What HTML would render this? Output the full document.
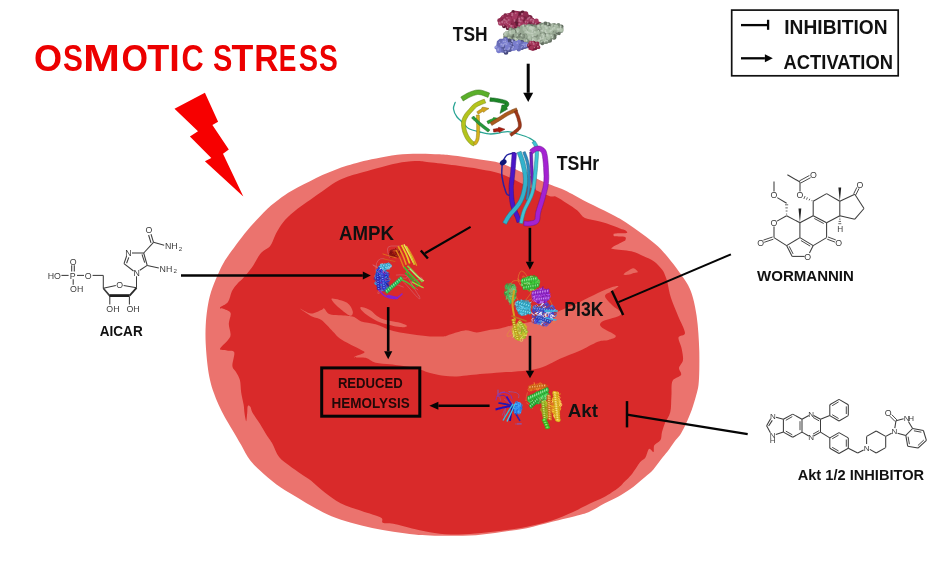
<!DOCTYPE html>
<html><head><meta charset="utf-8"><style>html,body{margin:0;padding:0;background:#fff;width:947px;height:561px;overflow:hidden}svg{display:block}text{font-family:"Liberation Sans",sans-serif}</style></head>
<body><svg width="947" height="561" viewBox="0 0 947 561" font-family="Liberation Sans, sans-serif"><rect width="947" height="561" fill="#fff"/>
<defs><filter id="cb" x="-5%" y="-5%" width="110%" height="110%"><feGaussianBlur stdDeviation="0.6"/></filter></defs><g filter="url(#cb)">
<path d="M418.4,153.7 C425.4,153.6 433.4,154.0 439.5,154.3 C445.6,154.7 448.2,154.9 455.0,155.8 C461.8,156.7 472.4,158.3 480.0,159.6 C487.6,160.8 493.2,161.0 500.7,163.3 C508.2,165.6 517.0,170.1 525.0,173.5 C533.0,176.9 542.5,181.4 548.6,183.9 C554.7,186.4 557.5,187.0 561.4,188.7 C565.3,190.4 568.5,192.2 572.1,194.1 C575.7,196.0 579.2,198.0 582.8,199.9 C586.4,201.8 589.9,203.5 593.5,205.3 C597.1,207.1 600.6,208.8 604.2,210.6 C607.8,212.4 611.3,214.0 614.9,216.0 C618.5,218.0 621.5,219.5 626.0,222.4 C630.5,225.3 636.6,229.7 642.0,233.7 C647.4,237.7 653.3,242.0 658.1,246.5 C662.9,251.0 667.2,256.4 670.9,260.9 C674.6,265.4 677.6,269.7 680.5,273.7 C683.4,277.7 685.9,281.0 688.0,285.0 C690.1,289.0 691.6,292.8 693.0,297.9 C694.4,303.0 695.7,309.8 696.6,315.7 C697.5,321.6 698.0,327.7 698.4,333.6 C698.8,339.6 699.1,345.3 699.3,351.4 C699.4,357.5 699.4,364.4 699.3,370.0 C699.2,375.6 699.0,380.7 698.5,385.0 C698.0,389.3 697.1,391.9 696.0,396.0 C694.9,400.1 693.3,405.4 691.7,409.9 C690.1,414.3 688.2,418.8 686.4,422.7 C684.6,426.6 682.8,430.5 681.0,433.4 C679.2,436.3 677.6,437.4 675.7,440.0 C673.8,442.6 671.6,445.9 669.4,448.9 C667.2,451.9 665.0,454.4 662.3,457.8 C659.6,461.2 656.4,466.1 653.4,469.4 C650.4,472.7 648.4,474.1 644.5,477.4 C640.6,480.7 634.3,486.1 630.0,489.3 C625.7,492.5 622.8,494.0 618.5,496.4 C614.2,498.8 609.0,501.0 604.3,503.5 C599.5,506.0 594.5,509.4 590.0,511.4 C585.5,513.4 583.7,513.8 577.4,515.5 C571.1,517.2 560.5,519.7 552.0,521.8 C543.5,523.9 535.1,526.5 526.7,528.2 C518.3,529.9 509.8,530.8 501.4,532.0 C492.9,533.2 484.4,534.6 476.0,535.2 C467.6,535.8 458.4,535.8 450.7,535.8 C443.0,535.8 436.0,535.6 430.0,535.4 C424.0,535.2 420.6,535.0 414.5,534.4 C408.4,533.8 400.4,532.8 393.4,531.7 C386.3,530.6 379.2,529.5 372.2,528.0 C365.1,526.5 357.9,524.7 351.1,522.7 C344.3,520.8 337.6,518.8 331.5,516.3 C325.4,513.8 320.2,510.9 314.6,507.8 C309.0,504.7 303.3,501.1 297.7,497.7 C292.1,494.3 286.4,491.4 280.8,487.5 C275.2,483.6 268.9,478.5 263.8,474.0 C258.7,469.5 254.1,465.4 250.3,460.5 C246.5,455.6 244.2,450.0 241.2,444.9 C238.2,439.8 235.1,434.5 232.4,429.9 C229.7,425.3 227.3,421.5 225.0,417.4 C222.7,413.2 220.6,409.1 218.7,405.0 C216.8,400.9 215.1,396.7 213.7,392.5 C212.2,388.3 211.0,384.6 210.0,380.0 C209.0,375.4 208.2,371.1 207.5,365.0 C206.8,358.9 206.0,350.0 205.7,343.4 C205.4,336.8 205.4,331.5 205.7,325.6 C206.0,319.7 206.6,313.4 207.5,307.8 C208.4,302.2 209.3,297.5 211.0,292.0 C212.7,286.5 215.5,280.0 217.8,274.8 C220.1,269.6 222.2,265.1 224.9,260.6 C227.6,256.2 230.5,252.6 233.8,248.1 C237.1,243.6 240.6,238.6 244.5,233.8 C248.4,229.1 252.6,224.3 257.0,219.6 C261.4,214.9 266.3,209.6 271.0,205.5 C275.7,201.4 280.6,197.9 285.0,194.9 C289.4,191.9 293.3,189.8 297.5,187.5 C301.7,185.2 305.9,183.3 310.0,181.2 C314.1,179.1 318.2,176.9 322.4,175.0 C326.5,173.1 330.7,171.6 334.9,170.0 C339.1,168.4 343.2,166.9 347.4,165.6 C351.6,164.2 355.2,163.1 360.0,161.9 C364.8,160.7 369.9,159.7 376.1,158.5 C382.3,157.3 390.1,155.6 397.2,154.8 C404.2,154.0 411.3,153.8 418.4,153.7Z" fill="#eb736e"/>
<path d="M415.2,161.1 C420.5,160.9 422.3,161.5 428.9,162.2 C435.5,162.9 446.5,164.1 455.0,165.3 C463.5,166.5 472.4,167.8 480.0,169.2 C487.6,170.6 493.2,171.1 500.7,173.7 C508.2,176.3 517.0,181.3 525.0,185.0 C533.0,188.7 543.4,193.8 548.6,195.7 C553.8,197.6 553.0,195.4 556.0,196.7 C559.0,197.9 563.1,200.9 566.7,203.2 C570.3,205.5 574.4,208.1 577.4,210.6 C580.4,213.1 581.3,216.3 584.9,218.1 C588.5,219.9 594.7,220.2 598.8,221.3 C602.9,222.4 606.0,223.3 609.5,224.5 C613.0,225.7 617.3,227.5 620.0,228.5 C622.7,229.5 624.5,229.8 625.6,230.6 C626.7,231.4 628.2,232.6 626.4,233.1 C624.6,233.6 617.1,233.3 615.0,233.6 C612.9,233.9 613.6,234.6 613.6,235.0 C613.6,235.4 613.1,236.0 615.0,236.3 C616.9,236.6 623.3,236.2 625.0,236.9 C626.7,237.6 625.4,239.7 625.2,240.4 C625.0,241.1 625.8,240.2 623.7,241.3 C621.6,242.4 614.4,245.9 612.6,247.2 C610.8,248.5 609.9,248.2 613.0,248.9 C616.1,249.6 626.1,250.0 631.2,251.2 C636.3,252.4 640.0,254.5 643.7,256.2 C647.5,257.9 650.7,259.0 653.7,261.2 C656.8,263.4 660.0,266.9 662.0,269.5 C664.0,272.1 664.6,274.2 665.5,276.5 C666.4,278.8 666.6,279.4 667.5,283.0 C668.4,286.6 669.2,292.6 671.0,298.0 C672.8,303.4 675.7,309.9 678.0,315.7 C680.3,321.5 684.9,329.4 685.0,333.0 C685.1,336.6 679.1,335.0 678.5,337.5 C677.9,340.0 680.8,344.2 681.5,348.0 C682.2,351.8 683.4,356.7 683.0,360.0 C682.6,363.3 679.3,365.5 679.0,368.0 C678.7,370.5 682.1,372.8 681.0,375.0 C679.9,377.2 674.1,377.5 672.5,381.0 C670.9,384.5 671.8,390.8 671.4,396.0 C671.0,401.2 671.4,407.5 670.3,412.0 C669.2,416.5 666.4,419.7 665.0,423.0 C663.6,426.3 662.8,429.2 662.0,432.0 C661.2,434.8 661.8,437.8 660.5,440.0 C659.2,442.2 655.5,443.3 654.3,445.3 C653.1,447.3 654.4,451.4 653.5,452.0 C652.6,452.6 650.4,448.0 649.0,449.0 C647.6,450.0 646.8,455.6 645.3,457.8 C643.8,460.0 642.2,459.6 640.0,462.3 C637.8,465.0 634.6,470.7 632.0,474.0 C629.4,477.3 626.5,479.8 624.2,482.1 C622.0,484.4 621.8,485.3 618.5,487.8 C615.2,490.3 609.0,494.5 604.3,497.1 C599.5,499.7 595.3,501.0 590.0,503.5 C584.7,506.0 578.8,509.5 572.5,512.3 C566.2,515.1 559.8,518.0 552.0,520.5 C544.2,523.0 534.4,525.3 526.0,527.0 C517.6,528.7 509.9,529.6 501.4,530.7 C492.9,531.8 483.4,532.9 475.0,533.5 C466.6,534.1 458.2,534.7 450.7,534.5 C443.2,534.3 436.0,533.1 430.0,532.2 C424.0,531.3 420.6,530.5 414.5,529.1 C408.4,527.7 398.7,524.9 393.4,523.8 C388.1,522.7 384.9,523.8 382.8,522.7 C380.7,521.7 384.2,519.4 380.7,517.5 C377.2,515.6 368.4,513.5 361.7,511.1 C355.0,508.7 346.8,506.3 340.6,503.2 C334.5,500.1 329.7,496.3 324.8,492.6 C319.9,488.9 315.1,483.9 311.2,480.8 C307.2,477.7 304.8,476.6 301.1,474.0 C297.4,471.4 292.9,468.3 289.2,465.5 C285.5,462.7 281.9,460.8 279.1,457.1 C276.3,453.4 274.2,447.0 272.3,443.5 C270.4,440.0 269.5,439.5 267.4,436.2 C265.3,432.9 262.4,427.7 259.9,423.7 C257.4,419.7 254.0,415.2 252.4,412.4 C250.8,409.6 251.3,408.1 250.5,407.0 C249.7,405.9 248.4,405.0 247.8,406.0 C247.2,407.0 247.5,410.5 247.2,413.0 C246.9,415.5 246.6,421.2 246.2,421.2 C245.8,421.2 244.9,415.7 244.5,413.0 C244.1,410.3 244.2,408.4 243.7,405.0 C243.1,401.6 241.8,396.7 241.2,392.5 C240.6,388.3 240.8,383.4 239.9,380.0 C239.0,376.6 237.2,374.3 236.0,372.0 C234.8,369.7 232.7,369.3 232.4,366.0 C232.1,362.7 235.1,354.9 234.2,352.3 C233.3,349.7 229.4,351.1 227.0,350.5 C224.6,349.9 219.8,350.8 220.0,349.0 C220.2,347.2 226.2,342.4 228.0,340.0 C229.8,337.6 230.5,337.2 230.6,334.5 C230.7,331.8 228.8,327.4 228.8,323.8 C228.8,320.2 231.4,315.6 230.6,313.1 C229.8,310.6 225.8,309.9 224.0,309.0 C222.2,308.1 219.3,308.7 220.0,307.5 C220.7,306.3 226.0,304.8 228.0,302.0 C230.0,299.2 230.3,294.2 232.0,291.0 C233.7,287.8 236.2,285.1 238.0,283.0 C239.8,280.9 240.5,280.9 242.8,278.4 C245.1,275.8 248.7,271.9 251.7,267.7 C254.7,263.5 257.6,257.0 260.6,253.4 C263.7,249.8 267.6,249.2 270.0,246.3 C272.4,243.4 273.6,238.7 274.9,236.0 C276.2,233.3 276.3,232.7 278.0,230.0 C279.7,227.3 281.8,223.6 285.0,220.0 C288.2,216.4 293.3,212.0 297.5,208.7 C301.7,205.3 305.9,202.8 310.0,199.9 C314.1,197.0 318.2,194.1 322.4,191.2 C326.5,188.3 330.7,184.9 334.9,182.5 C339.1,180.1 343.2,178.4 347.4,176.8 C351.6,175.2 355.2,174.5 360.0,173.1 C364.8,171.7 369.9,170.2 376.1,168.5 C382.3,166.8 390.7,164.4 397.2,163.2 C403.7,162.0 409.9,161.3 415.2,161.1Z" fill="#d92a29"/>
<path d="M300.0,308.5 C299.8,308.0 307.4,313.2 311.0,313.5 C314.6,313.8 319.2,310.8 321.4,310.0 C323.6,309.2 322.8,307.8 324.2,308.5 C325.6,309.2 326.2,313.1 330.0,314.3 C333.8,315.5 343.1,315.2 347.1,315.7 C351.1,316.2 351.8,316.2 354.2,317.1 C356.6,318.1 357.7,320.2 361.3,321.4 C364.9,322.6 370.8,322.8 375.6,324.2 C380.4,325.6 385.4,328.5 390.0,330.0 C394.6,331.5 398.9,332.2 403.4,333.0 C407.8,333.8 412.2,334.4 416.7,335.0 C421.1,335.6 425.6,336.2 430.1,336.4 C434.6,336.6 440.2,336.7 443.5,336.4 C446.8,336.1 446.6,335.4 450.1,334.4 C453.7,333.4 460.3,330.7 464.8,330.4 C469.3,330.1 472.7,332.5 476.9,332.4 C481.1,332.3 486.3,330.4 490.2,329.7 C494.1,329.0 496.1,329.2 500.0,328.4 C503.9,327.6 508.3,326.1 513.7,324.9 C519.1,323.7 526.2,322.9 532.4,321.2 C538.6,319.5 545.7,316.7 551.1,314.6 C556.5,312.5 560.3,310.5 565.0,308.5 C569.7,306.5 573.7,305.0 579.2,302.4 C584.7,299.8 592.6,295.6 597.9,293.1 C603.2,290.6 607.6,288.6 611.0,287.5 C614.4,286.4 618.3,285.7 618.5,286.3 C618.7,286.9 614.2,289.4 612.0,291.0 C609.8,292.6 605.0,293.7 605.0,296.0 C605.0,298.3 609.3,302.0 612.0,305.0 C614.7,308.0 622.9,311.5 621.4,314.2 C619.9,316.9 606.1,319.2 602.8,321.3 C599.5,323.4 599.3,324.6 601.4,327.0 C603.5,329.4 614.4,333.5 615.6,335.6 C616.8,337.8 611.5,338.9 608.5,339.9 C605.5,340.9 602.8,339.8 597.9,341.7 C593.0,343.6 585.4,348.3 579.2,351.1 C573.0,353.9 566.1,356.1 560.5,358.6 C554.9,361.1 550.2,364.1 545.5,366.0 C540.8,367.9 537.7,368.9 532.4,369.8 C527.1,370.8 519.1,371.2 513.7,371.7 C508.3,372.1 505.0,372.1 500.0,372.5 C495.0,372.9 488.6,373.4 483.6,373.8 C478.6,374.2 474.7,374.7 470.2,375.1 C465.7,375.6 461.2,376.4 456.8,376.5 C452.4,376.6 447.9,376.4 443.5,375.8 C439.1,375.2 433.9,374.1 430.1,373.1 C426.3,372.1 424.1,370.8 420.7,369.8 C417.3,368.8 413.4,367.7 410.0,367.0 C406.6,366.3 403.4,366.1 400.0,365.6 C396.6,365.1 394.0,364.7 389.9,364.2 C385.8,363.7 379.7,363.9 375.6,362.8 C371.6,361.7 369.2,358.8 365.6,357.8 C362.0,356.9 354.4,357.9 354.2,357.1 C354.0,356.3 363.0,354.0 364.2,352.8 C365.4,351.6 363.7,351.3 361.3,349.9 C358.9,348.5 353.5,346.1 349.9,344.2 C346.3,342.3 342.8,340.6 339.9,338.5 C337.0,336.4 335.9,334.5 332.8,331.4 C329.7,328.3 324.9,322.5 321.4,320.0 C317.9,317.5 315.6,318.4 312.0,316.5 C308.4,314.6 300.2,309.0 300.0,308.5Z" fill="#e7675f"/>
<path d="M332.8,298.6 C335.2,298.8 343.8,300.7 347.1,302.8 C350.4,304.9 352.3,309.2 352.8,311.4 C353.3,313.5 352.0,316.2 349.9,315.7 C347.8,315.2 342.8,310.9 339.9,308.5 C337.0,306.1 334.0,303.0 332.8,301.4 C331.6,299.8 330.4,298.4 332.8,298.6Z" fill="#e7675f"/>
<path d="M361.3,307.1 C362.7,307.1 366.6,308.1 369.9,310.0 C373.2,311.9 376.3,316.4 381.3,318.5 C386.3,320.6 395.7,321.6 400.0,322.8 C404.3,324.1 407.0,325.3 407.0,326.0 C407.0,326.7 404.3,327.6 400.0,327.1 C395.7,326.6 386.3,324.5 381.3,322.8 C376.3,321.1 373.2,319.2 369.9,317.1 C366.6,315.0 362.7,311.7 361.3,310.0 C359.9,308.3 359.9,307.1 361.3,307.1Z" fill="#e7675f"/>
<path d="M623.5,274.2 C623.7,273.4 627.3,271.2 629.0,270.2 C630.7,269.2 632.0,268.0 633.5,268.3 C635.0,268.6 637.9,271.2 637.8,272.0 C637.7,272.8 634.6,272.7 633.0,273.2 C631.4,273.7 629.6,274.6 628.0,274.8 C626.4,275.0 623.3,275.0 623.5,274.2Z" fill="#e7675f"/>
</g>
<path d="M174.5,108.8 L204.9,92.8 L218.1,121.7 L212.4,124.9 L228.8,149.4 L223.0,153.7 L243.3,196.5 L204.9,161.2 L211.3,158.0 L189.9,136.6 L198.0,131.3Z" fill="#f70000"/>
<line x1="528.2" y1="63.7" x2="528.2" y2="92.8" stroke="#050505" stroke-width="3.00" stroke-linecap="butt"/><path d="M523.2,92.8 L533.2,92.8 L528.2,102.0 Z" fill="#050505"/>
<line x1="181.0" y1="275.5" x2="362.8" y2="275.5" stroke="#050505" stroke-width="2.60" stroke-linecap="butt"/><path d="M362.8,271.6 L362.8,279.4 L370.8,275.5 Z" fill="#050505"/>
<line x1="529.9" y1="227.8" x2="529.9" y2="261.7" stroke="#050505" stroke-width="2.60" stroke-linecap="butt"/><path d="M525.8,261.7 L534.0,261.7 L529.9,269.7 Z" fill="#050505"/>
<line x1="388.2" y1="307.1" x2="388.2" y2="351.3" stroke="#050505" stroke-width="2.60" stroke-linecap="butt"/><path d="M384.1,351.3 L392.3,351.3 L388.2,359.2 Z" fill="#050505"/>
<line x1="530.0" y1="335.8" x2="530.0" y2="370.7" stroke="#050505" stroke-width="2.60" stroke-linecap="butt"/><path d="M525.8,370.7 L534.2,370.7 L530.0,378.3 Z" fill="#050505"/>
<line x1="489.6" y1="405.8" x2="438.4" y2="405.8" stroke="#050505" stroke-width="2.60" stroke-linecap="butt"/><path d="M438.4,401.8 L438.4,409.8 L429.4,405.8 Z" fill="#050505"/>
<line x1="470.6" y1="226.9" x2="425.0" y2="253.2" stroke="#050505" stroke-width="2.20" stroke-linecap="butt"/>
<line x1="420.8" y1="250.5" x2="427.9" y2="258.5" stroke="#050505" stroke-width="2.40" stroke-linecap="butt"/>
<line x1="730.9" y1="254.4" x2="618.5" y2="302.1" stroke="#050505" stroke-width="2.10" stroke-linecap="butt"/>
<line x1="611.8" y1="290.7" x2="623.2" y2="314.9" stroke="#050505" stroke-width="2.40" stroke-linecap="butt"/>
<line x1="747.7" y1="434.1" x2="627.0" y2="414.6" stroke="#050505" stroke-width="2.10" stroke-linecap="butt"/>
<line x1="627.0" y1="401.1" x2="627.0" y2="427.4" stroke="#050505" stroke-width="2.50" stroke-linecap="butt"/>
<rect x="321.7" y="367.9" width="98.1" height="48.3" fill="none" stroke="#050505" stroke-width="3"/>
<rect x="731.7" y="10.1" width="166.5" height="65.7" fill="#fff" stroke="#111" stroke-width="1.7"/>
<line x1="741.0" y1="25.1" x2="768.3" y2="25.1" stroke="#050505" stroke-width="2.30" stroke-linecap="butt"/>
<line x1="768.1" y1="19.8" x2="768.1" y2="29.8" stroke="#050505" stroke-width="2.30" stroke-linecap="butt"/>
<line x1="741.0" y1="58.3" x2="764.9" y2="58.3" stroke="#050505" stroke-width="2.30" stroke-linecap="butt"/><path d="M764.9,54.3 L764.9,62.3 L772.8,58.3 Z" fill="#050505"/>
<defs><filter id="pb" x="-20%" y="-20%" width="140%" height="140%"><feGaussianBlur stdDeviation="0.35"/></filter></defs>
<g filter="url(#pb)"><path d="M498.3,19.7 L501.8,15.8 L507.6,14.3 L513.5,10.4 L521.4,11.4 L529.2,14.8 L533.1,19.7 L541.0,22.2 L541.0,24.6 L533.1,25.6 L527.3,25.6 L519.4,28.5 L511.6,29.0 L502.7,26.6 L498.5,23.5 Z" fill="#90294f"/><path d="M502.1,26.2a1.9,1.9 0 1,0 3.9,0a1.9,1.9 0 1,0 -3.9,0M517.6,18.8a1.8,1.8 0 1,0 3.7,0a1.8,1.8 0 1,0 -3.7,0M515.6,23.8a1.7,1.7 0 1,0 3.3,0a1.7,1.7 0 1,0 -3.3,0M505.7,28.0a2.3,2.3 0 1,0 4.7,0a2.3,2.3 0 1,0 -4.7,0M532.0,22.9a1.7,1.7 0 1,0 3.5,0a1.7,1.7 0 1,0 -3.5,0M503.5,20.6a2.1,2.1 0 1,0 4.3,0a2.1,2.1 0 1,0 -4.3,0M512.4,18.6a1.9,1.9 0 1,0 3.7,0a1.9,1.9 0 1,0 -3.7,0M520.4,18.9a2.6,2.6 0 1,0 5.2,0a2.6,2.6 0 1,0 -5.2,0M520.9,14.1a1.8,1.8 0 1,0 3.5,0a1.8,1.8 0 1,0 -3.5,0M518.0,19.4a1.8,1.8 0 1,0 3.7,0a1.8,1.8 0 1,0 -3.7,0M511.4,11.7a1.6,1.6 0 1,0 3.3,0a1.6,1.6 0 1,0 -3.3,0M517.9,14.3a2.2,2.2 0 1,0 4.4,0a2.2,2.2 0 1,0 -4.4,0M503.1,23.5a2.0,2.0 0 1,0 4.1,0a2.0,2.0 0 1,0 -4.1,0M513.0,21.1a2.1,2.1 0 1,0 4.3,0a2.1,2.1 0 1,0 -4.3,0M509.9,22.1a2.1,2.1 0 1,0 4.2,0a2.1,2.1 0 1,0 -4.2,0M509.0,26.4a2.4,2.4 0 1,0 4.8,0a2.4,2.4 0 1,0 -4.8,0M509.7,27.9a1.9,1.9 0 1,0 3.7,0a1.9,1.9 0 1,0 -3.7,0M520.1,13.6a2.6,2.6 0 1,0 5.1,0a2.6,2.6 0 1,0 -5.1,0M508.4,19.7a2.6,2.6 0 1,0 5.1,0a2.6,2.6 0 1,0 -5.1,0M533.6,23.2a2.3,2.3 0 1,0 4.7,0a2.3,2.3 0 1,0 -4.7,0M528.5,21.6a2.2,2.2 0 1,0 4.4,0a2.2,2.2 0 1,0 -4.4,0M512.4,28.4a2.0,2.0 0 1,0 4.0,0a2.0,2.0 0 1,0 -4.0,0M500.8,22.5a1.8,1.8 0 1,0 3.6,0a1.8,1.8 0 1,0 -3.6,0M521.3,18.8a2.5,2.5 0 1,0 5.0,0a2.5,2.5 0 1,0 -5.0,0M505.8,21.9a1.7,1.7 0 1,0 3.4,0a1.7,1.7 0 1,0 -3.4,0" fill="#601b34"/><path d="M514.9,19.6a2.1,2.1 0 1,0 4.2,0a2.1,2.1 0 1,0 -4.2,0M506.0,18.9a1.7,1.7 0 1,0 3.4,0a1.7,1.7 0 1,0 -3.4,0M532.3,20.8a1.8,1.8 0 1,0 3.6,0a1.8,1.8 0 1,0 -3.6,0M527.4,23.6a1.7,1.7 0 1,0 3.5,0a1.7,1.7 0 1,0 -3.5,0M508.9,21.3a2.4,2.4 0 1,0 4.8,0a2.4,2.4 0 1,0 -4.8,0M526.0,22.9a2.3,2.3 0 1,0 4.6,0a2.3,2.3 0 1,0 -4.6,0M534.0,24.2a2.2,2.2 0 1,0 4.4,0a2.2,2.2 0 1,0 -4.4,0M521.9,18.9a2.5,2.5 0 1,0 5.1,0a2.5,2.5 0 1,0 -5.1,0M532.8,25.3a2.3,2.3 0 1,0 4.6,0a2.3,2.3 0 1,0 -4.6,0M500.4,22.0a2.6,2.6 0 1,0 5.1,0a2.6,2.6 0 1,0 -5.1,0M503.7,15.5a1.8,1.8 0 1,0 3.5,0a1.8,1.8 0 1,0 -3.5,0M505.8,22.5a2.0,2.0 0 1,0 4.0,0a2.0,2.0 0 1,0 -4.0,0M527.5,18.1a2.6,2.6 0 1,0 5.1,0a2.6,2.6 0 1,0 -5.1,0M526.3,19.9a2.0,2.0 0 1,0 4.1,0a2.0,2.0 0 1,0 -4.1,0M510.6,15.8a2.2,2.2 0 1,0 4.5,0a2.2,2.2 0 1,0 -4.5,0M532.9,21.6a2.4,2.4 0 1,0 4.9,0a2.4,2.4 0 1,0 -4.9,0M502.3,20.7a1.8,1.8 0 1,0 3.5,0a1.8,1.8 0 1,0 -3.5,0M507.7,25.0a2.4,2.4 0 1,0 4.8,0a2.4,2.4 0 1,0 -4.8,0M525.5,22.7a2.1,2.1 0 1,0 4.3,0a2.1,2.1 0 1,0 -4.3,0" fill="#782242"/><path d="M497.2,20.5a2.2,2.2 0 1,0 4.5,0a2.2,2.2 0 1,0 -4.5,0M505.2,18.3a2.4,2.4 0 1,0 4.7,0a2.4,2.4 0 1,0 -4.7,0M506.6,14.7a1.7,1.7 0 1,0 3.4,0a1.7,1.7 0 1,0 -3.4,0M523.1,13.9a2.6,2.6 0 1,0 5.2,0a2.6,2.6 0 1,0 -5.2,0M501.6,16.6a1.9,1.9 0 1,0 3.8,0a1.9,1.9 0 1,0 -3.8,0M518.1,17.7a2.4,2.4 0 1,0 4.8,0a2.4,2.4 0 1,0 -4.8,0M513.5,13.6a1.6,1.6 0 1,0 3.2,0a1.6,1.6 0 1,0 -3.2,0M508.1,20.6a1.7,1.7 0 1,0 3.3,0a1.7,1.7 0 1,0 -3.3,0M531.1,20.0a1.7,1.7 0 1,0 3.5,0a1.7,1.7 0 1,0 -3.5,0M511.8,16.8a1.8,1.8 0 1,0 3.6,0a1.8,1.8 0 1,0 -3.6,0M530.0,25.6a2.3,2.3 0 1,0 4.6,0a2.3,2.3 0 1,0 -4.6,0M507.0,26.1a2.2,2.2 0 1,0 4.3,0a2.2,2.2 0 1,0 -4.3,0M502.8,20.2a2.4,2.4 0 1,0 4.7,0a2.4,2.4 0 1,0 -4.7,0M526.8,18.9a1.9,1.9 0 1,0 3.8,0a1.9,1.9 0 1,0 -3.8,0M509.6,19.2a2.4,2.4 0 1,0 4.9,0a2.4,2.4 0 1,0 -4.9,0M502.8,23.8a1.8,1.8 0 1,0 3.6,0a1.8,1.8 0 1,0 -3.6,0M530.0,20.0a2.3,2.3 0 1,0 4.6,0a2.3,2.3 0 1,0 -4.6,0M514.8,14.0a2.0,2.0 0 1,0 4.0,0a2.0,2.0 0 1,0 -4.0,0M504.4,16.5a2.5,2.5 0 1,0 5.0,0a2.5,2.5 0 1,0 -5.0,0M510.7,21.8a2.1,2.1 0 1,0 4.3,0a2.1,2.1 0 1,0 -4.3,0M520.8,14.6a1.9,1.9 0 1,0 3.8,0a1.9,1.9 0 1,0 -3.8,0M507.7,20.5a1.7,1.7 0 1,0 3.4,0a1.7,1.7 0 1,0 -3.4,0M509.3,15.0a2.2,2.2 0 1,0 4.3,0a2.2,2.2 0 1,0 -4.3,0M524.1,22.4a2.0,2.0 0 1,0 4.1,0a2.0,2.0 0 1,0 -4.1,0M509.0,16.5a2.4,2.4 0 1,0 4.7,0a2.4,2.4 0 1,0 -4.7,0" fill="#90294f"/><path d="M523.7,25.1a2.4,2.4 0 1,0 4.8,0a2.4,2.4 0 1,0 -4.8,0M518.1,21.4a1.8,1.8 0 1,0 3.6,0a1.8,1.8 0 1,0 -3.6,0M517.7,24.9a2.3,2.3 0 1,0 4.6,0a2.3,2.3 0 1,0 -4.6,0M498.0,23.5a2.1,2.1 0 1,0 4.3,0a2.1,2.1 0 1,0 -4.3,0M529.4,20.4a1.8,1.8 0 1,0 3.5,0a1.8,1.8 0 1,0 -3.5,0M518.6,28.1a1.6,1.6 0 1,0 3.2,0a1.6,1.6 0 1,0 -3.2,0M520.3,18.3a2.0,2.0 0 1,0 4.0,0a2.0,2.0 0 1,0 -4.0,0M519.2,22.0a2.1,2.1 0 1,0 4.2,0a2.1,2.1 0 1,0 -4.2,0M504.0,21.3a1.8,1.8 0 1,0 3.7,0a1.8,1.8 0 1,0 -3.7,0M514.5,13.9a1.8,1.8 0 1,0 3.5,0a1.8,1.8 0 1,0 -3.5,0M521.7,25.6a2.5,2.5 0 1,0 5.0,0a2.5,2.5 0 1,0 -5.0,0M525.2,20.5a2.1,2.1 0 1,0 4.2,0a2.1,2.1 0 1,0 -4.2,0M511.9,16.9a2.6,2.6 0 1,0 5.1,0a2.6,2.6 0 1,0 -5.1,0M504.5,22.9a2.5,2.5 0 1,0 5.1,0a2.5,2.5 0 1,0 -5.1,0M500.7,22.8a2.0,2.0 0 1,0 4.1,0a2.0,2.0 0 1,0 -4.1,0M510.2,26.6a2.0,2.0 0 1,0 4.1,0a2.0,2.0 0 1,0 -4.1,0M510.9,14.4a1.9,1.9 0 1,0 3.8,0a1.9,1.9 0 1,0 -3.8,0M505.8,23.9a2.6,2.6 0 1,0 5.1,0a2.6,2.6 0 1,0 -5.1,0M533.9,20.9a2.4,2.4 0 1,0 4.9,0a2.4,2.4 0 1,0 -4.9,0M506.5,24.2a2.1,2.1 0 1,0 4.3,0a2.1,2.1 0 1,0 -4.3,0M506.8,19.3a2.4,2.4 0 1,0 4.7,0a2.4,2.4 0 1,0 -4.7,0M510.2,26.2a1.6,1.6 0 1,0 3.2,0a1.6,1.6 0 1,0 -3.2,0" fill="#a43860"/><path d="M502.6,25.6a0.9,0.9 0 1,0 1.8,0a0.9,0.9 0 1,0 -1.8,0M524.8,24.5a0.7,0.7 0 1,0 1.5,0a0.7,0.7 0 1,0 -1.5,0M506.7,27.4a0.8,0.8 0 1,0 1.6,0a0.8,0.8 0 1,0 -1.6,0M506.2,17.7a0.7,0.7 0 1,0 1.5,0a0.7,0.7 0 1,0 -1.5,0M506.8,14.1a0.9,0.9 0 1,0 1.8,0a0.9,0.9 0 1,0 -1.8,0M532.6,20.2a0.8,0.8 0 1,0 1.7,0a0.8,0.8 0 1,0 -1.7,0M502.2,16.0a0.6,0.6 0 1,0 1.3,0a0.6,0.6 0 1,0 -1.3,0M532.2,22.3a1.0,1.0 0 1,0 1.9,0a1.0,1.0 0 1,0 -1.9,0M518.5,20.8a0.8,0.8 0 1,0 1.5,0a0.8,0.8 0 1,0 -1.5,0M526.9,22.3a0.8,0.8 0 1,0 1.6,0a0.8,0.8 0 1,0 -1.6,0M518.4,24.3a1.0,1.0 0 1,0 2.0,0a1.0,1.0 0 1,0 -2.0,0M498.7,22.9a0.9,0.9 0 1,0 1.7,0a0.9,0.9 0 1,0 -1.7,0M529.7,19.8a0.9,0.9 0 1,0 1.8,0a0.9,0.9 0 1,0 -1.8,0M521.5,18.3a0.9,0.9 0 1,0 1.8,0a0.9,0.9 0 1,0 -1.8,0M534.6,23.6a0.9,0.9 0 1,0 1.8,0a0.9,0.9 0 1,0 -1.8,0M521.0,17.7a0.7,0.7 0 1,0 1.4,0a0.7,0.7 0 1,0 -1.4,0M518.3,18.8a1.0,1.0 0 1,0 1.9,0a1.0,1.0 0 1,0 -1.9,0M519.9,21.4a0.8,0.8 0 1,0 1.7,0a0.8,0.8 0 1,0 -1.7,0M504.5,20.7a0.8,0.8 0 1,0 1.6,0a0.8,0.8 0 1,0 -1.6,0M530.8,25.0a1.0,1.0 0 1,0 1.9,0a1.0,1.0 0 1,0 -1.9,0M501.5,21.4a0.9,0.9 0 1,0 1.8,0a0.9,0.9 0 1,0 -1.8,0M503.5,19.6a1.0,1.0 0 1,0 2.0,0a1.0,1.0 0 1,0 -2.0,0M527.2,18.3a0.9,0.9 0 1,0 1.8,0a0.9,0.9 0 1,0 -1.8,0M514.9,13.3a0.8,0.8 0 1,0 1.6,0a0.8,0.8 0 1,0 -1.6,0M522.7,25.0a0.9,0.9 0 1,0 1.7,0a0.9,0.9 0 1,0 -1.7,0M503.9,22.9a0.7,0.7 0 1,0 1.4,0a0.7,0.7 0 1,0 -1.4,0M531.0,19.4a0.8,0.8 0 1,0 1.6,0a0.8,0.8 0 1,0 -1.6,0M513.7,20.5a0.9,0.9 0 1,0 1.7,0a0.9,0.9 0 1,0 -1.7,0M510.0,25.8a0.8,0.8 0 1,0 1.7,0a0.8,0.8 0 1,0 -1.7,0M528.5,17.5a1.0,1.0 0 1,0 2.0,0a1.0,1.0 0 1,0 -2.0,0M527.0,19.3a0.7,0.7 0 1,0 1.5,0a0.7,0.7 0 1,0 -1.5,0M505.6,22.3a0.8,0.8 0 1,0 1.7,0a0.8,0.8 0 1,0 -1.7,0M501.2,22.2a1.0,1.0 0 1,0 2.0,0a1.0,1.0 0 1,0 -2.0,0M510.7,26.0a0.9,0.9 0 1,0 1.8,0a0.9,0.9 0 1,0 -1.8,0M511.2,13.8a1.0,1.0 0 1,0 2.0,0a1.0,1.0 0 1,0 -2.0,0M507.1,23.3a0.6,0.6 0 1,0 1.3,0a0.6,0.6 0 1,0 -1.3,0M511.2,15.2a1.0,1.0 0 1,0 2.0,0a1.0,1.0 0 1,0 -2.0,0M502.8,20.1a0.7,0.7 0 1,0 1.4,0a0.7,0.7 0 1,0 -1.4,0M521.1,14.0a1.0,1.0 0 1,0 2.0,0a1.0,1.0 0 1,0 -2.0,0M508.8,24.4a0.7,0.7 0 1,0 1.4,0a0.7,0.7 0 1,0 -1.4,0M513.2,27.8a0.6,0.6 0 1,0 1.2,0a0.6,0.6 0 1,0 -1.2,0M501.1,21.9a0.9,0.9 0 1,0 1.8,0a0.9,0.9 0 1,0 -1.8,0M506.2,21.3a0.7,0.7 0 1,0 1.3,0a0.7,0.7 0 1,0 -1.3,0M507.9,19.9a0.9,0.9 0 1,0 1.8,0a0.9,0.9 0 1,0 -1.8,0M524.8,21.8a0.8,0.8 0 1,0 1.5,0a0.8,0.8 0 1,0 -1.5,0M510.5,25.6a0.7,0.7 0 1,0 1.4,0a0.7,0.7 0 1,0 -1.4,0" fill="#bc6c8a"/><path d="M504.7,33.4 L509.6,29.5 L519.4,27.5 L527.3,24.6 L537.1,25.6 L544.9,24.1 L554.7,23.6 L562.5,26.1 L563.5,29.5 L558.6,34.4 L552.7,38.3 L548.8,42.3 L541.0,43.2 L533.1,42.3 L527.3,41.3 L519.4,41.3 L511.6,40.3 L505.7,37.4 Z" fill="#95a591"/><path d="M524.5,41.1a2.5,2.5 0 1,0 5.1,0a2.5,2.5 0 1,0 -5.1,0M558.9,26.8a2.3,2.3 0 1,0 4.7,0a2.3,2.3 0 1,0 -4.7,0M529.6,34.0a2.2,2.2 0 1,0 4.5,0a2.2,2.2 0 1,0 -4.5,0M555.9,32.6a1.7,1.7 0 1,0 3.5,0a1.7,1.7 0 1,0 -3.5,0M545.4,33.1a1.8,1.8 0 1,0 3.7,0a1.8,1.8 0 1,0 -3.7,0M555.9,28.9a2.1,2.1 0 1,0 4.3,0a2.1,2.1 0 1,0 -4.3,0M520.9,27.7a2.1,2.1 0 1,0 4.2,0a2.1,2.1 0 1,0 -4.2,0M546.4,24.8a2.1,2.1 0 1,0 4.1,0a2.1,2.1 0 1,0 -4.1,0M516.2,40.8a1.8,1.8 0 1,0 3.6,0a1.8,1.8 0 1,0 -3.6,0M509.2,33.8a1.7,1.7 0 1,0 3.5,0a1.7,1.7 0 1,0 -3.5,0M513.1,36.8a1.7,1.7 0 1,0 3.5,0a1.7,1.7 0 1,0 -3.5,0M550.8,26.7a1.7,1.7 0 1,0 3.5,0a1.7,1.7 0 1,0 -3.5,0M513.9,37.2a1.6,1.6 0 1,0 3.3,0a1.6,1.6 0 1,0 -3.3,0M548.1,38.1a1.6,1.6 0 1,0 3.2,0a1.6,1.6 0 1,0 -3.2,0M541.7,29.8a1.8,1.8 0 1,0 3.6,0a1.8,1.8 0 1,0 -3.6,0M517.0,35.2a2.4,2.4 0 1,0 4.8,0a2.4,2.4 0 1,0 -4.8,0M545.0,28.3a2.3,2.3 0 1,0 4.6,0a2.3,2.3 0 1,0 -4.6,0M551.8,36.8a2.4,2.4 0 1,0 4.7,0a2.4,2.4 0 1,0 -4.7,0M525.3,32.7a2.4,2.4 0 1,0 4.9,0a2.4,2.4 0 1,0 -4.9,0M540.1,42.4a2.3,2.3 0 1,0 4.5,0a2.3,2.3 0 1,0 -4.5,0M543.4,24.1a2.1,2.1 0 1,0 4.1,0a2.1,2.1 0 1,0 -4.1,0M544.7,33.4a2.5,2.5 0 1,0 5.1,0a2.5,2.5 0 1,0 -5.1,0M555.6,32.6a1.7,1.7 0 1,0 3.4,0a1.7,1.7 0 1,0 -3.4,0M512.9,33.6a2.4,2.4 0 1,0 4.8,0a2.4,2.4 0 1,0 -4.8,0M531.0,31.5a2.0,2.0 0 1,0 4.0,0a2.0,2.0 0 1,0 -4.0,0M547.0,40.3a2.5,2.5 0 1,0 5.0,0a2.5,2.5 0 1,0 -5.0,0M547.6,27.5a2.2,2.2 0 1,0 4.5,0a2.2,2.2 0 1,0 -4.5,0M510.4,35.6a2.4,2.4 0 1,0 4.8,0a2.4,2.4 0 1,0 -4.8,0M541.6,38.4a1.8,1.8 0 1,0 3.6,0a1.8,1.8 0 1,0 -3.6,0M531.0,36.8a2.2,2.2 0 1,0 4.4,0a2.2,2.2 0 1,0 -4.4,0M512.4,31.1a1.9,1.9 0 1,0 3.8,0a1.9,1.9 0 1,0 -3.8,0M559.6,30.8a1.9,1.9 0 1,0 3.8,0a1.9,1.9 0 1,0 -3.8,0M528.2,40.7a2.5,2.5 0 1,0 5.1,0a2.5,2.5 0 1,0 -5.1,0M520.6,36.3a2.2,2.2 0 1,0 4.5,0a2.2,2.2 0 1,0 -4.5,0M540.8,31.3a2.4,2.4 0 1,0 4.7,0a2.4,2.4 0 1,0 -4.7,0M551.9,25.4a2.2,2.2 0 1,0 4.4,0a2.2,2.2 0 1,0 -4.4,0M509.2,39.6a2.0,2.0 0 1,0 4.1,0a2.0,2.0 0 1,0 -4.1,0M525.0,30.7a1.9,1.9 0 1,0 3.9,0a1.9,1.9 0 1,0 -3.9,0M529.1,26.9a2.5,2.5 0 1,0 4.9,0a2.5,2.5 0 1,0 -4.9,0M513.6,36.9a2.2,2.2 0 1,0 4.4,0a2.2,2.2 0 1,0 -4.4,0M550.6,36.0a1.6,1.6 0 1,0 3.2,0a1.6,1.6 0 1,0 -3.2,0M557.4,33.5a1.7,1.7 0 1,0 3.4,0a1.7,1.7 0 1,0 -3.4,0" fill="#636e61"/><path d="M528.6,28.9a2.2,2.2 0 1,0 4.5,0a2.2,2.2 0 1,0 -4.5,0M530.1,29.8a2.0,2.0 0 1,0 3.9,0a2.0,2.0 0 1,0 -3.9,0M533.0,34.6a2.6,2.6 0 1,0 5.1,0a2.6,2.6 0 1,0 -5.1,0M521.9,26.3a1.9,1.9 0 1,0 3.9,0a1.9,1.9 0 1,0 -3.9,0M546.2,41.4a1.7,1.7 0 1,0 3.4,0a1.7,1.7 0 1,0 -3.4,0M547.7,39.1a1.8,1.8 0 1,0 3.7,0a1.8,1.8 0 1,0 -3.7,0M531.1,41.7a2.5,2.5 0 1,0 4.9,0a2.5,2.5 0 1,0 -4.9,0M538.8,25.1a2.6,2.6 0 1,0 5.2,0a2.6,2.6 0 1,0 -5.2,0M551.2,37.8a1.7,1.7 0 1,0 3.4,0a1.7,1.7 0 1,0 -3.4,0M509.1,30.2a2.3,2.3 0 1,0 4.6,0a2.3,2.3 0 1,0 -4.6,0M536.6,31.3a2.5,2.5 0 1,0 5.0,0a2.5,2.5 0 1,0 -5.0,0M532.9,26.4a2.1,2.1 0 1,0 4.2,0a2.1,2.1 0 1,0 -4.2,0M558.9,28.7a2.2,2.2 0 1,0 4.5,0a2.2,2.2 0 1,0 -4.5,0M538.6,31.8a1.8,1.8 0 1,0 3.5,0a1.8,1.8 0 1,0 -3.5,0M508.6,36.0a1.7,1.7 0 1,0 3.5,0a1.7,1.7 0 1,0 -3.5,0M527.0,33.9a2.6,2.6 0 1,0 5.2,0a2.6,2.6 0 1,0 -5.2,0M526.7,25.8a2.0,2.0 0 1,0 4.0,0a2.0,2.0 0 1,0 -4.0,0M516.7,27.9a1.6,1.6 0 1,0 3.3,0a1.6,1.6 0 1,0 -3.3,0M520.7,36.2a2.2,2.2 0 1,0 4.4,0a2.2,2.2 0 1,0 -4.4,0M549.8,30.8a2.1,2.1 0 1,0 4.3,0a2.1,2.1 0 1,0 -4.3,0M539.0,29.3a1.6,1.6 0 1,0 3.3,0a1.6,1.6 0 1,0 -3.3,0M503.2,37.0a2.6,2.6 0 1,0 5.2,0a2.6,2.6 0 1,0 -5.2,0M508.4,29.6a2.2,2.2 0 1,0 4.5,0a2.2,2.2 0 1,0 -4.5,0M514.7,35.1a2.2,2.2 0 1,0 4.5,0a2.2,2.2 0 1,0 -4.5,0M533.5,33.0a2.2,2.2 0 1,0 4.4,0a2.2,2.2 0 1,0 -4.4,0M520.1,28.1a2.0,2.0 0 1,0 4.1,0a2.0,2.0 0 1,0 -4.1,0M542.2,36.9a1.9,1.9 0 1,0 3.8,0a1.9,1.9 0 1,0 -3.8,0M509.5,34.2a1.8,1.8 0 1,0 3.6,0a1.8,1.8 0 1,0 -3.6,0M544.6,42.0a1.9,1.9 0 1,0 3.8,0a1.9,1.9 0 1,0 -3.8,0M544.4,32.9a1.8,1.8 0 1,0 3.6,0a1.8,1.8 0 1,0 -3.6,0M515.8,35.8a2.1,2.1 0 1,0 4.2,0a2.1,2.1 0 1,0 -4.2,0M544.1,40.9a2.4,2.4 0 1,0 4.9,0a2.4,2.4 0 1,0 -4.9,0M508.5,39.6a2.1,2.1 0 1,0 4.2,0a2.1,2.1 0 1,0 -4.2,0M546.6,35.1a1.9,1.9 0 1,0 3.7,0a1.9,1.9 0 1,0 -3.7,0M531.4,40.0a1.9,1.9 0 1,0 3.8,0a1.9,1.9 0 1,0 -3.8,0M553.2,26.2a2.3,2.3 0 1,0 4.7,0a2.3,2.3 0 1,0 -4.7,0M529.9,29.4a2.1,2.1 0 1,0 4.2,0a2.1,2.1 0 1,0 -4.2,0M503.1,34.5a2.2,2.2 0 1,0 4.5,0a2.2,2.2 0 1,0 -4.5,0M530.9,34.2a2.3,2.3 0 1,0 4.6,0a2.3,2.3 0 1,0 -4.6,0M556.4,25.1a2.0,2.0 0 1,0 4.1,0a2.0,2.0 0 1,0 -4.1,0M520.7,28.2a2.1,2.1 0 1,0 4.2,0a2.1,2.1 0 1,0 -4.2,0M528.7,36.1a2.0,2.0 0 1,0 4.1,0a2.0,2.0 0 1,0 -4.1,0M557.0,30.0a2.4,2.4 0 1,0 4.8,0a2.4,2.4 0 1,0 -4.8,0M525.7,39.7a2.6,2.6 0 1,0 5.1,0a2.6,2.6 0 1,0 -5.1,0M543.4,42.2a1.8,1.8 0 1,0 3.7,0a1.8,1.8 0 1,0 -3.7,0M542.0,30.8a2.2,2.2 0 1,0 4.4,0a2.2,2.2 0 1,0 -4.4,0M559.0,30.5a2.0,2.0 0 1,0 4.1,0a2.0,2.0 0 1,0 -4.1,0M531.0,41.1a1.8,1.8 0 1,0 3.5,0a1.8,1.8 0 1,0 -3.5,0" fill="#7c8a79"/><path d="M538.7,35.5a1.6,1.6 0 1,0 3.2,0a1.6,1.6 0 1,0 -3.2,0M542.3,27.2a2.0,2.0 0 1,0 4.0,0a2.0,2.0 0 1,0 -4.0,0M547.1,37.6a1.9,1.9 0 1,0 3.9,0a1.9,1.9 0 1,0 -3.9,0M523.5,40.9a2.0,2.0 0 1,0 4.1,0a2.0,2.0 0 1,0 -4.1,0M543.7,26.9a2.1,2.1 0 1,0 4.2,0a2.1,2.1 0 1,0 -4.2,0M556.4,27.4a1.7,1.7 0 1,0 3.4,0a1.7,1.7 0 1,0 -3.4,0M541.2,29.0a1.9,1.9 0 1,0 3.7,0a1.9,1.9 0 1,0 -3.7,0M538.5,38.2a2.4,2.4 0 1,0 4.8,0a2.4,2.4 0 1,0 -4.8,0M516.4,32.3a2.0,2.0 0 1,0 4.0,0a2.0,2.0 0 1,0 -4.0,0M539.3,39.3a2.1,2.1 0 1,0 4.1,0a2.1,2.1 0 1,0 -4.1,0M528.0,33.6a2.2,2.2 0 1,0 4.5,0a2.2,2.2 0 1,0 -4.5,0M532.8,41.7a2.4,2.4 0 1,0 4.9,0a2.4,2.4 0 1,0 -4.9,0M507.4,38.4a1.8,1.8 0 1,0 3.5,0a1.8,1.8 0 1,0 -3.5,0M513.7,34.8a2.3,2.3 0 1,0 4.6,0a2.3,2.3 0 1,0 -4.6,0M541.2,38.8a2.2,2.2 0 1,0 4.5,0a2.2,2.2 0 1,0 -4.5,0M523.9,32.6a1.8,1.8 0 1,0 3.6,0a1.8,1.8 0 1,0 -3.6,0M527.4,36.9a2.5,2.5 0 1,0 4.9,0a2.5,2.5 0 1,0 -4.9,0M550.8,25.5a2.0,2.0 0 1,0 4.0,0a2.0,2.0 0 1,0 -4.0,0M519.7,28.1a2.5,2.5 0 1,0 4.9,0a2.5,2.5 0 1,0 -4.9,0M508.1,33.7a2.3,2.3 0 1,0 4.6,0a2.3,2.3 0 1,0 -4.6,0M544.3,28.6a2.5,2.5 0 1,0 4.9,0a2.5,2.5 0 1,0 -4.9,0M544.3,31.5a1.8,1.8 0 1,0 3.6,0a1.8,1.8 0 1,0 -3.6,0M536.8,26.4a1.7,1.7 0 1,0 3.3,0a1.7,1.7 0 1,0 -3.3,0M537.3,40.9a2.4,2.4 0 1,0 4.8,0a2.4,2.4 0 1,0 -4.8,0M526.6,36.7a1.8,1.8 0 1,0 3.5,0a1.8,1.8 0 1,0 -3.5,0M541.1,39.6a1.8,1.8 0 1,0 3.6,0a1.8,1.8 0 1,0 -3.6,0M507.4,38.4a2.0,2.0 0 1,0 4.0,0a2.0,2.0 0 1,0 -4.0,0M513.2,38.3a1.7,1.7 0 1,0 3.4,0a1.7,1.7 0 1,0 -3.4,0M534.1,31.1a2.2,2.2 0 1,0 4.4,0a2.2,2.2 0 1,0 -4.4,0M551.5,29.6a1.6,1.6 0 1,0 3.3,0a1.6,1.6 0 1,0 -3.3,0M540.6,39.2a2.1,2.1 0 1,0 4.1,0a2.1,2.1 0 1,0 -4.1,0M539.7,31.3a2.2,2.2 0 1,0 4.4,0a2.2,2.2 0 1,0 -4.4,0M533.9,40.3a2.0,2.0 0 1,0 3.9,0a2.0,2.0 0 1,0 -3.9,0M549.2,35.9a2.4,2.4 0 1,0 4.8,0a2.4,2.4 0 1,0 -4.8,0M530.0,28.1a1.6,1.6 0 1,0 3.3,0a1.6,1.6 0 1,0 -3.3,0M524.5,30.6a2.2,2.2 0 1,0 4.4,0a2.2,2.2 0 1,0 -4.4,0M549.2,28.2a2.3,2.3 0 1,0 4.5,0a2.3,2.3 0 1,0 -4.5,0M522.8,40.8a2.0,2.0 0 1,0 4.0,0a2.0,2.0 0 1,0 -4.0,0M520.2,35.8a1.7,1.7 0 1,0 3.4,0a1.7,1.7 0 1,0 -3.4,0M523.3,30.6a2.1,2.1 0 1,0 4.1,0a2.1,2.1 0 1,0 -4.1,0" fill="#95a591"/><path d="M541.6,29.6a2.5,2.5 0 1,0 5.0,0a2.5,2.5 0 1,0 -5.0,0M537.0,26.7a1.8,1.8 0 1,0 3.7,0a1.8,1.8 0 1,0 -3.7,0M527.9,31.3a2.1,2.1 0 1,0 4.3,0a2.1,2.1 0 1,0 -4.3,0M531.7,39.9a2.5,2.5 0 1,0 4.9,0a2.5,2.5 0 1,0 -4.9,0M536.1,41.6a1.9,1.9 0 1,0 3.9,0a1.9,1.9 0 1,0 -3.9,0M515.8,30.0a2.0,2.0 0 1,0 4.0,0a2.0,2.0 0 1,0 -4.0,0M556.1,29.7a2.2,2.2 0 1,0 4.4,0a2.2,2.2 0 1,0 -4.4,0M531.8,33.7a2.6,2.6 0 1,0 5.2,0a2.6,2.6 0 1,0 -5.2,0M541.2,35.1a1.8,1.8 0 1,0 3.5,0a1.8,1.8 0 1,0 -3.5,0M532.3,41.9a2.5,2.5 0 1,0 5.0,0a2.5,2.5 0 1,0 -5.0,0M553.0,28.4a1.9,1.9 0 1,0 3.9,0a1.9,1.9 0 1,0 -3.9,0M515.4,40.9a1.6,1.6 0 1,0 3.3,0a1.6,1.6 0 1,0 -3.3,0M527.7,37.7a1.8,1.8 0 1,0 3.7,0a1.8,1.8 0 1,0 -3.7,0M504.8,32.4a1.7,1.7 0 1,0 3.5,0a1.7,1.7 0 1,0 -3.5,0M530.7,28.0a1.8,1.8 0 1,0 3.7,0a1.8,1.8 0 1,0 -3.7,0M508.5,32.4a2.2,2.2 0 1,0 4.4,0a2.2,2.2 0 1,0 -4.4,0M554.2,26.1a1.9,1.9 0 1,0 3.9,0a1.9,1.9 0 1,0 -3.9,0M503.9,34.5a1.9,1.9 0 1,0 3.8,0a1.9,1.9 0 1,0 -3.8,0M544.3,28.6a2.1,2.1 0 1,0 4.3,0a2.1,2.1 0 1,0 -4.3,0M533.5,32.7a1.8,1.8 0 1,0 3.6,0a1.8,1.8 0 1,0 -3.6,0M527.0,33.9a2.3,2.3 0 1,0 4.6,0a2.3,2.3 0 1,0 -4.6,0M526.3,33.1a2.6,2.6 0 1,0 5.2,0a2.6,2.6 0 1,0 -5.2,0M547.0,31.3a2.0,2.0 0 1,0 4.0,0a2.0,2.0 0 1,0 -4.0,0M549.8,28.9a1.9,1.9 0 1,0 3.7,0a1.9,1.9 0 1,0 -3.7,0M531.1,28.7a2.3,2.3 0 1,0 4.6,0a2.3,2.3 0 1,0 -4.6,0M511.1,31.8a2.2,2.2 0 1,0 4.4,0a2.2,2.2 0 1,0 -4.4,0M540.8,26.1a2.0,2.0 0 1,0 4.1,0a2.0,2.0 0 1,0 -4.1,0M528.5,33.9a2.0,2.0 0 1,0 3.9,0a2.0,2.0 0 1,0 -3.9,0M559.1,30.1a2.2,2.2 0 1,0 4.4,0a2.2,2.2 0 1,0 -4.4,0M546.2,36.5a2.3,2.3 0 1,0 4.6,0a2.3,2.3 0 1,0 -4.6,0M545.4,35.5a2.2,2.2 0 1,0 4.4,0a2.2,2.2 0 1,0 -4.4,0M514.2,39.4a1.7,1.7 0 1,0 3.5,0a1.7,1.7 0 1,0 -3.5,0M527.7,28.6a2.6,2.6 0 1,0 5.1,0a2.6,2.6 0 1,0 -5.1,0M536.0,32.8a2.0,2.0 0 1,0 4.0,0a2.0,2.0 0 1,0 -4.0,0M522.7,28.8a1.7,1.7 0 1,0 3.3,0a1.7,1.7 0 1,0 -3.3,0M548.7,31.5a2.1,2.1 0 1,0 4.2,0a2.1,2.1 0 1,0 -4.2,0M542.2,39.0a2.2,2.2 0 1,0 4.4,0a2.2,2.2 0 1,0 -4.4,0M528.4,29.3a2.3,2.3 0 1,0 4.6,0a2.3,2.3 0 1,0 -4.6,0M546.7,38.3a1.7,1.7 0 1,0 3.4,0a1.7,1.7 0 1,0 -3.4,0M526.3,27.0a1.7,1.7 0 1,0 3.3,0a1.7,1.7 0 1,0 -3.3,0" fill="#aabba6"/><path d="M542.9,29.0a0.6,0.6 0 1,0 1.2,0a0.6,0.6 0 1,0 -1.2,0M537.3,26.1a1.0,1.0 0 1,0 2.0,0a1.0,1.0 0 1,0 -2.0,0M529.6,28.3a0.7,0.7 0 1,0 1.3,0a0.7,0.7 0 1,0 -1.3,0M525.5,40.5a0.9,0.9 0 1,0 1.9,0a0.9,0.9 0 1,0 -1.9,0M522.2,25.7a1.0,1.0 0 1,0 2.0,0a1.0,1.0 0 1,0 -2.0,0M546.4,40.8a0.8,0.8 0 1,0 1.7,0a0.8,0.8 0 1,0 -1.7,0M559.7,26.2a0.9,0.9 0 1,0 1.9,0a0.9,0.9 0 1,0 -1.9,0M530.3,33.4a0.9,0.9 0 1,0 1.9,0a0.9,0.9 0 1,0 -1.9,0M532.8,39.3a0.8,0.8 0 1,0 1.6,0a0.8,0.8 0 1,0 -1.6,0M556.2,32.0a0.8,0.8 0 1,0 1.6,0a0.8,0.8 0 1,0 -1.6,0M545.7,32.5a1.0,1.0 0 1,0 2.0,0a1.0,1.0 0 1,0 -2.0,0M544.3,26.3a0.9,0.9 0 1,0 1.9,0a0.9,0.9 0 1,0 -1.9,0M557.0,29.1a0.7,0.7 0 1,0 1.3,0a0.7,0.7 0 1,0 -1.3,0M541.7,34.5a0.7,0.7 0 1,0 1.4,0a0.7,0.7 0 1,0 -1.4,0M533.5,41.3a0.7,0.7 0 1,0 1.3,0a0.7,0.7 0 1,0 -1.3,0M551.7,37.2a0.7,0.7 0 1,0 1.3,0a0.7,0.7 0 1,0 -1.3,0M547.1,24.2a0.8,0.8 0 1,0 1.5,0a0.8,0.8 0 1,0 -1.5,0M516.6,40.2a0.9,0.9 0 1,0 1.7,0a0.9,0.9 0 1,0 -1.7,0M553.3,27.8a1.0,1.0 0 1,0 2.0,0a1.0,1.0 0 1,0 -2.0,0M528.2,37.1a0.8,0.8 0 1,0 1.6,0a0.8,0.8 0 1,0 -1.6,0M551.2,26.1a0.7,0.7 0 1,0 1.4,0a0.7,0.7 0 1,0 -1.4,0M539.5,37.6a0.8,0.8 0 1,0 1.5,0a0.8,0.8 0 1,0 -1.5,0M505.0,31.8a0.9,0.9 0 1,0 1.8,0a0.9,0.9 0 1,0 -1.8,0M531.2,27.4a0.7,0.7 0 1,0 1.5,0a0.7,0.7 0 1,0 -1.5,0M509.2,31.8a0.9,0.9 0 1,0 1.7,0a0.9,0.9 0 1,0 -1.7,0M537.9,30.7a0.6,0.6 0 1,0 1.2,0a0.6,0.6 0 1,0 -1.2,0M559.8,28.1a0.8,0.8 0 1,0 1.5,0a0.8,0.8 0 1,0 -1.5,0M504.2,33.9a0.9,0.9 0 1,0 1.9,0a0.9,0.9 0 1,0 -1.9,0M517.0,31.7a0.8,0.8 0 1,0 1.5,0a0.8,0.8 0 1,0 -1.5,0M539.8,38.7a1.0,1.0 0 1,0 1.9,0a1.0,1.0 0 1,0 -1.9,0M528.4,33.3a0.6,0.6 0 1,0 1.2,0a0.6,0.6 0 1,0 -1.2,0M545.7,27.7a1.0,1.0 0 1,0 1.9,0a1.0,1.0 0 1,0 -1.9,0M533.9,32.1a0.8,0.8 0 1,0 1.6,0a0.8,0.8 0 1,0 -1.6,0M528.9,33.0a0.7,0.7 0 1,0 1.4,0a0.7,0.7 0 1,0 -1.4,0M550.6,30.2a0.7,0.7 0 1,0 1.4,0a0.7,0.7 0 1,0 -1.4,0M539.2,28.7a0.8,0.8 0 1,0 1.6,0a0.8,0.8 0 1,0 -1.6,0M509.3,29.0a0.8,0.8 0 1,0 1.6,0a0.8,0.8 0 1,0 -1.6,0M527.4,32.5a0.8,0.8 0 1,0 1.6,0a0.8,0.8 0 1,0 -1.6,0M507.8,37.8a0.8,0.8 0 1,0 1.7,0a0.8,0.8 0 1,0 -1.7,0M526.2,32.1a1.0,1.0 0 1,0 1.9,0a1.0,1.0 0 1,0 -1.9,0M541.1,41.8a0.7,0.7 0 1,0 1.4,0a0.7,0.7 0 1,0 -1.4,0M541.9,38.2a0.9,0.9 0 1,0 1.9,0a0.9,0.9 0 1,0 -1.9,0M524.5,32.0a0.7,0.7 0 1,0 1.3,0a0.7,0.7 0 1,0 -1.3,0M534.3,32.4a0.7,0.7 0 1,0 1.4,0a0.7,0.7 0 1,0 -1.4,0M531.9,28.1a1.0,1.0 0 1,0 1.9,0a1.0,1.0 0 1,0 -1.9,0M551.4,24.9a0.7,0.7 0 1,0 1.5,0a0.7,0.7 0 1,0 -1.5,0M541.6,25.5a0.6,0.6 0 1,0 1.3,0a0.6,0.6 0 1,0 -1.3,0M542.7,36.3a0.9,0.9 0 1,0 1.7,0a0.9,0.9 0 1,0 -1.7,0M510.0,33.6a0.7,0.7 0 1,0 1.4,0a0.7,0.7 0 1,0 -1.4,0M545.2,28.0a1.0,1.0 0 1,0 2.0,0a1.0,1.0 0 1,0 -2.0,0M544.6,30.9a0.9,0.9 0 1,0 1.7,0a0.9,0.9 0 1,0 -1.7,0M538.3,40.3a0.8,0.8 0 1,0 1.5,0a0.8,0.8 0 1,0 -1.5,0M531.7,30.9a0.8,0.8 0 1,0 1.5,0a0.8,0.8 0 1,0 -1.5,0M544.8,32.3a0.8,0.8 0 1,0 1.6,0a0.8,0.8 0 1,0 -1.6,0M547.1,35.9a0.8,0.8 0 1,0 1.6,0a0.8,0.8 0 1,0 -1.6,0M516.7,35.2a0.6,0.6 0 1,0 1.3,0a0.6,0.6 0 1,0 -1.3,0M545.0,40.3a0.9,0.9 0 1,0 1.8,0a0.9,0.9 0 1,0 -1.8,0M546.1,34.9a0.9,0.9 0 1,0 1.9,0a0.9,0.9 0 1,0 -1.9,0M548.4,26.9a0.8,0.8 0 1,0 1.6,0a0.8,0.8 0 1,0 -1.6,0M514.4,38.8a1.0,1.0 0 1,0 2.0,0a1.0,1.0 0 1,0 -2.0,0M528.8,28.0a0.9,0.9 0 1,0 1.8,0a0.9,0.9 0 1,0 -1.8,0M531.7,39.4a0.9,0.9 0 1,0 1.8,0a0.9,0.9 0 1,0 -1.8,0M531.7,36.2a1.0,1.0 0 1,0 1.9,0a1.0,1.0 0 1,0 -1.9,0M508.0,37.8a0.8,0.8 0 1,0 1.6,0a0.8,0.8 0 1,0 -1.6,0M549.6,30.9a0.7,0.7 0 1,0 1.3,0a0.7,0.7 0 1,0 -1.3,0M554.2,25.6a0.7,0.7 0 1,0 1.4,0a0.7,0.7 0 1,0 -1.4,0M530.5,28.8a1.0,1.0 0 1,0 1.9,0a1.0,1.0 0 1,0 -1.9,0M560.3,30.2a0.7,0.7 0 1,0 1.3,0a0.7,0.7 0 1,0 -1.3,0M529.4,40.1a0.8,0.8 0 1,0 1.6,0a0.8,0.8 0 1,0 -1.6,0M531.7,33.6a0.9,0.9 0 1,0 1.8,0a0.9,0.9 0 1,0 -1.8,0M551.7,29.0a0.9,0.9 0 1,0 1.8,0a0.9,0.9 0 1,0 -1.8,0M541.9,30.7a0.7,0.7 0 1,0 1.3,0a0.7,0.7 0 1,0 -1.3,0M540.6,30.7a0.7,0.7 0 1,0 1.4,0a0.7,0.7 0 1,0 -1.4,0M550.3,35.3a0.7,0.7 0 1,0 1.5,0a0.7,0.7 0 1,0 -1.5,0M530.0,27.5a1.0,1.0 0 1,0 1.9,0a1.0,1.0 0 1,0 -1.9,0M525.7,30.1a0.7,0.7 0 1,0 1.4,0a0.7,0.7 0 1,0 -1.4,0M529.2,28.7a0.9,0.9 0 1,0 1.8,0a0.9,0.9 0 1,0 -1.8,0M557.8,29.4a1.0,1.0 0 1,0 2.0,0a1.0,1.0 0 1,0 -2.0,0M525.4,30.0a0.7,0.7 0 1,0 1.4,0a0.7,0.7 0 1,0 -1.4,0M550.9,35.4a0.7,0.7 0 1,0 1.5,0a0.7,0.7 0 1,0 -1.5,0M523.6,40.2a0.6,0.6 0 1,0 1.2,0a0.6,0.6 0 1,0 -1.2,0M543.8,41.6a0.8,0.8 0 1,0 1.7,0a0.8,0.8 0 1,0 -1.7,0M520.6,35.2a0.7,0.7 0 1,0 1.4,0a0.7,0.7 0 1,0 -1.4,0M526.7,26.4a0.6,0.6 0 1,0 1.3,0a0.6,0.6 0 1,0 -1.3,0M531.5,40.5a0.6,0.6 0 1,0 1.2,0a0.6,0.6 0 1,0 -1.2,0" fill="#c0cdbd"/><path d="M496.9,41.3 L499.8,38.8 L505.7,38.8 L511.6,41.3 L519.4,41.8 L527.3,42.3 L528.2,47.2 L523.3,49.1 L514.5,50.1 L504.7,53.0 L497.8,52.1 L495.9,48.1 Z" fill="#686cb7"/><path d="M514.0,43.1a2.2,2.2 0 1,0 4.4,0a2.2,2.2 0 1,0 -4.4,0M510.2,44.3a2.1,2.1 0 1,0 4.2,0a2.1,2.1 0 1,0 -4.2,0M523.3,46.9a1.8,1.8 0 1,0 3.7,0a1.8,1.8 0 1,0 -3.7,0M521.1,46.9a1.7,1.7 0 1,0 3.3,0a1.7,1.7 0 1,0 -3.3,0M506.7,40.9a2.4,2.4 0 1,0 4.8,0a2.4,2.4 0 1,0 -4.8,0M517.4,43.5a1.7,1.7 0 1,0 3.4,0a1.7,1.7 0 1,0 -3.4,0M503.6,52.4a2.4,2.4 0 1,0 4.8,0a2.4,2.4 0 1,0 -4.8,0M523.9,46.0a2.4,2.4 0 1,0 4.8,0a2.4,2.4 0 1,0 -4.8,0M501.9,43.1a1.6,1.6 0 1,0 3.3,0a1.6,1.6 0 1,0 -3.3,0M525.8,46.2a1.7,1.7 0 1,0 3.3,0a1.7,1.7 0 1,0 -3.3,0M506.9,47.0a2.5,2.5 0 1,0 4.9,0a2.5,2.5 0 1,0 -4.9,0M505.9,43.2a1.7,1.7 0 1,0 3.4,0a1.7,1.7 0 1,0 -3.4,0M519.6,42.2a2.2,2.2 0 1,0 4.5,0a2.2,2.2 0 1,0 -4.5,0M510.7,41.5a2.3,2.3 0 1,0 4.6,0a2.3,2.3 0 1,0 -4.6,0M519.9,47.9a2.0,2.0 0 1,0 4.1,0a2.0,2.0 0 1,0 -4.1,0M519.8,42.7a1.7,1.7 0 1,0 3.4,0a1.7,1.7 0 1,0 -3.4,0" fill="#45487a"/><path d="M501.1,46.5a2.5,2.5 0 1,0 5.0,0a2.5,2.5 0 1,0 -5.0,0M520.8,45.6a2.2,2.2 0 1,0 4.3,0a2.2,2.2 0 1,0 -4.3,0M503.5,39.2a2.1,2.1 0 1,0 4.3,0a2.1,2.1 0 1,0 -4.3,0M506.9,50.2a1.7,1.7 0 1,0 3.4,0a1.7,1.7 0 1,0 -3.4,0M498.6,41.9a1.6,1.6 0 1,0 3.3,0a1.6,1.6 0 1,0 -3.3,0M503.4,49.7a2.0,2.0 0 1,0 3.9,0a2.0,2.0 0 1,0 -3.9,0M499.8,44.6a2.5,2.5 0 1,0 5.0,0a2.5,2.5 0 1,0 -5.0,0M507.4,49.0a2.5,2.5 0 1,0 4.9,0a2.5,2.5 0 1,0 -4.9,0M502.1,45.3a2.0,2.0 0 1,0 3.9,0a2.0,2.0 0 1,0 -3.9,0M503.2,44.2a2.4,2.4 0 1,0 4.8,0a2.4,2.4 0 1,0 -4.8,0M522.4,45.2a2.1,2.1 0 1,0 4.1,0a2.1,2.1 0 1,0 -4.1,0M499.4,42.8a2.4,2.4 0 1,0 4.8,0a2.4,2.4 0 1,0 -4.8,0" fill="#575a99"/><path d="M518.0,47.2a2.4,2.4 0 1,0 4.9,0a2.4,2.4 0 1,0 -4.9,0M521.4,45.5a2.5,2.5 0 1,0 4.9,0a2.5,2.5 0 1,0 -4.9,0M505.5,47.1a1.8,1.8 0 1,0 3.5,0a1.8,1.8 0 1,0 -3.5,0M503.2,39.7a1.9,1.9 0 1,0 3.9,0a1.9,1.9 0 1,0 -3.9,0M504.1,39.9a1.8,1.8 0 1,0 3.5,0a1.8,1.8 0 1,0 -3.5,0M509.1,46.2a1.6,1.6 0 1,0 3.3,0a1.6,1.6 0 1,0 -3.3,0M512.3,47.6a1.7,1.7 0 1,0 3.3,0a1.7,1.7 0 1,0 -3.3,0M514.2,45.4a1.9,1.9 0 1,0 3.8,0a1.9,1.9 0 1,0 -3.8,0M516.5,49.3a2.2,2.2 0 1,0 4.5,0a2.2,2.2 0 1,0 -4.5,0M520.5,45.0a2.4,2.4 0 1,0 4.7,0a2.4,2.4 0 1,0 -4.7,0M501.3,40.5a1.8,1.8 0 1,0 3.6,0a1.8,1.8 0 1,0 -3.6,0M519.4,43.7a2.5,2.5 0 1,0 5.1,0a2.5,2.5 0 1,0 -5.1,0M497.5,42.9a2.6,2.6 0 1,0 5.1,0a2.6,2.6 0 1,0 -5.1,0M507.2,44.6a2.3,2.3 0 1,0 4.5,0a2.3,2.3 0 1,0 -4.5,0" fill="#686cb7"/><path d="M506.0,47.4a1.8,1.8 0 1,0 3.6,0a1.8,1.8 0 1,0 -3.6,0M501.7,42.1a2.5,2.5 0 1,0 5.1,0a2.5,2.5 0 1,0 -5.1,0M511.2,49.3a1.6,1.6 0 1,0 3.3,0a1.6,1.6 0 1,0 -3.3,0M524.6,45.0a2.5,2.5 0 1,0 5.0,0a2.5,2.5 0 1,0 -5.0,0M516.8,41.8a2.1,2.1 0 1,0 4.2,0a2.1,2.1 0 1,0 -4.2,0M496.2,50.2a2.6,2.6 0 1,0 5.1,0a2.6,2.6 0 1,0 -5.1,0M522.8,44.2a2.1,2.1 0 1,0 4.2,0a2.1,2.1 0 1,0 -4.2,0M514.8,47.3a1.8,1.8 0 1,0 3.7,0a1.8,1.8 0 1,0 -3.7,0M494.4,47.5a2.1,2.1 0 1,0 4.2,0a2.1,2.1 0 1,0 -4.2,0M516.2,43.8a1.7,1.7 0 1,0 3.3,0a1.7,1.7 0 1,0 -3.3,0M512.5,43.3a2.6,2.6 0 1,0 5.2,0a2.6,2.6 0 1,0 -5.2,0M505.5,47.3a2.3,2.3 0 1,0 4.6,0a2.3,2.3 0 1,0 -4.6,0M512.6,49.2a1.6,1.6 0 1,0 3.3,0a1.6,1.6 0 1,0 -3.3,0M503.7,42.0a2.2,2.2 0 1,0 4.4,0a2.2,2.2 0 1,0 -4.4,0M499.7,45.0a2.2,2.2 0 1,0 4.4,0a2.2,2.2 0 1,0 -4.4,0M504.6,43.5a1.7,1.7 0 1,0 3.3,0a1.7,1.7 0 1,0 -3.3,0M504.8,48.0a2.0,2.0 0 1,0 4.0,0a2.0,2.0 0 1,0 -4.0,0M504.5,44.7a2.5,2.5 0 1,0 5.1,0a2.5,2.5 0 1,0 -5.1,0" fill="#7a7ece"/><path d="M502.2,45.9a0.8,0.8 0 1,0 1.7,0a0.8,0.8 0 1,0 -1.7,0M503.0,41.5a0.6,0.6 0 1,0 1.3,0a0.6,0.6 0 1,0 -1.3,0M511.4,48.7a0.8,0.8 0 1,0 1.7,0a0.8,0.8 0 1,0 -1.7,0M504.4,38.6a0.6,0.6 0 1,0 1.2,0a0.6,0.6 0 1,0 -1.2,0M507.4,49.6a0.7,0.7 0 1,0 1.3,0a0.7,0.7 0 1,0 -1.3,0M525.6,44.4a0.9,0.9 0 1,0 1.8,0a0.9,0.9 0 1,0 -1.8,0M511.1,43.7a0.6,0.6 0 1,0 1.2,0a0.6,0.6 0 1,0 -1.2,0M523.9,46.3a0.6,0.6 0 1,0 1.3,0a0.6,0.6 0 1,0 -1.3,0M521.5,46.3a0.6,0.6 0 1,0 1.3,0a0.6,0.6 0 1,0 -1.3,0M497.2,49.6a1.0,1.0 0 1,0 1.9,0a1.0,1.0 0 1,0 -1.9,0M504.1,49.1a0.7,0.7 0 1,0 1.3,0a0.7,0.7 0 1,0 -1.3,0M504.7,39.3a0.6,0.6 0 1,0 1.2,0a0.6,0.6 0 1,0 -1.2,0M504.5,51.8a0.9,0.9 0 1,0 1.9,0a0.9,0.9 0 1,0 -1.9,0M509.5,45.6a0.6,0.6 0 1,0 1.3,0a0.6,0.6 0 1,0 -1.3,0M512.4,47.0a0.9,0.9 0 1,0 1.9,0a0.9,0.9 0 1,0 -1.9,0M508.4,48.4a0.9,0.9 0 1,0 1.7,0a0.9,0.9 0 1,0 -1.7,0M525.9,45.6a0.9,0.9 0 1,0 1.9,0a0.9,0.9 0 1,0 -1.9,0M495.0,46.9a1.0,1.0 0 1,0 2.0,0a1.0,1.0 0 1,0 -2.0,0M516.4,43.2a0.8,0.8 0 1,0 1.7,0a0.8,0.8 0 1,0 -1.7,0M502.5,44.7a0.9,0.9 0 1,0 1.8,0a0.9,0.9 0 1,0 -1.8,0M506.4,42.6a0.6,0.6 0 1,0 1.2,0a0.6,0.6 0 1,0 -1.2,0M504.1,43.6a0.9,0.9 0 1,0 1.8,0a0.9,0.9 0 1,0 -1.8,0M504.5,41.4a0.8,0.8 0 1,0 1.6,0a0.8,0.8 0 1,0 -1.6,0M500.5,44.4a0.9,0.9 0 1,0 1.8,0a0.9,0.9 0 1,0 -1.8,0M521.6,44.4a0.6,0.6 0 1,0 1.3,0a0.6,0.6 0 1,0 -1.3,0M523.0,44.6a0.9,0.9 0 1,0 1.8,0a0.9,0.9 0 1,0 -1.8,0M511.4,40.9a1.0,1.0 0 1,0 1.9,0a1.0,1.0 0 1,0 -1.9,0M520.7,47.3a0.6,0.6 0 1,0 1.2,0a0.6,0.6 0 1,0 -1.2,0M498.8,42.3a0.7,0.7 0 1,0 1.5,0a0.7,0.7 0 1,0 -1.5,0M505.7,44.1a0.8,0.8 0 1,0 1.7,0a0.8,0.8 0 1,0 -1.7,0" fill="#9da0db"/><path d="M528.2,43.2 L534.0,42.0 L539.0,44.0 L539.5,48.0 L533.0,51.0 L528.5,49.5 Z" fill="#902548"/><path d="M531.9,44.5a2.4,2.4 0 1,0 4.8,0a2.4,2.4 0 1,0 -4.8,0" fill="#601930"/><path d="M526.9,45.6a2.0,2.0 0 1,0 4.1,0a2.0,2.0 0 1,0 -4.1,0M532.7,48.0a2.3,2.3 0 1,0 4.6,0a2.3,2.3 0 1,0 -4.6,0M531.3,43.6a2.6,2.6 0 1,0 5.2,0a2.6,2.6 0 1,0 -5.2,0M531.9,42.8a1.7,1.7 0 1,0 3.3,0a1.7,1.7 0 1,0 -3.3,0" fill="#781f3c"/><path d="M530.7,43.4a2.0,2.0 0 1,0 4.0,0a2.0,2.0 0 1,0 -4.0,0M535.0,44.0a1.8,1.8 0 1,0 3.7,0a1.8,1.8 0 1,0 -3.7,0M535.0,43.7a2.2,2.2 0 1,0 4.5,0a2.2,2.2 0 1,0 -4.5,0M536.6,47.2a1.9,1.9 0 1,0 3.8,0a1.9,1.9 0 1,0 -3.8,0" fill="#902548"/><path d="M528.8,42.9a2.1,2.1 0 1,0 4.2,0a2.1,2.1 0 1,0 -4.2,0M528.5,43.0a1.7,1.7 0 1,0 3.4,0a1.7,1.7 0 1,0 -3.4,0M529.6,47.6a2.1,2.1 0 1,0 4.2,0a2.1,2.1 0 1,0 -4.2,0M532.2,44.7a2.2,2.2 0 1,0 4.5,0a2.2,2.2 0 1,0 -4.5,0" fill="#a43458"/><path d="M529.5,42.3a0.8,0.8 0 1,0 1.5,0a0.8,0.8 0 1,0 -1.5,0M527.5,45.0a0.8,0.8 0 1,0 1.7,0a0.8,0.8 0 1,0 -1.7,0M532.8,43.9a0.9,0.9 0 1,0 1.7,0a0.9,0.9 0 1,0 -1.7,0M536.0,43.1a0.7,0.7 0 1,0 1.4,0a0.7,0.7 0 1,0 -1.4,0M533.7,47.4a0.7,0.7 0 1,0 1.5,0a0.7,0.7 0 1,0 -1.5,0M532.0,42.2a0.9,0.9 0 1,0 1.9,0a0.9,0.9 0 1,0 -1.9,0M537.0,46.6a0.9,0.9 0 1,0 1.8,0a0.9,0.9 0 1,0 -1.8,0" fill="#bc6984"/><path d="M455.2,102.4 C454.9,103.5 453.2,106.6 453.5,109.0 C453.8,111.4 455.4,114.8 457.0,117.0 C458.6,119.2 460.9,120.6 462.8,122.5 C464.7,124.4 465.7,126.9 468.6,128.5 C471.5,130.1 476.3,131.1 480.0,132.0 C483.7,132.9 487.3,133.9 490.6,134.0 C493.9,134.1 497.1,133.2 500.0,132.8 C502.9,132.4 505.0,131.4 508.0,131.6 C511.0,131.8 514.3,132.9 518.0,134.0 C521.7,135.1 527.2,136.9 530.0,138.3 C532.8,139.7 533.9,140.6 535.0,142.5 C536.1,144.4 536.4,148.4 536.7,149.6" fill="none" stroke="#2aa494" stroke-width="1.30" stroke-linecap="round" stroke-linejoin="round" opacity="1.00"/><path d="M484.2,99.1 L483.3,99.6 L481.8,100.1 L480.1,100.8 L478.2,101.6 L476.4,102.5 L474.8,103.4 L473.5,104.3 L472.4,105.3 L471.5,106.3 L470.6,107.3 L469.8,108.2 L469.0,109.2 L468.2,110.1 L467.3,111.0 L466.5,111.9 L465.7,112.9 L464.9,114.0 L464.3,115.0 L463.7,116.0 L463.1,117.1 L462.6,118.2 L462.2,119.4 L461.8,120.6 L461.6,122.0 L461.5,123.3 L461.5,124.8 L461.6,126.2 L461.8,127.7 L462.1,129.1 L462.4,130.5 L462.7,131.9 L463.2,133.2 L463.7,134.6 L464.3,135.8 L464.9,137.1 L465.5,138.3 L466.2,139.4 L467.0,140.5 L467.8,141.5 L468.6,142.4 L469.4,143.3 L470.2,144.0 L471.1,144.7 L471.9,145.2 L472.6,145.5 L473.1,145.8 L473.5,145.9 L473.8,146.0 L475.4,142.4 L475.1,142.2 L474.5,142.0 L474.1,141.8 L473.6,141.6 L473.2,141.3 L472.8,141.0 L472.2,140.4 L471.6,139.7 L470.8,138.9 L470.1,138.0 L469.5,137.1 L468.9,136.1 L468.4,135.2 L467.8,134.1 L467.4,133.0 L466.9,131.8 L466.5,130.6 L466.2,129.5 L466.0,128.3 L465.8,127.0 L465.6,125.7 L465.5,124.5 L465.5,123.3 L465.6,122.2 L465.8,121.3 L466.0,120.4 L466.3,119.6 L466.7,118.8 L467.2,117.9 L467.7,117.0 L468.3,116.1 L468.9,115.3 L469.6,114.5 L470.4,113.6 L471.1,112.8 L472.0,111.8 L472.8,110.9 L473.7,109.9 L474.5,109.0 L475.3,108.1 L476.2,107.3 L477.2,106.6 L478.4,105.9 L479.9,105.2 L481.6,104.5 L483.3,103.8 L484.7,103.3 L485.8,102.9Z" fill="#b4c41e" stroke="#757f13" stroke-width="0.5" stroke-linejoin="round"/><path d="M475.8,145.0 L476.1,144.6 L476.6,144.0 L477.3,143.1 L477.9,142.0 L478.5,140.7 L479.0,139.3 L479.2,137.7 L479.4,135.9 L479.6,134.0 L479.6,132.1 L479.7,130.0 L479.7,128.0 L479.7,125.8 L479.6,123.3 L479.5,120.7 L479.4,118.4 L479.4,116.4 L479.3,114.9 L476.3,115.1 L476.4,116.5 L476.4,118.5 L476.5,120.9 L476.6,123.4 L476.7,125.8 L476.7,128.0 L476.7,130.0 L476.6,132.0 L476.6,133.9 L476.4,135.7 L476.3,137.4 L476.0,138.7 L475.7,139.8 L475.2,140.7 L474.7,141.5 L474.2,142.2 L473.8,142.8 L473.4,143.4Z" fill="#d6b41c" stroke="#8b7512" stroke-width="0.5" stroke-linejoin="round"/><path d="M478.2,114.2 L478.9,113.8 L479.7,113.3 L480.6,112.7 L481.6,112.1 L482.6,111.5 L483.8,112.3 L484.6,111.6 L485.5,110.8 L486.5,110.1 L487.5,109.4 L488.4,108.9 L489.0,108.5 L489.0,108.5 L488.3,108.3 L487.3,108.1 L486.1,107.8 L484.9,107.5 L483.5,107.3 L482.2,107.3 L481.4,109.0 L480.3,109.6 L479.1,110.3 L478.2,110.9 L477.3,111.5 L476.8,111.8Z" fill="#d2a41e" stroke="#886a13" stroke-width="0.5" stroke-linejoin="round"/><path d="M463.2,101.0 L464.1,100.4 L465.2,99.7 L466.6,98.9 L468.0,98.0 L469.5,97.3 L470.9,96.6 L472.2,96.1 L473.6,95.6 L475.0,95.1 L476.3,94.8 L477.5,94.5 L478.7,94.5 L480.1,94.7 L481.8,95.1 L483.6,95.7 L485.4,96.4 L486.9,97.0 L488.0,97.4 L489.6,93.0 L488.5,92.6 L487.1,92.1 L485.3,91.4 L483.3,90.7 L481.3,90.2 L479.3,89.9 L477.4,90.0 L475.5,90.2 L473.8,90.7 L472.2,91.2 L470.6,91.8 L469.1,92.4 L467.6,93.1 L465.9,94.0 L464.3,94.9 L462.8,95.8 L461.6,96.5 L460.8,97.0Z" fill="#5aaf2a" stroke="#3a711b" stroke-width="0.5" stroke-linejoin="round"/><path d="M471.5,118.0 L472.3,118.8 L473.4,119.8 L474.7,121.1 L476.2,122.4 L477.7,123.8 L479.1,125.1 L480.7,126.3 L482.4,127.7 L484.1,129.1 L485.8,130.3 L487.2,131.4 L488.1,132.1 L489.9,129.9 L488.9,129.1 L487.5,128.1 L485.8,126.8 L484.1,125.5 L482.4,124.1 L480.9,122.9 L479.5,121.7 L478.1,120.4 L476.6,119.0 L475.4,117.8 L474.3,116.8 L473.5,116.0Z" fill="#26983a" stroke="#186225" stroke-width="0.5" stroke-linejoin="round"/><path d="M489.8,101.3 L490.7,101.4 L491.9,101.5 L493.2,101.6 L494.7,101.8 L496.2,102.0 L497.6,102.3 L499.2,102.6 L501.0,103.0 L502.7,103.3 L504.2,103.8 L505.1,104.1 L505.3,103.7 L505.5,103.2 L505.5,103.5 L505.0,104.2 L504.2,105.0 L502.0,105.0 L501.6,106.3 L501.4,107.5 L501.1,108.9 L500.8,110.3 L500.4,111.6 L500.2,112.7 L500.0,113.5 L500.0,113.5 L500.7,113.1 L501.7,112.5 L502.9,111.8 L504.1,111.1 L505.3,110.4 L506.4,109.7 L507.4,109.3 L506.8,107.5 L507.6,106.7 L508.4,105.7 L508.9,104.5 L508.7,102.7 L507.2,101.2 L505.5,100.4 L503.7,99.9 L501.8,99.4 L499.9,99.1 L498.4,98.7 L496.8,98.5 L495.2,98.2 L493.6,98.0 L492.2,97.9 L491.0,97.8 L490.2,97.7Z" fill="#1c8628" stroke="#12571a" stroke-width="0.5" stroke-linejoin="round"/><path d="M488.1,123.9 L488.7,123.6 L489.5,123.3 L490.4,122.8 L491.4,122.4 L492.5,122.0 L493.4,121.6 L494.7,122.2 L495.8,121.3 L496.9,120.5 L498.0,119.7 L498.9,119.0 L499.5,118.5 L499.5,118.5 L498.7,118.4 L497.6,118.2 L496.3,118.0 L494.9,117.7 L493.5,117.5 L492.6,118.8 L491.5,119.2 L490.3,119.6 L489.3,120.1 L488.3,120.5 L487.5,120.9 L486.9,121.1Z" fill="#26a02e" stroke="#18681d" stroke-width="0.5" stroke-linejoin="round"/><path d="M491.9,125.5 L492.9,124.8 L494.3,124.0 L495.9,123.0 L497.6,121.9 L499.3,120.9 L500.9,119.9 L502.3,119.0 L503.6,118.2 L504.9,117.3 L506.2,116.5 L507.4,115.8 L508.8,115.0 L510.3,114.3 L511.9,113.5 L513.7,112.8 L515.3,112.1 L516.7,111.5 L517.7,111.1 L516.3,107.9 L515.3,108.4 L514.0,108.9 L512.3,109.6 L510.6,110.4 L508.8,111.2 L507.2,112.0 L505.8,112.8 L504.4,113.6 L503.1,114.5 L501.8,115.3 L500.4,116.2 L499.1,117.1 L497.6,118.0 L495.9,119.1 L494.1,120.1 L492.5,121.1 L491.1,121.9 L490.1,122.5Z" fill="#ac5a1e" stroke="#6f3a13" stroke-width="0.5" stroke-linejoin="round"/><path d="M514.1,111.6 L514.5,112.4 L514.9,113.4 L515.5,114.6 L516.0,115.8 L516.5,117.1 L517.0,118.4 L517.3,119.8 L517.7,121.2 L518.1,122.6 L518.3,124.0 L518.4,125.1 L518.4,126.0 L518.2,126.7 L517.7,127.5 L517.1,128.2 L516.2,128.9 L515.3,129.7 L514.5,130.3 L513.8,131.0 L512.9,131.7 L511.9,132.3 L511.0,132.9 L510.2,133.4 L509.7,133.7 L511.3,136.3 L511.9,135.9 L512.6,135.4 L513.5,134.8 L514.5,134.1 L515.5,133.4 L516.5,132.7 L517.3,131.9 L518.2,131.2 L519.0,130.4 L519.9,129.5 L520.7,128.4 L521.2,127.0 L521.4,125.4 L521.3,123.8 L521.0,122.1 L520.6,120.5 L520.2,119.0 L519.8,117.6 L519.4,116.2 L518.8,114.8 L518.2,113.4 L517.7,112.1 L517.2,111.1 L516.9,110.4Z" fill="#9e3616" stroke="#66230e" stroke-width="0.5" stroke-linejoin="round"/><path d="M493.7,132.1 L494.3,132.0 L495.1,131.9 L496.1,131.7 L497.1,131.6 L498.2,131.4 L499.3,132.4 L500.3,131.8 L501.3,131.2 L502.5,130.6 L503.5,130.0 L504.4,129.5 L505.0,129.2 L505.0,129.2 L504.3,129.0 L503.4,128.7 L502.2,128.3 L501.0,127.9 L499.8,127.5 L498.7,127.2 L497.8,128.4 L496.7,128.6 L495.7,128.8 L494.7,128.9 L493.9,129.0 L493.3,129.1Z" fill="#aa1e0e" stroke="#6e1309" stroke-width="0.5" stroke-linejoin="round"/><path d="M503.0,161.0 C503.7,160.0 505.1,156.4 507.0,155.0 C508.9,153.6 513.1,153.2 514.3,152.8" fill="none" stroke="#2020a0" stroke-width="1.50" stroke-linecap="round" stroke-linejoin="round" opacity="1.00"/><path d="M502.2,164.0 C502.2,166.2 501.3,172.1 502.0,176.9 C502.7,181.7 505.0,189.9 506.2,193.0 C507.4,196.1 508.9,194.9 509.4,195.3" fill="none" stroke="#2a20a0" stroke-width="1.50" stroke-linecap="round" stroke-linejoin="round" opacity="1.00"/><ellipse cx="503.2" cy="162.4" rx="3.6" ry="2.6" transform="rotate(-30 503.2 162.4)" fill="#101878"/><path d="M512.2,152.6 L512.0,154.8 L511.8,157.8 L511.5,161.3 L511.2,165.0 L510.9,168.7 L510.7,171.9 L510.4,174.7 L510.0,177.4 L509.7,180.0 L509.4,182.7 L509.1,185.4 L509.1,188.1 L509.1,190.9 L509.2,193.7 L509.4,196.6 L509.6,199.4 L510.0,202.1 L510.5,204.8 L511.2,207.3 L512.1,209.8 L513.1,212.2 L514.0,214.3 L514.8,216.2 L515.5,217.7 L515.9,219.0 L516.3,220.1 L516.5,220.9 L516.7,221.6 L516.9,222.2 L517.0,222.6 L521.2,221.4 L521.0,220.9 L520.9,220.4 L520.7,219.7 L520.4,218.8 L520.0,217.7 L519.5,216.3 L518.8,214.5 L517.9,212.6 L517.0,210.4 L516.1,208.2 L515.3,205.9 L514.7,203.6 L514.2,201.3 L513.9,198.8 L513.6,196.1 L513.5,193.4 L513.4,190.7 L513.3,188.1 L513.4,185.5 L513.7,183.1 L514.0,180.6 L514.3,178.0 L514.6,175.2 L514.9,172.3 L515.2,169.0 L515.5,165.4 L515.8,161.6 L516.1,158.1 L516.3,155.1 L516.4,153.0Z" fill="#4a18c8" stroke="#300f82" stroke-width="0.5" stroke-linejoin="round"/><path d="M522.8,152.4 L523.3,153.8 L523.9,155.6 L524.7,157.7 L525.5,160.0 L526.2,162.5 L526.7,165.2 L527.1,168.1 L527.4,171.4 L527.6,174.9 L527.7,178.5 L527.7,181.9 L527.7,184.9 L527.5,187.8 L527.2,190.7 L526.8,193.5 L526.3,196.1 L526.0,198.2 L525.7,199.8 L528.3,200.2 L528.5,198.6 L528.9,196.5 L529.3,194.0 L529.8,191.1 L530.1,188.1 L530.3,185.1 L530.3,181.9 L530.3,178.4 L530.2,174.8 L530.0,171.3 L529.7,167.9 L529.3,164.8 L528.7,162.0 L528.0,159.3 L527.2,156.8 L526.4,154.7 L525.7,152.9 L525.2,151.6Z" fill="#2a8cc0" stroke="#1b5b7c" stroke-width="0.5" stroke-linejoin="round"/><path d="M517.1,152.7 L517.6,154.0 L518.2,155.6 L519.0,157.6 L519.7,159.8 L520.4,162.0 L521.0,164.5 L521.6,167.0 L522.2,169.8 L522.8,172.7 L523.2,175.6 L523.4,178.6 L523.4,181.5 L523.1,184.6 L522.6,187.8 L521.9,191.0 L521.1,194.2 L520.0,197.2 L518.9,200.0 L517.4,202.5 L515.6,205.0 L513.5,207.5 L511.4,209.9 L509.3,212.1 L507.7,214.2 L506.4,216.1 L505.3,217.8 L504.5,219.3 L503.8,220.6 L503.2,221.6 L502.8,222.4 L506.4,224.4 L506.9,223.6 L507.5,222.6 L508.1,221.3 L509.0,219.9 L509.9,218.3 L511.1,216.6 L512.6,214.7 L514.5,212.7 L516.6,210.3 L518.8,207.8 L520.8,205.0 L522.5,202.0 L523.9,198.9 L525.0,195.6 L526.0,192.1 L526.7,188.6 L527.3,185.2 L527.6,181.9 L527.6,178.6 L527.4,175.3 L526.9,172.1 L526.3,169.0 L525.7,166.2 L525.2,163.5 L524.5,161.0 L523.7,158.5 L522.9,156.2 L522.2,154.2 L521.5,152.5 L521.1,151.3Z" fill="#32b2cc" stroke="#207384" stroke-width="0.5" stroke-linejoin="round"/><path d="M529.7,152.0 L529.8,154.3 L529.9,157.3 L530.0,161.0 L530.1,164.9 L530.3,168.7 L530.5,172.2 L530.8,175.6 L531.2,179.1 L531.6,182.5 L532.0,185.6 L532.4,188.3 L532.6,190.2 L535.4,189.8 L535.1,187.9 L534.8,185.3 L534.4,182.1 L534.0,178.7 L533.6,175.3 L533.3,172.0 L533.1,168.6 L532.9,164.8 L532.8,160.9 L532.7,157.3 L532.6,154.2 L532.5,152.0Z" fill="#7020c0" stroke="#48147c" stroke-width="0.5" stroke-linejoin="round"/><path d="M532.0,142.4 L532.5,143.3 L533.1,144.1 L533.7,144.9 L534.2,146.1 L534.7,147.6 L535.0,149.6 L535.1,152.5 L535.0,156.0 L534.8,159.9 L534.4,164.0 L534.1,168.1 L533.7,171.9 L533.3,175.5 L533.0,179.1 L532.5,182.6 L532.0,186.0 L531.4,189.3 L530.6,192.4 L529.5,195.5 L528.2,198.5 L526.7,201.5 L525.2,204.5 L523.8,207.3 L522.6,210.1 L521.7,212.7 L521.0,215.3 L520.4,217.7 L519.9,219.9 L519.5,221.7 L519.2,223.0 L522.6,223.8 L522.9,222.4 L523.2,220.6 L523.7,218.5 L524.3,216.1 L525.0,213.6 L525.8,211.1 L526.9,208.6 L528.2,206.0 L529.7,203.1 L531.2,200.0 L532.6,196.9 L533.8,193.6 L534.7,190.1 L535.4,186.7 L535.9,183.1 L536.3,179.5 L536.7,175.9 L537.1,172.3 L537.5,168.4 L537.8,164.3 L538.1,160.2 L538.4,156.2 L538.5,152.6 L538.4,149.6 L538.1,147.1 L537.5,145.1 L536.7,143.4 L535.9,142.2 L535.3,141.3 L535.0,140.8Z" fill="#40c4d4" stroke="#297f89" stroke-width="0.5" stroke-linejoin="round"/><path d="M532.5,153.9 L533.1,153.5 L533.8,152.9 L534.6,152.3 L535.3,151.8 L536.0,151.4 L536.5,151.1 L537.2,151.0 L537.9,150.9 L538.5,150.9 L539.1,150.9 L539.4,151.0 L540.0,151.3 L540.7,151.8 L541.0,152.0 L541.3,152.3 L541.7,153.0 L542.1,154.3 L542.5,156.3 L542.9,159.3 L543.3,163.2 L543.6,167.6 L543.8,172.1 L544.0,176.3 L543.9,179.9 L543.7,182.9 L543.3,185.6 L542.8,188.1 L542.1,190.5 L541.5,193.0 L540.8,195.6 L540.1,198.3 L539.2,201.1 L538.3,203.9 L537.4,206.7 L536.6,209.3 L535.9,211.7 L535.5,213.9 L535.3,215.7 L535.2,217.2 L535.2,218.3 L535.1,218.9 L535.0,219.3 L534.7,219.7 L534.0,220.1 L533.1,220.5 L532.0,220.7 L530.7,220.9 L529.7,221.1 L528.8,221.2 L527.8,221.3 L526.7,221.2 L525.7,221.1 L524.7,221.0 L524.0,221.0 L523.8,225.8 L524.4,225.8 L525.2,225.9 L526.3,226.0 L527.6,226.1 L528.9,226.0 L530.3,225.9 L531.5,225.7 L532.8,225.5 L534.2,225.1 L535.6,224.7 L537.0,223.9 L538.4,222.7 L539.4,221.1 L539.8,219.3 L540.0,217.7 L540.1,216.1 L540.3,214.4 L540.7,212.7 L541.2,210.6 L542.0,208.1 L542.9,205.4 L543.8,202.5 L544.7,199.6 L545.4,196.8 L546.1,194.2 L546.8,191.8 L547.4,189.2 L548.0,186.6 L548.4,183.6 L548.7,180.3 L548.8,176.4 L548.6,172.0 L548.4,167.3 L548.1,162.9 L547.7,158.9 L547.3,155.7 L546.8,153.4 L546.3,151.6 L545.6,150.1 L544.7,149.0 L543.8,148.1 L543.0,147.5 L542.0,146.9 L540.5,146.3 L539.2,146.1 L537.8,146.1 L536.6,146.2 L535.5,146.5 L534.2,146.9 L532.9,147.6 L531.8,148.4 L530.9,149.1 L530.1,149.7 L529.7,150.1Z" fill="#a422d2" stroke="#6a1688" stroke-width="0.5" stroke-linejoin="round"/><path d="M395.9,275.1 Q407.1,274.0 407.3,276.8 T399.0,277.1" fill="none" stroke="#d08898" stroke-width="0.60" opacity="0.70"/><path d="M403.7,287.2 Q393.0,281.1 382.2,290.8 T387.3,276.5" fill="none" stroke="#d08898" stroke-width="0.60" opacity="0.70"/><path d="M419.2,296.2 Q420.0,298.0 411.0,282.9 T411.7,269.1" fill="none" stroke="#d08898" stroke-width="0.60" opacity="0.70"/><path d="M384.4,258.6 Q376.0,257.5 376.0,268.1 T376.5,272.5" fill="none" stroke="#d08898" stroke-width="0.60" opacity="0.70"/><path d="M398.0,280.4 Q396.9,273.5 410.0,289.0 T419.0,295.5" fill="none" stroke="#d08898" stroke-width="0.60" opacity="0.70"/><path d="M389.9,257.9 Q384.3,246.0 391.3,246.0 T400.5,246.0" fill="none" stroke="#d08898" stroke-width="0.60" opacity="0.70"/><path d="M418.2,290.1 Q405.0,281.0 415.8,280.1 T420.0,276.9" fill="none" stroke="#d08898" stroke-width="0.60" opacity="0.70"/><path d="M379.2,278.7 Q386.6,271.5 376.0,266.3 T388.3,274.4" fill="none" stroke="#d08898" stroke-width="0.60" opacity="0.70"/><path d="M389.2,279.0 C389.4,281.4 389.9,285.0 389.2,287.1 C388.5,289.3 386.5,291.3 385.0,291.8 C383.5,292.3 381.8,290.9 380.4,290.0 C378.9,289.1 377.3,288.2 376.4,286.3 C375.6,284.5 375.2,281.5 375.1,279.0 C375.1,276.5 375.3,273.5 376.2,271.3 C377.0,269.2 378.6,266.5 380.0,266.1 C381.4,265.6 383.2,267.5 384.5,268.6 C385.8,269.7 386.9,271.0 387.7,272.7 C388.5,274.4 388.9,276.6 389.2,279.0Z" fill="#3040c8" opacity="0.50"/><path d="M376.8,271.8a1.3,1.3 0 1,0 2.7,0a1.3,1.3 0 1,0 -2.7,0M379.0,277.4a0.8,0.8 0 1,0 1.5,0a0.8,0.8 0 1,0 -1.5,0M374.9,283.1a1.5,1.5 0 1,0 3.0,0a1.5,1.5 0 1,0 -3.0,0M386.4,276.0a0.7,0.7 0 1,0 1.4,0a0.7,0.7 0 1,0 -1.4,0M381.0,286.7a1.0,1.0 0 1,0 1.9,0a1.0,1.0 0 1,0 -1.9,0M387.3,279.4a1.4,1.4 0 1,0 2.8,0a1.4,1.4 0 1,0 -2.8,0M380.0,274.1a1.0,1.0 0 1,0 1.9,0a1.0,1.0 0 1,0 -1.9,0M378.8,274.0a0.7,0.7 0 1,0 1.4,0a0.7,0.7 0 1,0 -1.4,0M379.4,267.8a0.7,0.7 0 1,0 1.5,0a0.7,0.7 0 1,0 -1.5,0M380.7,273.3a0.9,0.9 0 1,0 1.8,0a0.9,0.9 0 1,0 -1.8,0" fill="none" stroke="#30a0e0" stroke-width="0.7"/><path d="M380.3,267.7a0.8,0.8 0 1,0 1.6,0a0.8,0.8 0 1,0 -1.6,0M376.1,274.1a1.1,1.1 0 1,0 2.3,0a1.1,1.1 0 1,0 -2.3,0M383.9,285.4a1.2,1.2 0 1,0 2.4,0a1.2,1.2 0 1,0 -2.4,0M383.1,269.6a0.8,0.8 0 1,0 1.6,0a0.8,0.8 0 1,0 -1.6,0M376.4,270.9a1.3,1.3 0 1,0 2.7,0a1.3,1.3 0 1,0 -2.7,0M382.8,282.9a0.8,0.8 0 1,0 1.7,0a0.8,0.8 0 1,0 -1.7,0M374.9,276.1a1.4,1.4 0 1,0 2.8,0a1.4,1.4 0 1,0 -2.8,0M381.8,270.8a1.3,1.3 0 1,0 2.6,0a1.3,1.3 0 1,0 -2.6,0" fill="none" stroke="#50c0f0" stroke-width="0.7"/><path d="M384.5,276.9a1.1,1.1 0 1,0 2.3,0a1.1,1.1 0 1,0 -2.3,0M379.9,273.2a1.2,1.2 0 1,0 2.5,0a1.2,1.2 0 1,0 -2.5,0M378.0,270.4a1.1,1.1 0 1,0 2.3,0a1.1,1.1 0 1,0 -2.3,0M377.9,276.3a1.2,1.2 0 1,0 2.5,0a1.2,1.2 0 1,0 -2.5,0M379.4,277.9a1.4,1.4 0 1,0 2.7,0a1.4,1.4 0 1,0 -2.7,0M380.2,289.0a1.4,1.4 0 1,0 2.8,0a1.4,1.4 0 1,0 -2.8,0M383.1,280.2a1.3,1.3 0 1,0 2.7,0a1.3,1.3 0 1,0 -2.7,0M376.7,282.8a0.9,0.9 0 1,0 1.8,0a0.9,0.9 0 1,0 -1.8,0" fill="none" stroke="#8020c0" stroke-width="0.7"/><path d="M379.1,266.6a0.9,0.9 0 1,0 1.8,0a0.9,0.9 0 1,0 -1.8,0M380.3,282.5a1.3,1.3 0 1,0 2.7,0a1.3,1.3 0 1,0 -2.7,0M378.2,283.5a1.4,1.4 0 1,0 2.8,0a1.4,1.4 0 1,0 -2.8,0M383.8,273.0a0.7,0.7 0 1,0 1.5,0a0.7,0.7 0 1,0 -1.5,0M387.3,285.5a0.7,0.7 0 1,0 1.5,0a0.7,0.7 0 1,0 -1.5,0M379.7,270.5a1.3,1.3 0 1,0 2.6,0a1.3,1.3 0 1,0 -2.6,0M382.5,281.9a1.3,1.3 0 1,0 2.7,0a1.3,1.3 0 1,0 -2.7,0M378.6,278.2a0.9,0.9 0 1,0 1.7,0a0.9,0.9 0 1,0 -1.7,0M382.8,285.9a1.1,1.1 0 1,0 2.3,0a1.1,1.1 0 1,0 -2.3,0" fill="none" stroke="#1020b0" stroke-width="0.7"/><path d="M383.6,275.1a1.2,1.2 0 1,0 2.5,0a1.2,1.2 0 1,0 -2.5,0M386.3,274.3a1.5,1.5 0 1,0 3.0,0a1.5,1.5 0 1,0 -3.0,0M382.8,287.7a1.1,1.1 0 1,0 2.1,0a1.1,1.1 0 1,0 -2.1,0M379.5,269.5a1.2,1.2 0 1,0 2.5,0a1.2,1.2 0 1,0 -2.5,0M374.1,278.7a1.3,1.3 0 1,0 2.7,0a1.3,1.3 0 1,0 -2.7,0M384.5,281.6a0.9,0.9 0 1,0 1.7,0a0.9,0.9 0 1,0 -1.7,0" fill="none" stroke="#2030d0" stroke-width="0.7"/><path d="M378.9,273.3a0.9,0.9 0 1,0 1.7,0a0.9,0.9 0 1,0 -1.7,0M377.6,282.0a1.3,1.3 0 1,0 2.7,0a1.3,1.3 0 1,0 -2.7,0M378.4,284.9a1.5,1.5 0 1,0 3.0,0a1.5,1.5 0 1,0 -3.0,0M381.7,278.5a1.5,1.5 0 1,0 3.0,0a1.5,1.5 0 1,0 -3.0,0M385.6,289.7a1.2,1.2 0 1,0 2.5,0a1.2,1.2 0 1,0 -2.5,0M384.7,282.4a1.1,1.1 0 1,0 2.1,0a1.1,1.1 0 1,0 -2.1,0M385.8,275.8a0.9,0.9 0 1,0 1.7,0a0.9,0.9 0 1,0 -1.7,0M385.7,275.5a1.3,1.3 0 1,0 2.5,0a1.3,1.3 0 1,0 -2.5,0" fill="none" stroke="#3050f0" stroke-width="0.7"/><path d="M379.3,282.7a0.9,0.9 0 1,0 1.8,0a0.9,0.9 0 1,0 -1.8,0M377.4,284.5a1.3,1.3 0 1,0 2.6,0a1.3,1.3 0 1,0 -2.6,0M377.0,284.2a1.2,1.2 0 1,0 2.4,0a1.2,1.2 0 1,0 -2.4,0M384.8,279.6a0.8,0.8 0 1,0 1.6,0a0.8,0.8 0 1,0 -1.6,0" fill="none" stroke="#c040c0" stroke-width="0.7"/><path d="M383.2,269.7l0.3,2.8M378.5,282.4l0.8,1.3M386.5,271.6l-1.6,1.7M378.9,280.4l1.0,3.2M375.8,282.2l2.7,2.3M383.5,273.7l-1.9,1.7M379.3,275.8l-1.9,1.6" fill="none" stroke="#c040c0" stroke-width="0.9" stroke-linecap="round"/><path d="M384.8,274.5l2.3,2.1M386.3,289.0l-1.7,0.2M378.8,274.8l2.3,1.7M377.8,272.6l2.9,1.6M381.3,279.1l-0.9,1.6M386.4,281.3l-2.4,1.4M377.9,274.1l-1.3,1.5" fill="none" stroke="#50c0f0" stroke-width="0.9" stroke-linecap="round"/><path d="M385.7,282.5l2.0,2.3M384.0,274.6l2.8,1.6M381.5,281.3l-1.6,1.1M385.5,278.8l2.4,1.0M379.0,269.2l-2.3,1.9M388.0,283.6l-2.5,2.1M388.2,287.3l-1.7,1.6M382.8,279.6l-0.5,2.9M386.5,275.3l1.6,2.6M376.1,275.3l1.0,2.9" fill="none" stroke="#1020b0" stroke-width="0.9" stroke-linecap="round"/><path d="M382.7,287.8l-0.8,1.3M379.3,269.3l-3.0,0.6M381.7,270.0l0.0,2.5M380.9,283.1l-1.4,2.9M381.5,283.4l2.1,1.3M389.4,280.4l-2.9,1.9M375.0,277.4l3.3,0.6" fill="none" stroke="#3050f0" stroke-width="0.9" stroke-linecap="round"/><path d="M387.9,286.4l-0.9,2.6M388.9,281.5l-3.1,0.2M385.8,288.5l-2.1,0.4M376.6,272.3l2.5,1.7M377.9,278.7l0.8,1.9M381.2,266.0l0.2,3.5M382.9,285.6l0.2,3.4M376.9,286.4l1.3,0.8M385.5,288.3l-1.5,2.3M383.7,284.1l1.5,1.1M378.9,266.9l-1.0,2.6M383.5,280.4l-2.9,0.0" fill="none" stroke="#2030d0" stroke-width="0.9" stroke-linecap="round"/><path d="M376.8,274.2l0.5,1.5M380.2,289.9l2.8,0.5M386.6,276.3l-1.9,2.2M376.8,283.0l-1.6,0.9M382.3,283.0l1.4,0.8M374.7,283.1l2.8,0.3M375.6,284.3l1.9,0.2M385.3,271.8l2.8,0.7M379.7,284.3l1.7,0.4M387.5,287.3l-2.6,1.9M375.8,276.7l-0.2,1.7M380.8,281.3l-1.8,0.3" fill="none" stroke="#30a0e0" stroke-width="0.9" stroke-linecap="round"/><path d="M382.0,279.1l-1.1,3.3M378.5,271.9l1.7,0.3M382.6,274.0l1.4,2.2M375.8,276.5l1.7,1.7M385.8,272.4l-1.3,1.8M382.9,281.9l-1.7,1.4" fill="none" stroke="#8020c0" stroke-width="0.9" stroke-linecap="round"/><path d="M375.9,273.7A1.80,1.15 195 1,0 379.3,274.7A1.80,1.15 195 1,0 375.9,273.7M376.1,276.2A1.80,1.15 195 1,0 379.6,277.1A1.80,1.15 195 1,0 376.1,276.2M376.3,278.6A1.80,1.15 195 1,0 379.8,279.5A1.80,1.15 195 1,0 376.3,278.6M376.5,281.0A1.80,1.15 195 1,0 380.0,282.0A1.80,1.15 195 1,0 376.5,281.0M376.7,283.5A1.80,1.15 195 1,0 380.2,284.4A1.80,1.15 195 1,0 376.7,283.5M376.9,285.9A1.80,1.15 195 1,0 380.4,286.8A1.80,1.15 195 1,0 376.9,285.9M377.2,288.3A1.80,1.15 195 1,0 380.6,289.3A1.80,1.15 195 1,0 377.2,288.3" fill="#2434d4" stroke="#192494" stroke-width="0.4"/><path d="M376.5,273.7A0.79,0.43 195 1,0 378.1,274.1A0.79,0.43 195 1,0 376.5,273.7M376.8,276.1A0.79,0.43 195 1,0 378.3,276.5A0.79,0.43 195 1,0 376.8,276.1M377.0,278.6A0.79,0.43 195 1,0 378.5,279.0A0.79,0.43 195 1,0 377.0,278.6M377.2,281.0A0.79,0.43 195 1,0 378.7,281.4A0.79,0.43 195 1,0 377.2,281.0M377.4,283.4A0.79,0.43 195 1,0 378.9,283.8A0.79,0.43 195 1,0 377.4,283.4M377.6,285.9A0.79,0.43 195 1,0 379.1,286.3A0.79,0.43 195 1,0 377.6,285.9M377.8,288.3A0.79,0.43 195 1,0 379.4,288.7A0.79,0.43 195 1,0 377.8,288.3" fill="#868fe7"/><path d="M380.5,273.8A1.70,1.09 191 1,0 383.8,274.5A1.70,1.09 191 1,0 380.5,273.8M380.9,276.1A1.70,1.09 191 1,0 384.2,276.8A1.70,1.09 191 1,0 380.9,276.1M381.2,278.4A1.70,1.09 191 1,0 384.6,279.0A1.70,1.09 191 1,0 381.2,278.4M381.6,280.7A1.70,1.09 191 1,0 384.9,281.3A1.70,1.09 191 1,0 381.6,280.7M381.9,283.0A1.70,1.09 191 1,0 385.3,283.6A1.70,1.09 191 1,0 381.9,283.0M382.3,285.2A1.70,1.09 191 1,0 385.6,285.9A1.70,1.09 191 1,0 382.3,285.2M382.7,287.5A1.70,1.09 191 1,0 386.0,288.2A1.70,1.09 191 1,0 382.7,287.5" fill="#3848e8" stroke="#2732a2" stroke-width="0.4"/><path d="M381.1,273.7A0.75,0.41 191 1,0 382.6,274.0A0.75,0.41 191 1,0 381.1,273.7M381.5,276.0A0.75,0.41 191 1,0 383.0,276.3A0.75,0.41 191 1,0 381.5,276.0M381.9,278.3A0.75,0.41 191 1,0 383.3,278.6A0.75,0.41 191 1,0 381.9,278.3M382.2,280.6A0.75,0.41 191 1,0 383.7,280.8A0.75,0.41 191 1,0 382.2,280.6M382.6,282.8A0.75,0.41 191 1,0 384.0,283.1A0.75,0.41 191 1,0 382.6,282.8M382.9,285.1A0.75,0.41 191 1,0 384.4,285.4A0.75,0.41 191 1,0 382.9,285.1M383.3,287.4A0.75,0.41 191 1,0 384.8,287.7A0.75,0.41 191 1,0 383.3,287.4" fill="#919af2"/><path d="M391.0,266.0 C391.1,266.7 390.4,268.0 389.4,268.6 C388.5,269.2 386.6,269.4 385.3,269.4 C384.0,269.5 382.6,269.3 381.6,268.9 C380.6,268.5 379.3,267.7 379.2,267.0 C379.0,266.3 379.8,265.1 380.7,264.5 C381.7,263.9 383.4,263.3 384.7,263.2 C386.0,263.1 387.5,263.5 388.5,264.0 C389.6,264.5 390.8,265.2 391.0,266.0Z" fill="#40b0e0" opacity="0.70"/><path d="M387.8,265.9a0.7,0.7 0 1,0 1.5,0a0.7,0.7 0 1,0 -1.5,0M389.1,266.0a1.3,1.3 0 1,0 2.6,0a1.3,1.3 0 1,0 -2.6,0M382.5,269.0a1.3,1.3 0 1,0 2.6,0a1.3,1.3 0 1,0 -2.6,0M380.0,266.2a0.9,0.9 0 1,0 1.8,0a0.9,0.9 0 1,0 -1.8,0M380.5,265.0a0.9,0.9 0 1,0 1.7,0a0.9,0.9 0 1,0 -1.7,0M387.2,267.5a1.3,1.3 0 1,0 2.5,0a1.3,1.3 0 1,0 -2.5,0M387.2,266.0a1.1,1.1 0 1,0 2.1,0a1.1,1.1 0 1,0 -2.1,0" fill="none" stroke="#60d0f0" stroke-width="0.7"/><path d="M383.3,266.2a0.8,0.8 0 1,0 1.5,0a0.8,0.8 0 1,0 -1.5,0" fill="none" stroke="#30b0e0" stroke-width="0.7"/><path d="M380.5,266.9a1.1,1.1 0 1,0 2.3,0a1.1,1.1 0 1,0 -2.3,0M383.9,268.9a1.4,1.4 0 1,0 2.8,0a1.4,1.4 0 1,0 -2.8,0M386.3,264.1a0.9,0.9 0 1,0 1.8,0a0.9,0.9 0 1,0 -1.8,0" fill="none" stroke="#2090c0" stroke-width="0.7"/><path d="M381.5,264.9a0.9,0.9 0 1,0 1.8,0a0.9,0.9 0 1,0 -1.8,0M385.0,266.9a0.8,0.8 0 1,0 1.6,0a0.8,0.8 0 1,0 -1.6,0M388.4,265.7a1.0,1.0 0 1,0 1.9,0a1.0,1.0 0 1,0 -1.9,0M383.7,265.4a1.1,1.1 0 1,0 2.2,0a1.1,1.1 0 1,0 -2.2,0" fill="none" stroke="#ffffff" stroke-width="0.7"/><path d="M381.4,266.2l-0.9,1.6M381.4,265.5l-0.2,2.5M387.5,268.8l-2.5,0.2M380.3,264.4l1.8,1.5M387.8,267.6l1.3,1.1M388.2,267.4l-2.8,0.4M390.6,265.2l-1.3,1.6M379.0,266.5l2.5,0.2M387.5,267.0l-0.3,1.6M388.5,262.9l-2.2,1.9" fill="none" stroke="#60d0f0" stroke-width="0.9" stroke-linecap="round"/><path d="M382.8,264.4l-0.4,3.0M383.5,267.0l0.8,1.6" fill="none" stroke="#30b0e0" stroke-width="0.9" stroke-linecap="round"/><path d="M382.8,266.3l0.5,2.2M382.4,267.0l-2.5,2.3M388.2,264.3l-1.7,2.1" fill="none" stroke="#ffffff" stroke-width="0.9" stroke-linecap="round"/><path d="M384.9,266.2l-1.0,2.2M384.0,267.9l1.6,0.9" fill="none" stroke="#2090c0" stroke-width="0.9" stroke-linecap="round"/><path d="M381.1,267.8A1.60,1.02 99 1,0 381.6,264.7A1.60,1.02 99 1,0 381.1,267.8M383.7,267.3A1.60,1.02 99 1,0 384.2,264.2A1.60,1.02 99 1,0 383.7,267.3M386.3,266.8A1.60,1.02 99 1,0 386.8,263.7A1.60,1.02 99 1,0 386.3,266.8M388.9,266.3A1.60,1.02 99 1,0 389.4,263.2A1.60,1.02 99 1,0 388.9,266.3" fill="#40b8e8" stroke="#2c80a2" stroke-width="0.4"/><path d="M380.9,266.6A0.70,0.38 99 1,0 381.1,265.3A0.70,0.38 99 1,0 380.9,266.6M383.5,266.1A0.70,0.38 99 1,0 383.8,264.8A0.70,0.38 99 1,0 383.5,266.1M386.1,265.6A0.70,0.38 99 1,0 386.4,264.3A0.70,0.38 99 1,0 386.1,265.6M388.8,265.1A0.70,0.38 99 1,0 389.0,263.8A0.70,0.38 99 1,0 388.8,265.1" fill="#95d7f2"/><path d="M379.0,290.0 C380.0,291.0 382.3,294.6 385.0,296.0 C387.7,297.4 392.2,298.8 395.0,298.5 C397.8,298.2 400.8,294.8 402.0,294.0" fill="none" stroke="#9020c0" stroke-width="1.60" stroke-linecap="round" stroke-linejoin="round" opacity="1.00"/><path d="M388.0,296.0 C389.5,296.3 395.5,297.7 397.0,298.0" fill="none" stroke="#8020d0" stroke-width="2.60" stroke-linecap="round" stroke-linejoin="round" opacity="1.00"/><path d="M387.7,293.3A2.20,1.41 69 1,0 386.1,289.2A2.20,1.41 69 1,0 387.7,293.3M389.5,291.7A2.20,1.41 69 1,0 387.9,287.6A2.20,1.41 69 1,0 389.5,291.7M391.2,290.2A2.20,1.41 69 1,0 389.6,286.1A2.20,1.41 69 1,0 391.2,290.2M393.0,288.6A2.20,1.41 69 1,0 391.4,284.5A2.20,1.41 69 1,0 393.0,288.6M394.8,287.1A2.20,1.41 69 1,0 393.2,282.9A2.20,1.41 69 1,0 394.8,287.1M396.6,285.5A2.20,1.41 69 1,0 395.0,281.4A2.20,1.41 69 1,0 396.6,285.5M398.4,283.9A2.20,1.41 69 1,0 396.8,279.8A2.20,1.41 69 1,0 398.4,283.9M400.1,282.4A2.20,1.41 69 1,0 398.5,278.3A2.20,1.41 69 1,0 400.1,282.4M401.9,280.8A2.20,1.41 69 1,0 400.3,276.7A2.20,1.41 69 1,0 401.9,280.8" fill="#30d060" stroke="#219143" stroke-width="0.4"/><path d="M386.9,291.8A0.97,0.53 69 1,0 386.2,290.0A0.97,0.53 69 1,0 386.9,291.8M388.7,290.3A0.97,0.53 69 1,0 388.0,288.5A0.97,0.53 69 1,0 388.7,290.3M390.5,288.7A0.97,0.53 69 1,0 389.8,286.9A0.97,0.53 69 1,0 390.5,288.7M392.3,287.2A0.97,0.53 69 1,0 391.6,285.4A0.97,0.53 69 1,0 392.3,287.2M394.0,285.6A0.97,0.53 69 1,0 393.4,283.8A0.97,0.53 69 1,0 394.0,285.6M395.8,284.0A0.97,0.53 69 1,0 395.1,282.2A0.97,0.53 69 1,0 395.8,284.0M397.6,282.5A0.97,0.53 69 1,0 396.9,280.7A0.97,0.53 69 1,0 397.6,282.5M399.4,280.9A0.97,0.53 69 1,0 398.7,279.1A0.97,0.53 69 1,0 399.4,280.9M401.2,279.4A0.97,0.53 69 1,0 400.5,277.6A0.97,0.53 69 1,0 401.2,279.4" fill="#8de5a7"/><path d="M400.1,253.0 C400.0,254.0 399.8,255.3 398.9,256.0 C398.1,256.7 396.3,257.0 395.0,257.0 C393.7,257.0 391.9,256.7 391.0,256.1 C390.0,255.4 389.2,253.9 389.3,253.0 C389.4,252.1 390.7,251.0 391.6,250.4 C392.6,249.8 393.7,249.5 395.0,249.4 C396.3,249.3 398.4,249.1 399.3,249.7 C400.1,250.3 400.1,252.0 400.1,253.0Z" fill="#8a1010" opacity="0.80"/><path d="M390.2,255.7a1.5,1.5 0 1,0 2.9,0a1.5,1.5 0 1,0 -2.9,0M396.4,254.1a1.2,1.2 0 1,0 2.3,0a1.2,1.2 0 1,0 -2.3,0M391.8,255.8a1.2,1.2 0 1,0 2.5,0a1.2,1.2 0 1,0 -2.5,0M392.6,251.4a1.2,1.2 0 1,0 2.4,0a1.2,1.2 0 1,0 -2.4,0M394.0,254.4a1.4,1.4 0 1,0 2.9,0a1.4,1.4 0 1,0 -2.9,0M391.9,250.9a1.5,1.5 0 1,0 3.0,0a1.5,1.5 0 1,0 -3.0,0" fill="none" stroke="#901010" stroke-width="0.7"/><path d="M395.7,254.0a1.0,1.0 0 1,0 2.1,0a1.0,1.0 0 1,0 -2.1,0M394.8,254.7a1.1,1.1 0 1,0 2.2,0a1.1,1.1 0 1,0 -2.2,0M392.8,254.8a0.8,0.8 0 1,0 1.6,0a0.8,0.8 0 1,0 -1.6,0M396.1,255.7a1.4,1.4 0 1,0 2.8,0a1.4,1.4 0 1,0 -2.8,0M397.8,254.9a1.0,1.0 0 1,0 2.0,0a1.0,1.0 0 1,0 -2.0,0M389.2,254.5a1.3,1.3 0 1,0 2.6,0a1.3,1.3 0 1,0 -2.6,0M398.1,252.7a1.3,1.3 0 1,0 2.6,0a1.3,1.3 0 1,0 -2.6,0M390.0,251.6a1.4,1.4 0 1,0 2.8,0a1.4,1.4 0 1,0 -2.8,0M396.3,255.7a0.8,0.8 0 1,0 1.6,0a0.8,0.8 0 1,0 -1.6,0" fill="none" stroke="#701010" stroke-width="0.7"/><path d="M396.0,254.9a1.2,1.2 0 1,0 2.5,0a1.2,1.2 0 1,0 -2.5,0M396.4,250.1a1.1,1.1 0 1,0 2.3,0a1.1,1.1 0 1,0 -2.3,0M394.3,252.4a1.4,1.4 0 1,0 2.8,0a1.4,1.4 0 1,0 -2.8,0M395.4,249.6a1.1,1.1 0 1,0 2.3,0a1.1,1.1 0 1,0 -2.3,0M395.2,254.5a1.0,1.0 0 1,0 1.9,0a1.0,1.0 0 1,0 -1.9,0M391.8,255.5a1.1,1.1 0 1,0 2.1,0a1.1,1.1 0 1,0 -2.1,0M390.9,256.0a0.8,0.8 0 1,0 1.5,0a0.8,0.8 0 1,0 -1.5,0" fill="none" stroke="#c04020" stroke-width="0.7"/><path d="M393.3,252.5a0.9,0.9 0 1,0 1.9,0a0.9,0.9 0 1,0 -1.9,0" fill="none" stroke="#b02010" stroke-width="0.7"/><path d="M401.3,252.5l-2.9,0.8M394.6,253.8l1.5,0.8M397.6,251.8l-2.1,0.1" fill="none" stroke="#b02010" stroke-width="0.9" stroke-linecap="round"/><path d="M395.6,252.6l1.6,0.6M392.4,254.8l-2.4,1.0M399.6,249.4l-0.9,2.8M395.0,255.4l-2.5,0.7M393.7,254.0l-1.6,2.2M398.7,251.8l-2.5,1.6M390.9,251.2l0.5,3.0" fill="none" stroke="#701010" stroke-width="0.9" stroke-linecap="round"/><path d="M400.5,252.8l-2.0,2.6M398.1,252.6l-1.3,1.7M395.7,250.2l-2.4,0.6M397.9,249.8l0.7,1.6M396.1,250.8l-3.4,0.2" fill="none" stroke="#c04020" stroke-width="0.9" stroke-linecap="round"/><path d="M395.6,248.5l1.1,2.8M395.8,254.0l1.6,0.7M393.9,254.9l-1.6,1.2M392.9,251.8l-1.9,1.8M390.6,254.4l1.2,1.9M398.3,252.8l-3.1,1.7" fill="none" stroke="#901010" stroke-width="0.9" stroke-linecap="round"/><path d="M383.0,254.0 C385.2,254.7 393.8,257.3 396.0,258.0" fill="none" stroke="#e07020" stroke-width="1.00" stroke-linecap="round" stroke-linejoin="round" opacity="1.00"/><path d="M384.0,259.0 C385.8,259.4 393.2,261.1 395.0,261.5" fill="none" stroke="#d06020" stroke-width="1.00" stroke-linecap="round" stroke-linejoin="round" opacity="1.00"/><path d="M395.4,250.3 L395.8,251.2 L396.4,252.3 L397.1,253.7 L397.9,255.2 L398.7,256.8 L399.4,258.3 L400.1,259.9 L400.8,261.8 L401.6,263.8 L402.3,265.6 L402.9,267.1 L403.3,268.3 L404.7,267.7 L404.2,266.6 L403.6,265.1 L402.9,263.2 L402.1,261.3 L401.4,259.4 L400.6,257.7 L399.9,256.2 L399.1,254.6 L398.4,253.1 L397.7,251.7 L397.1,250.5 L396.6,249.7Z" fill="#e08020" stroke-linejoin="round"/><path d="M397.4,246.5 L397.9,247.5 L398.7,248.9 L399.5,250.5 L400.4,252.3 L401.3,254.1 L402.1,255.7 L402.7,257.3 L403.4,259.1 L404.0,260.9 L404.6,262.5 L405.1,264.0 L405.4,265.0 L407.0,264.4 L406.6,263.4 L406.1,262.0 L405.5,260.4 L404.9,258.6 L404.2,256.8 L403.5,255.1 L402.8,253.4 L401.9,251.6 L400.9,249.8 L400.1,248.1 L399.3,246.7 L398.8,245.7Z" fill="#e89a22" stroke-linejoin="round"/><path d="M400.8,245.4 L401.4,246.4 L402.1,247.8 L402.9,249.4 L403.8,251.2 L404.7,252.9 L405.4,254.5 L406.1,256.2 L406.8,257.9 L407.4,259.7 L408.0,261.4 L408.5,262.8 L408.9,263.8 L410.5,263.2 L410.1,262.2 L409.6,260.8 L409.0,259.1 L408.4,257.3 L407.7,255.5 L407.0,253.9 L406.2,252.2 L405.3,250.4 L404.4,248.6 L403.6,247.0 L402.9,245.6 L402.4,244.6Z" fill="#e8cc24" stroke-linejoin="round"/><path d="M403.2,244.8 L403.7,245.7 L404.4,247.0 L405.3,248.6 L406.2,250.2 L407.1,251.9 L407.9,253.5 L408.7,255.1 L409.6,256.8 L410.5,258.6 L411.3,260.3 L412.0,261.6 L412.5,262.7 L413.9,261.9 L413.4,260.9 L412.7,259.5 L411.9,257.9 L411.0,256.1 L410.1,254.4 L409.3,252.7 L408.5,251.1 L407.6,249.5 L406.7,247.8 L405.8,246.3 L405.1,245.0 L404.6,244.0Z" fill="#f0e060" stroke-linejoin="round"/><path d="M405.5,246.5 L406.0,247.5 L406.8,248.9 L407.6,250.5 L408.5,252.3 L409.4,254.1 L410.2,255.7 L410.8,257.3 L411.5,259.1 L412.2,260.9 L412.8,262.6 L413.3,264.0 L413.6,265.0 L415.2,264.4 L414.8,263.4 L414.3,262.0 L413.7,260.4 L413.0,258.6 L412.3,256.8 L411.6,255.1 L410.9,253.4 L410.0,251.6 L409.0,249.8 L408.2,248.1 L407.4,246.7 L406.9,245.7Z" fill="#d4d030" stroke-linejoin="round"/><path d="M408.0,250.0 L408.5,250.8 L409.2,252.1 L410.1,253.5 L411.0,255.0 L411.8,256.6 L412.6,258.0 L413.2,259.4 L413.9,261.0 L414.6,262.5 L415.2,264.0 L415.7,265.2 L416.1,266.1 L417.3,265.5 L417.0,264.6 L416.5,263.4 L415.9,262.0 L415.2,260.4 L414.5,258.9 L413.8,257.4 L413.1,255.9 L412.2,254.4 L411.3,252.8 L410.4,251.3 L409.7,250.1 L409.2,249.2Z" fill="#e09020" stroke-linejoin="round"/><path d="M403.2,267.6 L404.1,268.6 L405.3,270.0 L406.8,271.7 L408.3,273.5 L409.9,275.2 L411.4,276.8 L412.8,278.4 L414.4,280.0 L416.0,281.5 L417.4,283.0 L418.7,284.2 L419.6,285.0 L420.8,283.8 L419.9,282.9 L418.7,281.7 L417.2,280.2 L415.7,278.7 L414.1,277.1 L412.6,275.6 L411.2,274.0 L409.7,272.3 L408.1,270.5 L406.7,268.8 L405.5,267.4 L404.6,266.4Z" fill="#40c030" stroke-linejoin="round"/><path d="M406.8,266.4 L407.7,267.3 L408.9,268.5 L410.4,269.9 L412.0,271.5 L413.5,273.0 L414.9,274.5 L416.2,275.9 L417.5,277.5 L418.9,279.0 L420.1,280.4 L421.1,281.7 L421.9,282.6 L423.1,281.4 L422.4,280.6 L421.4,279.4 L420.2,277.9 L418.8,276.3 L417.5,274.8 L416.1,273.3 L414.7,271.9 L413.2,270.3 L411.6,268.7 L410.1,267.3 L408.9,266.1 L408.0,265.2Z" fill="#80d040" stroke-linejoin="round"/><path d="M404.6,273.3 L405.3,274.1 L406.4,275.1 L407.7,276.3 L409.0,277.7 L410.3,279.0 L411.4,280.2 L412.5,281.4 L413.6,282.8 L414.7,284.1 L415.8,285.4 L416.6,286.4 L417.2,287.2 L418.4,286.2 L417.8,285.5 L416.9,284.4 L415.9,283.2 L414.8,281.8 L413.7,280.5 L412.6,279.2 L411.4,277.9 L410.1,276.6 L408.7,275.3 L407.5,274.0 L406.4,273.0 L405.6,272.3Z" fill="#30b030" stroke-linejoin="round"/><path d="M411.7,282.6 L412.3,283.0 L413.3,283.4 L414.3,284.0 L415.5,284.5 L416.6,285.1 L417.7,285.6 L418.7,286.1 L419.8,286.7 L420.9,287.2 L421.8,287.7 L422.7,288.1 L423.3,288.4 L423.9,287.2 L423.3,286.9 L422.5,286.5 L421.5,286.0 L420.4,285.4 L419.3,284.9 L418.3,284.4 L417.3,283.9 L416.1,283.3 L415.0,282.7 L413.9,282.2 L413.0,281.7 L412.3,281.4Z" fill="#a0d040" stroke-linejoin="round"/><path d="M399.7,279.6 L400.6,280.1 L401.8,280.6 L403.3,281.3 L404.8,282.0 L406.3,282.8 L407.6,283.6 L408.9,284.5 L410.2,285.6 L411.5,286.8 L412.7,287.9 L413.8,288.8 L414.5,289.5 L415.5,288.5 L414.7,287.8 L413.7,286.9 L412.5,285.7 L411.1,284.5 L409.8,283.4 L408.4,282.4 L407.0,281.6 L405.4,280.8 L403.9,280.0 L402.4,279.3 L401.2,278.8 L400.3,278.4Z" fill="#48c838" stroke-linejoin="round"/><path d="M409.6,269.4 L410.3,270.2 L411.4,271.3 L412.6,272.6 L414.0,274.0 L415.3,275.3 L416.6,276.5 L417.9,277.5 L419.2,278.5 L420.6,279.4 L421.9,280.3 L422.9,281.0 L423.7,281.5 L424.3,280.5 L423.6,280.0 L422.5,279.3 L421.3,278.4 L419.9,277.5 L418.6,276.5 L417.4,275.5 L416.2,274.4 L414.8,273.1 L413.5,271.8 L412.2,270.5 L411.2,269.4 L410.4,268.6Z" fill="#c0e080" stroke-linejoin="round"/><path d="M513.9,320.1 Q517.8,319.3 509.6,330.6 T518.5,331.1" fill="none" stroke="#e0a030" stroke-width="0.70" opacity="0.70"/><path d="M530.2,291.1 Q515.9,286.2 518.4,276.0 T526.9,276.0" fill="none" stroke="#e0a030" stroke-width="0.70" opacity="0.70"/><path d="M517.2,278.7 Q531.5,287.9 542.3,292.3 T528.9,285.8" fill="none" stroke="#e0a030" stroke-width="0.70" opacity="0.70"/><path d="M529.9,283.4 Q542.9,278.4 533.0,290.6 T522.2,307.0" fill="none" stroke="#e0a030" stroke-width="0.70" opacity="0.70"/><path d="M527.8,311.3 Q523.2,310.7 514.2,293.0 T524.7,282.8" fill="none" stroke="#e0a030" stroke-width="0.70" opacity="0.70"/><path d="M543.5,289.3 Q554.0,304.5 554.0,314.6 T554.0,323.4" fill="none" stroke="#e0a030" stroke-width="0.70" opacity="0.70"/><path d="M511.9,306.5 Q521.3,295.0 533.5,309.9 T530.9,304.7" fill="none" stroke="#e0a030" stroke-width="0.70" opacity="0.70"/><path d="M527.7,300.7 Q541.9,296.3 528.3,280.7 T534.6,299.6" fill="none" stroke="#e0a030" stroke-width="0.70" opacity="0.70"/><path d="M516.4,292.0 C516.4,294.4 515.8,297.3 514.8,299.2 C513.8,301.1 511.9,303.3 510.5,303.3 C509.1,303.2 507.3,300.9 506.3,299.0 C505.3,297.1 504.5,294.4 504.5,292.0 C504.5,289.6 505.1,286.3 506.1,284.7 C507.1,283.2 509.1,282.9 510.5,282.9 C511.9,283.0 513.8,283.4 514.8,284.9 C515.7,286.4 516.4,289.6 516.4,292.0Z" fill="#40b050" opacity="0.45"/><path d="M513.3,287.3a1.0,1.0 0 1,0 2.0,0a1.0,1.0 0 1,0 -2.0,0M508.7,299.6a1.3,1.3 0 1,0 2.7,0a1.3,1.3 0 1,0 -2.7,0M509.7,288.9a0.9,0.9 0 1,0 1.7,0a0.9,0.9 0 1,0 -1.7,0M512.5,285.9a1.1,1.1 0 1,0 2.1,0a1.1,1.1 0 1,0 -2.1,0M508.4,296.0a0.8,0.8 0 1,0 1.6,0a0.8,0.8 0 1,0 -1.6,0M512.0,286.8a1.4,1.4 0 1,0 2.8,0a1.4,1.4 0 1,0 -2.8,0M509.1,301.7a1.2,1.2 0 1,0 2.4,0a1.2,1.2 0 1,0 -2.4,0M509.3,301.0a1.0,1.0 0 1,0 1.9,0a1.0,1.0 0 1,0 -1.9,0M512.0,289.2a0.9,0.9 0 1,0 1.8,0a0.9,0.9 0 1,0 -1.8,0M506.7,296.9a1.4,1.4 0 1,0 2.8,0a1.4,1.4 0 1,0 -2.8,0M510.4,286.9a1.0,1.0 0 1,0 1.9,0a1.0,1.0 0 1,0 -1.9,0M508.7,295.7a0.8,0.8 0 1,0 1.6,0a0.8,0.8 0 1,0 -1.6,0M510.6,297.4a1.3,1.3 0 1,0 2.5,0a1.3,1.3 0 1,0 -2.5,0M512.8,296.9a1.3,1.3 0 1,0 2.5,0a1.3,1.3 0 1,0 -2.5,0M510.5,292.2a1.4,1.4 0 1,0 2.8,0a1.4,1.4 0 1,0 -2.8,0M505.5,285.7a0.7,0.7 0 1,0 1.5,0a0.7,0.7 0 1,0 -1.5,0" fill="none" stroke="#80d080" stroke-width="0.7"/><path d="M506.3,294.5a1.0,1.0 0 1,0 2.1,0a1.0,1.0 0 1,0 -2.1,0M506.0,286.9a1.1,1.1 0 1,0 2.2,0a1.1,1.1 0 1,0 -2.2,0M513.8,298.6a0.7,0.7 0 1,0 1.4,0a0.7,0.7 0 1,0 -1.4,0M513.7,291.2a1.4,1.4 0 1,0 2.7,0a1.4,1.4 0 1,0 -2.7,0M511.9,293.0a1.3,1.3 0 1,0 2.6,0a1.3,1.3 0 1,0 -2.6,0M509.6,295.2a1.1,1.1 0 1,0 2.2,0a1.1,1.1 0 1,0 -2.2,0M512.2,287.7a0.7,0.7 0 1,0 1.5,0a0.7,0.7 0 1,0 -1.5,0" fill="none" stroke="#60d070" stroke-width="0.7"/><path d="M511.4,300.8a0.9,0.9 0 1,0 1.7,0a0.9,0.9 0 1,0 -1.7,0M513.9,287.6a1.1,1.1 0 1,0 2.3,0a1.1,1.1 0 1,0 -2.3,0M505.2,293.1a0.9,0.9 0 1,0 1.7,0a0.9,0.9 0 1,0 -1.7,0M507.3,295.3a0.9,0.9 0 1,0 1.8,0a0.9,0.9 0 1,0 -1.8,0M512.0,301.1a0.7,0.7 0 1,0 1.5,0a0.7,0.7 0 1,0 -1.5,0M505.1,287.0a1.4,1.4 0 1,0 2.7,0a1.4,1.4 0 1,0 -2.7,0M506.6,287.6a1.3,1.3 0 1,0 2.6,0a1.3,1.3 0 1,0 -2.6,0M506.8,292.2a1.2,1.2 0 1,0 2.4,0a1.2,1.2 0 1,0 -2.4,0M513.5,292.8a1.0,1.0 0 1,0 2.0,0a1.0,1.0 0 1,0 -2.0,0M512.6,285.6a1.1,1.1 0 1,0 2.3,0a1.1,1.1 0 1,0 -2.3,0" fill="none" stroke="#40c060" stroke-width="0.7"/><path d="M513.1,295.2a1.5,1.5 0 1,0 2.9,0a1.5,1.5 0 1,0 -2.9,0M512.8,288.4a0.9,0.9 0 1,0 1.8,0a0.9,0.9 0 1,0 -1.8,0M510.1,302.9a0.7,0.7 0 1,0 1.4,0a0.7,0.7 0 1,0 -1.4,0M505.5,286.0a1.2,1.2 0 1,0 2.4,0a1.2,1.2 0 1,0 -2.4,0M506.2,284.4a0.8,0.8 0 1,0 1.6,0a0.8,0.8 0 1,0 -1.6,0M515.3,291.2a0.8,0.8 0 1,0 1.6,0a0.8,0.8 0 1,0 -1.6,0M508.5,287.1a0.9,0.9 0 1,0 1.9,0a0.9,0.9 0 1,0 -1.9,0" fill="none" stroke="#30a040" stroke-width="0.7"/><path d="M512.0,285.5l-0.3,1.8M511.6,298.5l2.5,0.1M507.4,296.7l-0.8,1.5M505.9,293.8l2.7,0.5M505.0,291.6l-0.6,2.5M512.7,294.5l2.9,1.1M507.0,293.7l-2.2,2.0M513.3,285.3l-2.1,0.6M505.0,293.6l1.6,1.2M513.2,294.6l2.3,1.3" fill="none" stroke="#30a040" stroke-width="0.9" stroke-linecap="round"/><path d="M512.3,297.4l1.7,2.5M514.0,297.7l-2.5,0.5M506.5,297.7l-0.3,1.5M512.9,286.7l-0.2,3.0M514.3,291.2l-1.0,1.6M512.8,294.9l-0.4,1.8M509.1,289.6l0.5,2.2M512.7,299.3l2.0,0.7M509.0,288.7l-0.5,2.7M515.7,289.3l-0.6,2.0" fill="none" stroke="#60d070" stroke-width="0.9" stroke-linecap="round"/><path d="M513.8,297.8l2.2,0.9M510.4,283.2l-1.1,2.2M513.4,296.8l-0.3,1.9M510.7,301.7l-0.8,2.6" fill="none" stroke="#40c060" stroke-width="0.9" stroke-linecap="round"/><path d="M510.8,289.7l0.5,2.2M515.3,288.2l-1.9,1.9M509.7,296.6l2.8,0.1M514.1,287.6l-0.9,2.3M514.9,289.3l-2.0,0.5M514.3,292.7l-0.8,3.1M507.3,291.5l-1.6,0.9" fill="none" stroke="#80d080" stroke-width="0.9" stroke-linecap="round"/><path d="M509.0,286.0 C508.8,287.5 507.7,292.3 508.0,295.0 C508.3,297.7 510.5,300.8 511.0,302.0" fill="none" stroke="#40c060" stroke-width="1.40" stroke-linecap="round" stroke-linejoin="round" opacity="1.00"/><path d="M514.0,291.0 C513.8,293.3 512.3,300.2 512.5,305.0 C512.7,309.8 514.6,317.5 515.0,320.0" fill="none" stroke="#d8a020" stroke-width="2.00" stroke-linecap="round" stroke-linejoin="round" opacity="1.00"/><path d="M539.3,281.9 C539.6,283.3 539.5,285.0 538.7,286.3 C537.8,287.7 536.0,289.3 534.2,289.8 C532.5,290.4 530.1,290.1 528.5,289.8 C526.8,289.5 525.4,288.9 524.2,288.1 C522.9,287.3 521.3,286.3 521.0,285.1 C520.7,283.9 521.5,282.3 522.3,281.0 C523.0,279.6 524.0,277.7 525.6,276.9 C527.2,276.1 529.9,275.9 531.8,276.0 C533.7,276.2 535.8,277.0 537.1,277.9 C538.3,278.9 539.0,280.5 539.3,281.9Z" fill="#40c840" opacity="0.60"/><path d="M522.8,279.1a1.2,1.2 0 1,0 2.4,0a1.2,1.2 0 1,0 -2.4,0M529.5,277.5a1.5,1.5 0 1,0 2.9,0a1.5,1.5 0 1,0 -2.9,0M536.8,281.2a1.4,1.4 0 1,0 2.7,0a1.4,1.4 0 1,0 -2.7,0M530.1,288.0a1.0,1.0 0 1,0 2.0,0a1.0,1.0 0 1,0 -2.0,0M521.8,282.1a0.7,0.7 0 1,0 1.5,0a0.7,0.7 0 1,0 -1.5,0M535.0,283.6a1.2,1.2 0 1,0 2.4,0a1.2,1.2 0 1,0 -2.4,0M527.5,288.9a0.7,0.7 0 1,0 1.5,0a0.7,0.7 0 1,0 -1.5,0M527.1,286.9a0.7,0.7 0 1,0 1.4,0a0.7,0.7 0 1,0 -1.4,0M521.3,285.1a1.5,1.5 0 1,0 3.0,0a1.5,1.5 0 1,0 -3.0,0M532.6,276.8a1.4,1.4 0 1,0 2.8,0a1.4,1.4 0 1,0 -2.8,0M533.2,283.0a1.5,1.5 0 1,0 3.0,0a1.5,1.5 0 1,0 -3.0,0M532.5,288.1a1.2,1.2 0 1,0 2.5,0a1.2,1.2 0 1,0 -2.5,0M532.4,285.7a1.0,1.0 0 1,0 2.1,0a1.0,1.0 0 1,0 -2.1,0" fill="none" stroke="#20b020" stroke-width="0.7"/><path d="M524.4,282.3a0.9,0.9 0 1,0 1.8,0a0.9,0.9 0 1,0 -1.8,0M526.1,282.1a1.4,1.4 0 1,0 2.7,0a1.4,1.4 0 1,0 -2.7,0M530.2,278.1a1.4,1.4 0 1,0 2.7,0a1.4,1.4 0 1,0 -2.7,0M522.4,283.0a1.0,1.0 0 1,0 1.9,0a1.0,1.0 0 1,0 -1.9,0M525.5,280.0a1.1,1.1 0 1,0 2.2,0a1.1,1.1 0 1,0 -2.2,0M528.7,282.7a0.8,0.8 0 1,0 1.5,0a0.8,0.8 0 1,0 -1.5,0M534.5,285.2a1.3,1.3 0 1,0 2.6,0a1.3,1.3 0 1,0 -2.6,0M533.6,283.6a0.8,0.8 0 1,0 1.7,0a0.8,0.8 0 1,0 -1.7,0M529.8,278.9a0.9,0.9 0 1,0 1.7,0a0.9,0.9 0 1,0 -1.7,0M521.2,284.6a0.9,0.9 0 1,0 1.8,0a0.9,0.9 0 1,0 -1.8,0M531.2,284.2a0.7,0.7 0 1,0 1.4,0a0.7,0.7 0 1,0 -1.4,0" fill="none" stroke="#a0f0a0" stroke-width="0.7"/><path d="M525.4,282.1a0.9,0.9 0 1,0 1.8,0a0.9,0.9 0 1,0 -1.8,0M523.6,280.3a1.2,1.2 0 1,0 2.3,0a1.2,1.2 0 1,0 -2.3,0M524.1,280.6a0.9,0.9 0 1,0 1.7,0a0.9,0.9 0 1,0 -1.7,0M527.4,278.2a1.1,1.1 0 1,0 2.3,0a1.1,1.1 0 1,0 -2.3,0M525.9,288.0a1.4,1.4 0 1,0 2.8,0a1.4,1.4 0 1,0 -2.8,0M532.6,282.2a0.7,0.7 0 1,0 1.4,0a0.7,0.7 0 1,0 -1.4,0M524.6,280.0a1.0,1.0 0 1,0 2.0,0a1.0,1.0 0 1,0 -2.0,0M528.5,282.9a1.0,1.0 0 1,0 1.9,0a1.0,1.0 0 1,0 -1.9,0M527.9,281.7a1.5,1.5 0 1,0 2.9,0a1.5,1.5 0 1,0 -2.9,0" fill="none" stroke="#30d030" stroke-width="0.7"/><path d="M530.6,288.1a0.9,0.9 0 1,0 1.8,0a0.9,0.9 0 1,0 -1.8,0M533.8,282.1a0.9,0.9 0 1,0 1.8,0a0.9,0.9 0 1,0 -1.8,0M525.3,279.4a1.0,1.0 0 1,0 1.9,0a1.0,1.0 0 1,0 -1.9,0M536.8,281.9a1.5,1.5 0 1,0 3.0,0a1.5,1.5 0 1,0 -3.0,0M526.0,285.2a0.8,0.8 0 1,0 1.7,0a0.8,0.8 0 1,0 -1.7,0M532.3,282.9a0.8,0.8 0 1,0 1.5,0a0.8,0.8 0 1,0 -1.5,0M536.2,280.3a1.2,1.2 0 1,0 2.5,0a1.2,1.2 0 1,0 -2.5,0M533.2,280.8a1.0,1.0 0 1,0 2.0,0a1.0,1.0 0 1,0 -2.0,0M536.3,283.8a1.3,1.3 0 1,0 2.5,0a1.3,1.3 0 1,0 -2.5,0" fill="none" stroke="#60e060" stroke-width="0.7"/><path d="M531.2,284.8l-2.9,0.9M534.3,285.1l-1.0,2.5M529.1,287.7l1.7,2.7M532.8,287.6l0.5,2.7M530.7,277.0l-0.6,2.4M534.3,279.9l1.8,1.2M526.3,281.4l-0.0,2.1M530.1,285.9l-1.0,1.1M527.2,282.2l2.8,2.1" fill="none" stroke="#a0f0a0" stroke-width="0.9" stroke-linecap="round"/><path d="M532.1,287.6l-0.1,2.3M526.6,285.7l-2.3,2.4M531.5,288.8l-0.3,1.7M528.2,280.1l-1.0,1.2M529.1,284.7l-1.3,1.5M529.5,288.1l-2.4,0.6M527.4,277.1l0.0,3.1M529.3,281.2l-3.3,0.2M532.0,285.7l2.0,1.0" fill="none" stroke="#60e060" stroke-width="0.9" stroke-linecap="round"/><path d="M529.8,286.4l-3.0,0.8M532.0,281.5l2.1,2.2M531.1,278.5l-1.6,2.3M525.7,279.0l1.7,0.3M528.3,278.3l-0.8,1.7M529.0,288.4l-2.1,0.8M522.7,284.0l1.8,1.5M528.3,288.3l-1.9,0.1M531.3,283.4l-0.2,1.6M534.3,281.8l2.7,0.2M536.9,280.3l-1.4,1.6M530.8,283.7l-0.3,2.3" fill="none" stroke="#30d030" stroke-width="0.9" stroke-linecap="round"/><path d="M534.0,285.9l2.1,1.0M533.7,280.2l0.8,3.0M529.6,288.3l-0.5,2.9M532.6,288.2l3.2,0.1M522.7,283.4l1.6,1.9M529.9,281.9l2.5,1.3M528.5,277.0l0.9,2.8M526.9,283.6l-1.6,2.1" fill="none" stroke="#20b020" stroke-width="0.9" stroke-linecap="round"/><path d="M522.2,283.1A2.30,1.47 101 1,0 523.0,278.6A2.30,1.47 101 1,0 522.2,283.1M524.4,282.7A2.30,1.47 101 1,0 525.3,278.2A2.30,1.47 101 1,0 524.4,282.7M526.6,282.4A2.30,1.47 101 1,0 527.5,277.8A2.30,1.47 101 1,0 526.6,282.4M528.8,282.0A2.30,1.47 101 1,0 529.7,277.5A2.30,1.47 101 1,0 528.8,282.0M531.0,281.7A2.30,1.47 101 1,0 531.9,277.1A2.30,1.47 101 1,0 531.0,281.7M533.2,281.3A2.30,1.47 101 1,0 534.1,276.8A2.30,1.47 101 1,0 533.2,281.3M535.5,280.9A2.30,1.47 101 1,0 536.3,276.4A2.30,1.47 101 1,0 535.5,280.9" fill="#44d444" stroke="#2f942f" stroke-width="0.4"/><path d="M522.1,281.5A1.01,0.55 101 1,0 522.5,279.5A1.01,0.55 101 1,0 522.1,281.5M524.3,281.2A1.01,0.55 101 1,0 524.7,279.2A1.01,0.55 101 1,0 524.3,281.2M526.5,280.8A1.01,0.55 101 1,0 526.9,278.8A1.01,0.55 101 1,0 526.5,280.8M528.8,280.4A1.01,0.55 101 1,0 529.1,278.5A1.01,0.55 101 1,0 528.8,280.4M531.0,280.1A1.01,0.55 101 1,0 531.4,278.1A1.01,0.55 101 1,0 531.0,280.1M533.2,279.7A1.01,0.55 101 1,0 533.6,277.7A1.01,0.55 101 1,0 533.2,279.7M535.4,279.4A1.01,0.55 101 1,0 535.8,277.4A1.01,0.55 101 1,0 535.4,279.4" fill="#98e798"/><path d="M523.8,289.9A2.10,1.34 99 1,0 524.5,285.7A2.10,1.34 99 1,0 523.8,289.9M526.1,289.4A2.10,1.34 99 1,0 526.8,285.3A2.10,1.34 99 1,0 526.1,289.4M528.4,289.0A2.10,1.34 99 1,0 529.1,284.9A2.10,1.34 99 1,0 528.4,289.0M530.7,288.6A2.10,1.34 99 1,0 531.3,284.4A2.10,1.34 99 1,0 530.7,288.6M532.9,288.1A2.10,1.34 99 1,0 533.6,284.0A2.10,1.34 99 1,0 532.9,288.1M535.2,287.7A2.10,1.34 99 1,0 535.9,283.6A2.10,1.34 99 1,0 535.2,287.7M537.5,287.3A2.10,1.34 99 1,0 538.2,283.1A2.10,1.34 99 1,0 537.5,287.3" fill="#3cc83c" stroke="#2a8c2a" stroke-width="0.4"/><path d="M523.7,288.4A0.92,0.50 99 1,0 524.0,286.6A0.92,0.50 99 1,0 523.7,288.4M526.0,288.0A0.92,0.50 99 1,0 526.3,286.1A0.92,0.50 99 1,0 526.0,288.0M528.3,287.5A0.92,0.50 99 1,0 528.6,285.7A0.92,0.50 99 1,0 528.3,287.5M530.5,287.1A0.92,0.50 99 1,0 530.9,285.3A0.92,0.50 99 1,0 530.5,287.1M532.8,286.7A0.92,0.50 99 1,0 533.1,284.9A0.92,0.50 99 1,0 532.8,286.7M535.1,286.3A0.92,0.50 99 1,0 535.4,284.4A0.92,0.50 99 1,0 535.1,286.3M537.4,285.8A0.92,0.50 99 1,0 537.7,284.0A0.92,0.50 99 1,0 537.4,285.8" fill="#93e093"/><path d="M549.6,293.9 C550.1,295.3 550.5,297.2 549.7,298.6 C548.9,300.0 546.9,301.5 545.0,302.3 C543.1,303.2 540.3,304.1 538.5,303.9 C536.7,303.6 535.2,301.8 534.0,300.7 C532.8,299.6 531.7,298.4 531.4,297.1 C531.2,295.8 531.8,294.1 532.7,292.9 C533.5,291.6 534.9,290.5 536.6,289.5 C538.2,288.6 540.7,287.3 542.4,287.4 C544.2,287.5 545.7,289.3 546.9,290.4 C548.1,291.5 549.2,292.5 549.6,293.9Z" fill="#9a30d8" opacity="0.70"/><path d="M539.6,292.0a0.9,0.9 0 1,0 1.7,0a0.9,0.9 0 1,0 -1.7,0M543.4,295.7a0.8,0.8 0 1,0 1.7,0a0.8,0.8 0 1,0 -1.7,0M538.1,299.3a0.7,0.7 0 1,0 1.4,0a0.7,0.7 0 1,0 -1.4,0M533.2,296.3a1.5,1.5 0 1,0 3.0,0a1.5,1.5 0 1,0 -3.0,0M539.1,293.2a1.4,1.4 0 1,0 2.8,0a1.4,1.4 0 1,0 -2.8,0M534.6,300.2a1.5,1.5 0 1,0 3.0,0a1.5,1.5 0 1,0 -3.0,0M539.9,303.1a1.3,1.3 0 1,0 2.5,0a1.3,1.3 0 1,0 -2.5,0" fill="none" stroke="#c080ff" stroke-width="0.7"/><path d="M535.7,290.6a0.8,0.8 0 1,0 1.7,0a0.8,0.8 0 1,0 -1.7,0M547.4,293.7a1.4,1.4 0 1,0 2.8,0a1.4,1.4 0 1,0 -2.8,0M535.1,293.9a1.1,1.1 0 1,0 2.1,0a1.1,1.1 0 1,0 -2.1,0M538.5,297.6a1.1,1.1 0 1,0 2.2,0a1.1,1.1 0 1,0 -2.2,0M543.5,301.9a1.3,1.3 0 1,0 2.6,0a1.3,1.3 0 1,0 -2.6,0M542.0,296.4a1.1,1.1 0 1,0 2.2,0a1.1,1.1 0 1,0 -2.2,0M537.9,296.9a1.1,1.1 0 1,0 2.2,0a1.1,1.1 0 1,0 -2.2,0M537.2,294.7a1.1,1.1 0 1,0 2.2,0a1.1,1.1 0 1,0 -2.2,0M545.4,293.8a0.8,0.8 0 1,0 1.7,0a0.8,0.8 0 1,0 -1.7,0M541.3,294.4a1.1,1.1 0 1,0 2.3,0a1.1,1.1 0 1,0 -2.3,0" fill="none" stroke="#9020d0" stroke-width="0.7"/><path d="M534.1,296.3a1.3,1.3 0 1,0 2.5,0a1.3,1.3 0 1,0 -2.5,0M538.4,296.8a0.7,0.7 0 1,0 1.5,0a0.7,0.7 0 1,0 -1.5,0M536.4,301.1a1.5,1.5 0 1,0 3.0,0a1.5,1.5 0 1,0 -3.0,0M535.3,297.9a0.7,0.7 0 1,0 1.4,0a0.7,0.7 0 1,0 -1.4,0M533.3,294.3a0.7,0.7 0 1,0 1.4,0a0.7,0.7 0 1,0 -1.4,0M542.1,295.7a1.1,1.1 0 1,0 2.2,0a1.1,1.1 0 1,0 -2.2,0M535.6,294.1a1.4,1.4 0 1,0 2.8,0a1.4,1.4 0 1,0 -2.8,0M542.4,298.3a1.1,1.1 0 1,0 2.2,0a1.1,1.1 0 1,0 -2.2,0M536.3,296.1a1.2,1.2 0 1,0 2.4,0a1.2,1.2 0 1,0 -2.4,0M539.2,294.1a1.0,1.0 0 1,0 2.0,0a1.0,1.0 0 1,0 -2.0,0M545.7,295.1a0.9,0.9 0 1,0 1.9,0a0.9,0.9 0 1,0 -1.9,0M537.0,301.8a1.1,1.1 0 1,0 2.3,0a1.1,1.1 0 1,0 -2.3,0" fill="none" stroke="#7010b0" stroke-width="0.7"/><path d="M542.8,298.3a0.8,0.8 0 1,0 1.6,0a0.8,0.8 0 1,0 -1.6,0M541.7,294.5a0.8,0.8 0 1,0 1.7,0a0.8,0.8 0 1,0 -1.7,0M539.1,295.7a1.1,1.1 0 1,0 2.3,0a1.1,1.1 0 1,0 -2.3,0M532.6,300.1a1.2,1.2 0 1,0 2.4,0a1.2,1.2 0 1,0 -2.4,0M536.4,296.5a1.1,1.1 0 1,0 2.2,0a1.1,1.1 0 1,0 -2.2,0M539.0,291.5a1.2,1.2 0 1,0 2.5,0a1.2,1.2 0 1,0 -2.5,0M537.2,297.6a0.8,0.8 0 1,0 1.6,0a0.8,0.8 0 1,0 -1.6,0M548.1,296.4a1.2,1.2 0 1,0 2.4,0a1.2,1.2 0 1,0 -2.4,0M540.6,291.9a1.4,1.4 0 1,0 2.8,0a1.4,1.4 0 1,0 -2.8,0" fill="none" stroke="#b050f0" stroke-width="0.7"/><path d="M540.7,290.2l1.6,2.2M537.3,291.8l2.3,1.4M545.8,299.0l-1.0,2.9M542.9,293.2l2.0,0.6M536.5,297.2l-1.9,2.3M549.1,298.8l-2.2,1.9M536.3,295.5l-0.7,2.8M545.4,298.4l0.9,3.2M546.7,298.6l-2.1,1.4M546.8,297.9l1.6,1.9" fill="none" stroke="#9020d0" stroke-width="0.9" stroke-linecap="round"/><path d="M534.5,291.2l2.0,1.1M540.9,291.2l-0.9,1.9M543.7,301.8l-3.3,0.5M541.9,288.5l-2.0,2.5M536.7,294.9l-3.1,1.6M547.9,292.0l-2.9,0.1M534.3,295.9l-0.0,2.4M540.0,289.1l1.2,1.0M549.5,297.6l-2.3,1.5M537.5,294.0l2.3,1.2M536.9,292.5l1.6,2.0M539.1,301.7l1.0,1.2" fill="none" stroke="#c080ff" stroke-width="0.9" stroke-linecap="round"/><path d="M544.7,301.3l-0.6,1.6M546.9,293.9l0.4,2.0M538.6,300.7l0.8,1.6M543.9,299.9l3.4,0.2M540.9,290.8l-0.7,3.2M547.6,293.4l2.1,2.7M533.4,297.9l-1.2,1.0M545.6,299.0l0.2,1.7M539.6,292.0l1.3,1.1M546.1,294.3l-0.8,2.6M543.0,286.7l-0.5,2.2" fill="none" stroke="#7010b0" stroke-width="0.9" stroke-linecap="round"/><path d="M546.6,298.7l-0.7,2.1M545.8,296.5l0.1,2.8M534.2,292.0l1.9,0.2M538.8,299.1l2.3,2.2M539.9,294.4l-3.2,1.3M542.7,293.0l2.1,2.4M536.2,300.3l0.2,1.6M546.1,294.4l2.7,0.3M533.9,293.5l0.7,1.9M549.8,294.3l-2.3,0.7" fill="none" stroke="#b050f0" stroke-width="0.9" stroke-linecap="round"/><path d="M532.7,295.8A2.50,1.60 102 1,0 533.7,290.9A2.50,1.60 102 1,0 532.7,295.8M535.1,295.4A2.50,1.60 102 1,0 536.1,290.5A2.50,1.60 102 1,0 535.1,295.4M537.6,295.1A2.50,1.60 102 1,0 538.6,290.2A2.50,1.60 102 1,0 537.6,295.1M540.0,294.7A2.50,1.60 102 1,0 541.0,289.8A2.50,1.60 102 1,0 540.0,294.7M542.4,294.3A2.50,1.60 102 1,0 543.4,289.4A2.50,1.60 102 1,0 542.4,294.3M544.9,294.0A2.50,1.60 102 1,0 545.9,289.1A2.50,1.60 102 1,0 544.9,294.0M547.3,293.6A2.50,1.60 102 1,0 548.3,288.7A2.50,1.60 102 1,0 547.3,293.6" fill="#9a2ad8" stroke="#6b1d97" stroke-width="0.4"/><path d="M532.7,294.1A1.10,0.60 102 1,0 533.1,291.9A1.10,0.60 102 1,0 532.7,294.1M535.1,293.7A1.10,0.60 102 1,0 535.6,291.6A1.10,0.60 102 1,0 535.1,293.7M537.5,293.4A1.10,0.60 102 1,0 538.0,291.2A1.10,0.60 102 1,0 537.5,293.4M540.0,293.0A1.10,0.60 102 1,0 540.4,290.9A1.10,0.60 102 1,0 540.0,293.0M542.4,292.7A1.10,0.60 102 1,0 542.9,290.5A1.10,0.60 102 1,0 542.4,292.7M544.8,292.3A1.10,0.60 102 1,0 545.3,290.2A1.10,0.60 102 1,0 544.8,292.3M547.3,292.0A1.10,0.60 102 1,0 547.7,289.8A1.10,0.60 102 1,0 547.3,292.0" fill="#c789e9"/><path d="M536.7,301.3A2.00,1.28 104 1,0 537.6,297.4A2.00,1.28 104 1,0 536.7,301.3M538.9,301.1A2.00,1.28 104 1,0 539.8,297.2A2.00,1.28 104 1,0 538.9,301.1M541.2,300.8A2.00,1.28 104 1,0 542.1,296.9A2.00,1.28 104 1,0 541.2,300.8M543.4,300.6A2.00,1.28 104 1,0 544.3,296.7A2.00,1.28 104 1,0 543.4,300.6M545.7,300.3A2.00,1.28 104 1,0 546.6,296.4A2.00,1.28 104 1,0 545.7,300.3M547.9,300.1A2.00,1.28 104 1,0 548.8,296.2A2.00,1.28 104 1,0 547.9,300.1" fill="#a83ae4" stroke="#75289f" stroke-width="0.4"/><path d="M536.6,299.9A0.88,0.48 104 1,0 537.0,298.2A0.88,0.48 104 1,0 536.6,299.9M538.9,299.7A0.88,0.48 104 1,0 539.3,298.0A0.88,0.48 104 1,0 538.9,299.7M541.1,299.4A0.88,0.48 104 1,0 541.5,297.7A0.88,0.48 104 1,0 541.1,299.4M543.4,299.2A0.88,0.48 104 1,0 543.8,297.5A0.88,0.48 104 1,0 543.4,299.2M545.6,298.9A0.88,0.48 104 1,0 546.0,297.2A0.88,0.48 104 1,0 545.6,298.9M547.9,298.7A0.88,0.48 104 1,0 548.3,297.0A0.88,0.48 104 1,0 547.9,298.7" fill="#cf92f0"/><path d="M530.6,307.5 C530.6,309.1 531.1,310.9 530.4,312.2 C529.6,313.4 527.7,314.4 526.1,315.0 C524.5,315.5 522.1,316.1 520.7,315.6 C519.3,315.0 518.2,313.0 517.5,311.6 C516.7,310.3 516.2,309.0 516.1,307.5 C515.9,306.0 515.8,304.0 516.6,302.8 C517.4,301.5 519.4,300.4 520.9,300.0 C522.5,299.7 524.3,300.3 525.8,300.8 C527.4,301.3 529.5,301.7 530.3,302.8 C531.1,304.0 530.6,305.9 530.6,307.5Z" fill="#38b4d4" opacity="0.70"/><path d="M527.3,309.0a1.3,1.3 0 1,0 2.6,0a1.3,1.3 0 1,0 -2.6,0M526.7,303.0a0.8,0.8 0 1,0 1.6,0a0.8,0.8 0 1,0 -1.6,0M515.0,305.9a1.4,1.4 0 1,0 2.8,0a1.4,1.4 0 1,0 -2.8,0M526.2,307.8a1.1,1.1 0 1,0 2.1,0a1.1,1.1 0 1,0 -2.1,0M521.2,306.1a1.0,1.0 0 1,0 2.0,0a1.0,1.0 0 1,0 -2.0,0M527.9,312.0a1.2,1.2 0 1,0 2.5,0a1.2,1.2 0 1,0 -2.5,0M518.4,313.0a1.4,1.4 0 1,0 2.8,0a1.4,1.4 0 1,0 -2.8,0M524.7,308.0a1.3,1.3 0 1,0 2.6,0a1.3,1.3 0 1,0 -2.6,0" fill="none" stroke="#2090b0" stroke-width="0.7"/><path d="M519.5,305.2a0.9,0.9 0 1,0 1.8,0a0.9,0.9 0 1,0 -1.8,0M525.6,308.0a1.3,1.3 0 1,0 2.6,0a1.3,1.3 0 1,0 -2.6,0M527.5,306.8a1.5,1.5 0 1,0 3.0,0a1.5,1.5 0 1,0 -3.0,0M517.6,310.1a0.8,0.8 0 1,0 1.5,0a0.8,0.8 0 1,0 -1.5,0M524.1,309.3a0.9,0.9 0 1,0 1.9,0a0.9,0.9 0 1,0 -1.9,0M516.4,308.6a1.1,1.1 0 1,0 2.2,0a1.1,1.1 0 1,0 -2.2,0M521.1,312.8a1.2,1.2 0 1,0 2.5,0a1.2,1.2 0 1,0 -2.5,0M520.2,312.9a1.1,1.1 0 1,0 2.3,0a1.1,1.1 0 1,0 -2.3,0" fill="none" stroke="#50d0f0" stroke-width="0.7"/><path d="M516.2,303.7a1.2,1.2 0 1,0 2.3,0a1.2,1.2 0 1,0 -2.3,0M522.4,308.4a1.0,1.0 0 1,0 1.9,0a1.0,1.0 0 1,0 -1.9,0M525.8,306.7a1.3,1.3 0 1,0 2.7,0a1.3,1.3 0 1,0 -2.7,0M521.6,307.4a0.9,0.9 0 1,0 1.7,0a0.9,0.9 0 1,0 -1.7,0M523.9,303.9a1.1,1.1 0 1,0 2.3,0a1.1,1.1 0 1,0 -2.3,0M521.8,302.8a0.8,0.8 0 1,0 1.5,0a0.8,0.8 0 1,0 -1.5,0M520.6,313.2a1.2,1.2 0 1,0 2.5,0a1.2,1.2 0 1,0 -2.5,0M515.2,303.5a1.3,1.3 0 1,0 2.5,0a1.3,1.3 0 1,0 -2.5,0" fill="none" stroke="#80e0ff" stroke-width="0.7"/><path d="M525.9,305.5a1.2,1.2 0 1,0 2.3,0a1.2,1.2 0 1,0 -2.3,0M519.1,311.0a0.9,0.9 0 1,0 1.8,0a0.9,0.9 0 1,0 -1.8,0M519.2,306.4a1.2,1.2 0 1,0 2.4,0a1.2,1.2 0 1,0 -2.4,0M518.9,308.4a1.4,1.4 0 1,0 2.7,0a1.4,1.4 0 1,0 -2.7,0M518.4,309.5a1.2,1.2 0 1,0 2.3,0a1.2,1.2 0 1,0 -2.3,0M520.3,301.8a1.4,1.4 0 1,0 2.8,0a1.4,1.4 0 1,0 -2.8,0M524.0,305.1a1.1,1.1 0 1,0 2.3,0a1.1,1.1 0 1,0 -2.3,0M523.1,311.4a1.2,1.2 0 1,0 2.3,0a1.2,1.2 0 1,0 -2.3,0M528.0,308.7a1.0,1.0 0 1,0 1.9,0a1.0,1.0 0 1,0 -1.9,0M518.7,303.7a1.1,1.1 0 1,0 2.3,0a1.1,1.1 0 1,0 -2.3,0M524.4,310.8a0.7,0.7 0 1,0 1.4,0a0.7,0.7 0 1,0 -1.4,0M525.8,301.9a1.5,1.5 0 1,0 3.0,0a1.5,1.5 0 1,0 -3.0,0" fill="none" stroke="#30b0d0" stroke-width="0.7"/><path d="M518.3,301.4l2.5,0.4M529.7,308.9l-0.0,2.7M527.1,305.3l0.9,1.4M523.5,303.6l-1.9,1.7M521.6,306.6l3.2,1.2M521.8,311.1l-1.5,2.3M521.2,299.6l0.9,1.9M520.5,302.9l-1.2,1.7" fill="none" stroke="#50d0f0" stroke-width="0.9" stroke-linecap="round"/><path d="M524.6,307.4l-1.8,1.4M526.2,312.1l0.2,1.7M518.9,303.1l-1.1,2.3M521.7,310.1l0.5,2.7M528.7,304.0l-1.7,0.0M524.9,314.7l-3.3,0.7M526.3,307.0l-1.8,0.5M526.2,302.5l0.3,3.1M528.9,311.3l-2.3,0.7M528.0,311.9l-0.2,1.6" fill="none" stroke="#30b0d0" stroke-width="0.9" stroke-linecap="round"/><path d="M519.2,304.6l2.5,2.3M519.5,307.7l0.8,1.5M524.3,310.2l1.1,1.9M525.4,312.9l0.3,2.0M531.2,302.2l-1.9,1.2M521.4,308.8l-0.2,2.2" fill="none" stroke="#80e0ff" stroke-width="0.9" stroke-linecap="round"/><path d="M529.2,313.2l-2.8,0.6M523.3,300.3l-1.3,2.0M518.9,301.6l-0.4,3.2M523.1,309.7l2.5,0.8M525.2,299.8l-1.3,2.1" fill="none" stroke="#2090b0" stroke-width="0.9" stroke-linecap="round"/><path d="M516.4,303.9A2.00,1.28 127 1,0 518.8,300.7A2.00,1.28 127 1,0 516.4,303.9M518.7,304.6A2.00,1.28 127 1,0 521.1,301.4A2.00,1.28 127 1,0 518.7,304.6M520.9,305.3A2.00,1.28 127 1,0 523.3,302.1A2.00,1.28 127 1,0 520.9,305.3M523.2,305.9A2.00,1.28 127 1,0 525.6,302.7A2.00,1.28 127 1,0 523.2,305.9M525.4,306.6A2.00,1.28 127 1,0 527.8,303.4A2.00,1.28 127 1,0 525.4,306.6M527.7,307.3A2.00,1.28 127 1,0 530.1,304.1A2.00,1.28 127 1,0 527.7,307.3" fill="#34b8d8" stroke="#248097" stroke-width="0.4"/><path d="M516.8,302.7A0.88,0.48 127 1,0 517.8,301.3A0.88,0.48 127 1,0 516.8,302.7M519.1,303.4A0.88,0.48 127 1,0 520.1,302.0A0.88,0.48 127 1,0 519.1,303.4M521.3,304.1A0.88,0.48 127 1,0 522.3,302.7A0.88,0.48 127 1,0 521.3,304.1M523.6,304.7A0.88,0.48 127 1,0 524.6,303.3A0.88,0.48 127 1,0 523.6,304.7M525.8,305.4A0.88,0.48 127 1,0 526.8,304.0A0.88,0.48 127 1,0 525.8,305.4M528.1,306.1A0.88,0.48 127 1,0 529.1,304.7A0.88,0.48 127 1,0 528.1,306.1" fill="#8fd7e9"/><path d="M518.1,311.8A1.80,1.15 123 1,0 520.1,308.7A1.80,1.15 123 1,0 518.1,311.8M520.3,312.3A1.80,1.15 123 1,0 522.2,309.2A1.80,1.15 123 1,0 520.3,312.3M522.4,312.8A1.80,1.15 123 1,0 524.4,309.7A1.80,1.15 123 1,0 522.4,312.8M524.6,313.3A1.80,1.15 123 1,0 526.6,310.2A1.80,1.15 123 1,0 524.6,313.3M526.8,313.8A1.80,1.15 123 1,0 528.7,310.7A1.80,1.15 123 1,0 526.8,313.8M528.9,314.3A1.80,1.15 123 1,0 530.9,311.2A1.80,1.15 123 1,0 528.9,314.3" fill="#40c0e0" stroke="#2c869c" stroke-width="0.4"/><path d="M518.4,310.6A0.79,0.43 123 1,0 519.2,309.3A0.79,0.43 123 1,0 518.4,310.6M520.5,311.1A0.79,0.43 123 1,0 521.4,309.8A0.79,0.43 123 1,0 520.5,311.1M522.7,311.6A0.79,0.43 123 1,0 523.5,310.3A0.79,0.43 123 1,0 522.7,311.6M524.9,312.1A0.79,0.43 123 1,0 525.7,310.8A0.79,0.43 123 1,0 524.9,312.1M527.0,312.6A0.79,0.43 123 1,0 527.9,311.3A0.79,0.43 123 1,0 527.0,312.6M529.2,313.1A0.79,0.43 123 1,0 530.0,311.8A0.79,0.43 123 1,0 529.2,313.1" fill="#95dced"/><path d="M556.7,315.0 C556.2,317.2 552.9,318.7 551.3,320.5 C549.7,322.4 548.9,325.6 547.0,326.2 C545.0,326.8 542.2,325.0 539.7,324.4 C537.2,323.8 533.0,324.0 531.9,322.4 C530.7,320.8 532.7,317.4 532.7,315.0 C532.8,312.6 531.1,309.6 532.2,307.8 C533.2,306.0 536.6,304.7 539.1,304.0 C541.6,303.2 544.6,302.8 547.1,303.4 C549.6,304.0 552.6,305.6 554.2,307.6 C555.8,309.5 557.2,312.8 556.7,315.0Z" fill="#3a48d8" opacity="0.50"/><path d="M544.5,310.1a1.0,1.0 0 1,0 1.9,0a1.0,1.0 0 1,0 -1.9,0M543.3,312.9a1.3,1.3 0 1,0 2.7,0a1.3,1.3 0 1,0 -2.7,0M538.7,306.1a0.7,0.7 0 1,0 1.4,0a0.7,0.7 0 1,0 -1.4,0M554.1,310.6a1.1,1.1 0 1,0 2.3,0a1.1,1.1 0 1,0 -2.3,0M537.2,317.0a1.0,1.0 0 1,0 2.1,0a1.0,1.0 0 1,0 -2.1,0M537.4,323.4a0.8,0.8 0 1,0 1.5,0a0.8,0.8 0 1,0 -1.5,0M550.1,314.9a1.2,1.2 0 1,0 2.4,0a1.2,1.2 0 1,0 -2.4,0M540.7,313.0a1.1,1.1 0 1,0 2.2,0a1.1,1.1 0 1,0 -2.2,0M542.1,317.7a1.0,1.0 0 1,0 1.9,0a1.0,1.0 0 1,0 -1.9,0M538.4,322.3a1.1,1.1 0 1,0 2.2,0a1.1,1.1 0 1,0 -2.2,0M551.6,309.0a1.4,1.4 0 1,0 2.8,0a1.4,1.4 0 1,0 -2.8,0" fill="none" stroke="#40a0e0" stroke-width="0.7"/><path d="M532.0,316.0a1.4,1.4 0 1,0 2.8,0a1.4,1.4 0 1,0 -2.8,0M549.4,316.8a0.8,0.8 0 1,0 1.6,0a0.8,0.8 0 1,0 -1.6,0M548.1,317.1a1.5,1.5 0 1,0 3.0,0a1.5,1.5 0 1,0 -3.0,0M551.9,316.0a1.3,1.3 0 1,0 2.5,0a1.3,1.3 0 1,0 -2.5,0M539.7,305.3a0.8,0.8 0 1,0 1.6,0a0.8,0.8 0 1,0 -1.6,0M551.1,312.7a1.2,1.2 0 1,0 2.4,0a1.2,1.2 0 1,0 -2.4,0M541.9,307.1a0.9,0.9 0 1,0 1.8,0a0.9,0.9 0 1,0 -1.8,0M543.2,316.4a1.1,1.1 0 1,0 2.2,0a1.1,1.1 0 1,0 -2.2,0M551.1,307.4a1.5,1.5 0 1,0 2.9,0a1.5,1.5 0 1,0 -2.9,0M549.0,309.8a1.1,1.1 0 1,0 2.2,0a1.1,1.1 0 1,0 -2.2,0M533.3,306.8a1.4,1.4 0 1,0 2.8,0a1.4,1.4 0 1,0 -2.8,0M547.8,311.3a1.2,1.2 0 1,0 2.5,0a1.2,1.2 0 1,0 -2.5,0M544.5,312.5a1.0,1.0 0 1,0 2.0,0a1.0,1.0 0 1,0 -2.0,0M541.8,310.2a1.3,1.3 0 1,0 2.6,0a1.3,1.3 0 1,0 -2.6,0M539.5,319.4a0.9,0.9 0 1,0 1.7,0a0.9,0.9 0 1,0 -1.7,0M544.9,324.9a1.2,1.2 0 1,0 2.5,0a1.2,1.2 0 1,0 -2.5,0M540.1,323.0a1.4,1.4 0 1,0 2.7,0a1.4,1.4 0 1,0 -2.7,0M550.8,306.6a1.1,1.1 0 1,0 2.2,0a1.1,1.1 0 1,0 -2.2,0M548.4,314.9a1.1,1.1 0 1,0 2.3,0a1.1,1.1 0 1,0 -2.3,0" fill="none" stroke="#5060f0" stroke-width="0.7"/><path d="M535.2,320.6a1.3,1.3 0 1,0 2.6,0a1.3,1.3 0 1,0 -2.6,0M534.1,317.4a1.1,1.1 0 1,0 2.3,0a1.1,1.1 0 1,0 -2.3,0M544.5,311.2a1.0,1.0 0 1,0 2.1,0a1.0,1.0 0 1,0 -2.1,0M545.0,320.7a1.1,1.1 0 1,0 2.2,0a1.1,1.1 0 1,0 -2.2,0M535.7,310.2a0.9,0.9 0 1,0 1.8,0a0.9,0.9 0 1,0 -1.8,0M549.7,314.7a1.4,1.4 0 1,0 2.8,0a1.4,1.4 0 1,0 -2.8,0M542.9,320.2a0.8,0.8 0 1,0 1.6,0a0.8,0.8 0 1,0 -1.6,0M546.3,318.1a0.7,0.7 0 1,0 1.4,0a0.7,0.7 0 1,0 -1.4,0M537.7,321.2a1.3,1.3 0 1,0 2.7,0a1.3,1.3 0 1,0 -2.7,0M543.2,317.4a1.3,1.3 0 1,0 2.5,0a1.3,1.3 0 1,0 -2.5,0M537.2,313.9a1.3,1.3 0 1,0 2.6,0a1.3,1.3 0 1,0 -2.6,0M540.6,314.3a1.1,1.1 0 1,0 2.2,0a1.1,1.1 0 1,0 -2.2,0" fill="none" stroke="#2030c0" stroke-width="0.7"/><path d="M547.6,320.5a1.1,1.1 0 1,0 2.2,0a1.1,1.1 0 1,0 -2.2,0M549.4,318.8a0.8,0.8 0 1,0 1.5,0a0.8,0.8 0 1,0 -1.5,0M552.4,316.5a1.0,1.0 0 1,0 1.9,0a1.0,1.0 0 1,0 -1.9,0M553.7,313.4a1.2,1.2 0 1,0 2.5,0a1.2,1.2 0 1,0 -2.5,0M549.7,308.9a1.3,1.3 0 1,0 2.7,0a1.3,1.3 0 1,0 -2.7,0M533.8,313.8a1.0,1.0 0 1,0 1.9,0a1.0,1.0 0 1,0 -1.9,0M543.3,308.3a0.9,0.9 0 1,0 1.8,0a0.9,0.9 0 1,0 -1.8,0M545.1,323.6a1.1,1.1 0 1,0 2.2,0a1.1,1.1 0 1,0 -2.2,0M535.0,310.4a1.2,1.2 0 1,0 2.4,0a1.2,1.2 0 1,0 -2.4,0M542.9,314.9a1.5,1.5 0 1,0 3.0,0a1.5,1.5 0 1,0 -3.0,0M550.4,308.6a1.0,1.0 0 1,0 2.0,0a1.0,1.0 0 1,0 -2.0,0" fill="none" stroke="#c03020" stroke-width="0.7"/><path d="M545.7,304.7a0.9,0.9 0 1,0 1.8,0a0.9,0.9 0 1,0 -1.8,0M535.3,317.2a1.4,1.4 0 1,0 2.8,0a1.4,1.4 0 1,0 -2.8,0M552.1,313.6a0.8,0.8 0 1,0 1.5,0a0.8,0.8 0 1,0 -1.5,0M534.1,322.2a1.3,1.3 0 1,0 2.6,0a1.3,1.3 0 1,0 -2.6,0M542.3,324.9a1.1,1.1 0 1,0 2.2,0a1.1,1.1 0 1,0 -2.2,0M534.8,310.1a1.1,1.1 0 1,0 2.3,0a1.1,1.1 0 1,0 -2.3,0M545.7,304.0a1.3,1.3 0 1,0 2.6,0a1.3,1.3 0 1,0 -2.6,0M536.4,321.3a1.0,1.0 0 1,0 1.9,0a1.0,1.0 0 1,0 -1.9,0M550.0,317.8a1.1,1.1 0 1,0 2.1,0a1.1,1.1 0 1,0 -2.1,0M535.7,318.9a0.8,0.8 0 1,0 1.7,0a0.8,0.8 0 1,0 -1.7,0M548.3,308.3a0.9,0.9 0 1,0 1.9,0a0.9,0.9 0 1,0 -1.9,0M548.9,318.5a0.9,0.9 0 1,0 1.8,0a0.9,0.9 0 1,0 -1.8,0M533.0,310.8a0.8,0.8 0 1,0 1.6,0a0.8,0.8 0 1,0 -1.6,0" fill="none" stroke="#3040e0" stroke-width="0.7"/><path d="M536.0,310.5a1.0,1.0 0 1,0 2.0,0a1.0,1.0 0 1,0 -2.0,0M538.0,316.9a1.4,1.4 0 1,0 2.8,0a1.4,1.4 0 1,0 -2.8,0M548.7,311.7a1.4,1.4 0 1,0 2.9,0a1.4,1.4 0 1,0 -2.9,0M531.9,319.8a1.4,1.4 0 1,0 2.8,0a1.4,1.4 0 1,0 -2.8,0M535.8,306.2a1.2,1.2 0 1,0 2.4,0a1.2,1.2 0 1,0 -2.4,0M537.4,308.4a1.2,1.2 0 1,0 2.4,0a1.2,1.2 0 1,0 -2.4,0M538.8,312.6a1.3,1.3 0 1,0 2.6,0a1.3,1.3 0 1,0 -2.6,0M543.4,316.3a1.2,1.2 0 1,0 2.5,0a1.2,1.2 0 1,0 -2.5,0M546.2,314.4a1.3,1.3 0 1,0 2.5,0a1.3,1.3 0 1,0 -2.5,0M546.4,311.6a1.3,1.3 0 1,0 2.6,0a1.3,1.3 0 1,0 -2.6,0M536.8,314.1a1.1,1.1 0 1,0 2.1,0a1.1,1.1 0 1,0 -2.1,0M541.7,320.6a1.3,1.3 0 1,0 2.7,0a1.3,1.3 0 1,0 -2.7,0M546.2,311.4a0.9,0.9 0 1,0 1.8,0a0.9,0.9 0 1,0 -1.8,0M550.4,315.8a1.3,1.3 0 1,0 2.6,0a1.3,1.3 0 1,0 -2.6,0M550.0,318.2a0.8,0.8 0 1,0 1.6,0a0.8,0.8 0 1,0 -1.6,0" fill="none" stroke="#ffffff" stroke-width="0.7"/><path d="M553.3,306.5l1.6,2.8M552.6,317.9l-0.2,2.7M546.2,323.0l-2.0,1.5M540.1,319.7l-3.2,0.1M537.2,310.9l0.9,2.9M541.2,322.0l-0.9,1.8M535.2,318.4l-1.2,1.7M537.8,313.2l1.5,1.3M532.5,315.8l3.2,0.4M533.0,310.6l1.4,3.0M542.1,321.3l-1.8,0.9" fill="none" stroke="#3040e0" stroke-width="0.9" stroke-linecap="round"/><path d="M556.6,315.1l-1.7,1.3M538.5,307.3l2.1,0.2M540.2,320.2l1.4,2.3M534.0,306.2l-0.7,2.2M537.9,316.1l-1.3,1.1M542.1,320.6l-3.3,1.0M544.6,309.8l3.0,1.0M552.1,310.1l1.5,0.6M542.5,323.8l-0.7,1.5M552.1,305.0l-1.4,2.1M548.7,311.5l-1.2,2.5M547.1,309.3l-2.4,2.1M541.0,321.8l-0.5,2.2" fill="none" stroke="#40a0e0" stroke-width="0.9" stroke-linecap="round"/><path d="M552.8,310.4l2.5,1.2M545.0,319.9l2.6,1.8M537.3,317.7l-1.3,1.5M539.2,314.4l1.8,0.2M547.9,321.9l-2.1,1.7M536.2,305.1l1.8,2.2M534.6,315.9l3.2,0.7M544.0,309.5l-0.7,3.0M538.5,313.6l-0.8,2.7M535.3,310.2l1.4,1.5M540.7,309.8l-0.4,1.8M547.5,321.7l1.1,1.6" fill="none" stroke="#2030c0" stroke-width="0.9" stroke-linecap="round"/><path d="M540.7,304.8l1.6,1.5M539.0,308.9l2.6,0.7M538.6,317.5l-0.2,2.6M546.9,322.3l-2.6,2.3M538.1,315.4l3.1,1.1M550.3,318.8l-1.2,1.9M543.6,314.1l-1.3,1.7M539.6,323.2l1.1,1.1M540.3,310.3l-2.0,2.7M549.3,315.1l-1.0,2.7M540.3,312.2l-1.7,0.6M535.3,319.4l-1.4,1.0M540.8,313.8l-0.3,2.9M540.4,311.8l-1.1,1.1M535.8,317.2l2.0,1.7M536.4,320.3l-1.2,1.8M543.5,310.1l2.3,2.4M546.9,302.8l-2.0,1.4" fill="none" stroke="#5060f0" stroke-width="0.9" stroke-linecap="round"/><path d="M541.6,306.8l-0.7,2.0M545.7,315.8l2.0,0.1M536.4,306.7l0.5,1.4M542.0,323.0l1.2,2.6M540.4,305.0l-1.7,0.7M553.2,308.3l-2.4,1.1M533.1,320.1l0.3,2.4M533.4,315.8l3.3,0.0M539.0,307.2l1.6,0.4M538.2,313.7l-1.3,1.0M538.5,305.2l-1.2,1.9M537.7,304.4l3.4,0.2M535.4,317.6l-1.9,1.3M544.8,319.6l1.5,3.0" fill="none" stroke="#c03020" stroke-width="0.9" stroke-linecap="round"/><path d="M531.4,313.0l2.7,2.3M549.1,309.5l-0.1,3.0M540.6,312.5l1.4,2.9M539.7,319.9l2.0,0.8M545.2,313.7l0.9,3.1M551.6,315.2l2.8,1.1M542.5,304.6l-1.9,1.2M541.0,312.8l-1.7,0.9M545.5,306.7l-2.5,1.3M540.5,314.8l-3.2,0.2M555.0,310.0l-2.4,1.4M537.8,312.3l-2.8,1.6M543.4,303.6l-1.6,0.5M542.3,323.6l-1.4,0.8M547.6,309.8l2.3,1.4M552.0,317.6l1.7,2.4" fill="none" stroke="#ffffff" stroke-width="0.9" stroke-linecap="round"/><path d="M534.4,310.2A1.80,1.15 116 1,0 536.0,307.0A1.80,1.15 116 1,0 534.4,310.2M536.8,310.5A1.80,1.15 116 1,0 538.4,307.3A1.80,1.15 116 1,0 536.8,310.5M539.1,310.7A1.80,1.15 116 1,0 540.7,307.5A1.80,1.15 116 1,0 539.1,310.7M541.5,311.0A1.80,1.15 116 1,0 543.1,307.8A1.80,1.15 116 1,0 541.5,311.0M543.9,311.2A1.80,1.15 116 1,0 545.5,308.0A1.80,1.15 116 1,0 543.9,311.2M546.3,311.5A1.80,1.15 116 1,0 547.9,308.3A1.80,1.15 116 1,0 546.3,311.5M548.6,311.7A1.80,1.15 116 1,0 550.2,308.5A1.80,1.15 116 1,0 548.6,311.7M551.0,312.0A1.80,1.15 116 1,0 552.6,308.8A1.80,1.15 116 1,0 551.0,312.0" fill="#4060e0" stroke="#2c439c" stroke-width="0.4"/><path d="M534.5,309.0A0.79,0.43 116 1,0 535.2,307.6A0.79,0.43 116 1,0 534.5,309.0M536.9,309.3A0.79,0.43 116 1,0 537.6,307.9A0.79,0.43 116 1,0 536.9,309.3M539.3,309.5A0.79,0.43 116 1,0 540.0,308.1A0.79,0.43 116 1,0 539.3,309.5M541.7,309.8A0.79,0.43 116 1,0 542.4,308.4A0.79,0.43 116 1,0 541.7,309.8M544.0,310.0A0.79,0.43 116 1,0 544.7,308.6A0.79,0.43 116 1,0 544.0,310.0M546.4,310.3A0.79,0.43 116 1,0 547.1,308.9A0.79,0.43 116 1,0 546.4,310.3M548.8,310.5A0.79,0.43 116 1,0 549.5,309.1A0.79,0.43 116 1,0 548.8,310.5M551.2,310.8A0.79,0.43 116 1,0 551.9,309.4A0.79,0.43 116 1,0 551.2,310.8" fill="#95a7ed"/><path d="M536.0,318.8A1.80,1.15 128 1,0 538.2,315.9A1.80,1.15 128 1,0 536.0,318.8M538.1,319.5A1.80,1.15 128 1,0 540.3,316.7A1.80,1.15 128 1,0 538.1,319.5M540.2,320.2A1.80,1.15 128 1,0 542.5,317.4A1.80,1.15 128 1,0 540.2,320.2M542.4,320.9A1.80,1.15 128 1,0 544.6,318.1A1.80,1.15 128 1,0 542.4,320.9M544.5,321.6A1.80,1.15 128 1,0 546.8,318.8A1.80,1.15 128 1,0 544.5,321.6M546.7,322.3A1.80,1.15 128 1,0 548.9,319.5A1.80,1.15 128 1,0 546.7,322.3M548.8,323.1A1.80,1.15 128 1,0 551.0,320.2A1.80,1.15 128 1,0 548.8,323.1" fill="#3050d0" stroke="#213891" stroke-width="0.4"/><path d="M536.3,317.7A0.79,0.43 128 1,0 537.3,316.4A0.79,0.43 128 1,0 536.3,317.7M538.4,318.4A0.79,0.43 128 1,0 539.4,317.2A0.79,0.43 128 1,0 538.4,318.4M540.6,319.1A0.79,0.43 128 1,0 541.5,317.9A0.79,0.43 128 1,0 540.6,319.1M542.7,319.8A0.79,0.43 128 1,0 543.7,318.6A0.79,0.43 128 1,0 542.7,319.8M544.9,320.5A0.79,0.43 128 1,0 545.8,319.3A0.79,0.43 128 1,0 544.9,320.5M547.0,321.2A0.79,0.43 128 1,0 548.0,320.0A0.79,0.43 128 1,0 547.0,321.2M549.1,322.0A0.79,0.43 128 1,0 550.1,320.7A0.79,0.43 128 1,0 549.1,322.0" fill="#8d9ee5"/><path d="M545.0,311.0 C547.0,311.0 555.2,311.0 557.3,311.0" fill="none" stroke="#40c0e0" stroke-width="1.60" stroke-linecap="round" stroke-linejoin="round" opacity="1.00"/><path d="M546.0,318.0 C547.7,318.3 554.3,319.7 556.0,320.0" fill="none" stroke="#40b0e0" stroke-width="1.40" stroke-linecap="round" stroke-linejoin="round" opacity="1.00"/><path d="M527.1,332.2 C526.8,334.1 526.0,336.4 524.9,337.8 C523.8,339.2 522.1,340.2 520.6,340.5 C519.1,340.9 517.4,340.6 516.1,339.8 C514.9,339.0 513.8,337.3 513.2,335.6 C512.5,333.9 511.9,331.5 512.3,329.6 C512.6,327.8 514.2,326.1 515.4,324.7 C516.6,323.2 518.0,321.1 519.3,320.8 C520.7,320.6 522.1,322.4 523.4,323.4 C524.6,324.3 526.0,325.1 526.6,326.5 C527.2,328.0 527.4,330.4 527.1,332.2Z" fill="#b8c028" opacity="0.45"/><path d="M523.2,332.6a1.2,1.2 0 1,0 2.4,0a1.2,1.2 0 1,0 -2.4,0M517.1,324.2a1.1,1.1 0 1,0 2.3,0a1.1,1.1 0 1,0 -2.3,0M517.5,326.5a0.8,0.8 0 1,0 1.7,0a0.8,0.8 0 1,0 -1.7,0M524.1,334.0a1.2,1.2 0 1,0 2.4,0a1.2,1.2 0 1,0 -2.4,0M520.0,339.6a1.4,1.4 0 1,0 2.7,0a1.4,1.4 0 1,0 -2.7,0M513.5,335.7a0.9,0.9 0 1,0 1.7,0a0.9,0.9 0 1,0 -1.7,0M518.5,321.9a1.2,1.2 0 1,0 2.5,0a1.2,1.2 0 1,0 -2.5,0M519.7,326.0a1.1,1.1 0 1,0 2.2,0a1.1,1.1 0 1,0 -2.2,0M520.9,323.6a0.7,0.7 0 1,0 1.4,0a0.7,0.7 0 1,0 -1.4,0M517.6,327.9a1.5,1.5 0 1,0 3.0,0a1.5,1.5 0 1,0 -3.0,0M515.3,338.3a1.0,1.0 0 1,0 2.0,0a1.0,1.0 0 1,0 -2.0,0M519.3,333.3a1.1,1.1 0 1,0 2.2,0a1.1,1.1 0 1,0 -2.2,0M517.4,330.2a1.0,1.0 0 1,0 1.9,0a1.0,1.0 0 1,0 -1.9,0M512.9,328.3a0.8,0.8 0 1,0 1.6,0a0.8,0.8 0 1,0 -1.6,0M522.5,337.6a0.8,0.8 0 1,0 1.6,0a0.8,0.8 0 1,0 -1.6,0M512.7,333.5a0.9,0.9 0 1,0 1.8,0a0.9,0.9 0 1,0 -1.8,0" fill="none" stroke="#e0e060" stroke-width="0.7"/><path d="M517.6,339.2a1.0,1.0 0 1,0 1.9,0a1.0,1.0 0 1,0 -1.9,0M516.2,337.7a0.7,0.7 0 1,0 1.5,0a0.7,0.7 0 1,0 -1.5,0M520.9,332.6a1.4,1.4 0 1,0 2.8,0a1.4,1.4 0 1,0 -2.8,0M516.0,333.3a0.7,0.7 0 1,0 1.4,0a0.7,0.7 0 1,0 -1.4,0M521.0,333.3a0.9,0.9 0 1,0 1.7,0a0.9,0.9 0 1,0 -1.7,0M514.3,334.7a1.4,1.4 0 1,0 2.7,0a1.4,1.4 0 1,0 -2.7,0M520.5,329.1a1.4,1.4 0 1,0 2.9,0a1.4,1.4 0 1,0 -2.9,0M518.7,334.4a1.0,1.0 0 1,0 2.1,0a1.0,1.0 0 1,0 -2.1,0M513.0,328.5a0.8,0.8 0 1,0 1.6,0a0.8,0.8 0 1,0 -1.6,0M517.8,327.1a0.8,0.8 0 1,0 1.6,0a0.8,0.8 0 1,0 -1.6,0M520.7,333.4a1.5,1.5 0 1,0 3.0,0a1.5,1.5 0 1,0 -3.0,0" fill="none" stroke="#b0c030" stroke-width="0.7"/><path d="M521.2,334.3a1.2,1.2 0 1,0 2.3,0a1.2,1.2 0 1,0 -2.3,0M523.0,326.4a1.3,1.3 0 1,0 2.6,0a1.3,1.3 0 1,0 -2.6,0M519.4,337.8a0.8,0.8 0 1,0 1.5,0a0.8,0.8 0 1,0 -1.5,0M512.1,330.4a1.4,1.4 0 1,0 2.7,0a1.4,1.4 0 1,0 -2.7,0M516.4,326.2a1.1,1.1 0 1,0 2.2,0a1.1,1.1 0 1,0 -2.2,0M524.2,333.9a1.4,1.4 0 1,0 2.8,0a1.4,1.4 0 1,0 -2.8,0M524.2,326.9a1.3,1.3 0 1,0 2.6,0a1.3,1.3 0 1,0 -2.6,0M524.5,329.6a0.9,0.9 0 1,0 1.9,0a0.9,0.9 0 1,0 -1.9,0" fill="none" stroke="#d0c020" stroke-width="0.7"/><path d="M514.5,337.6a1.1,1.1 0 1,0 2.3,0a1.1,1.1 0 1,0 -2.3,0M516.9,328.0a0.9,0.9 0 1,0 1.9,0a0.9,0.9 0 1,0 -1.9,0M517.0,333.1a0.7,0.7 0 1,0 1.4,0a0.7,0.7 0 1,0 -1.4,0M515.1,330.2a1.1,1.1 0 1,0 2.1,0a1.1,1.1 0 1,0 -2.1,0M522.1,336.2a0.7,0.7 0 1,0 1.4,0a0.7,0.7 0 1,0 -1.4,0M514.3,328.9a1.4,1.4 0 1,0 2.9,0a1.4,1.4 0 1,0 -2.9,0" fill="none" stroke="#90b020" stroke-width="0.7"/><path d="M522.1,329.1l2.1,2.5M521.4,333.1l-3.1,0.0M522.4,336.8l2.9,1.1M524.9,335.0l-1.1,2.6M519.3,328.8l-0.3,2.7M525.5,336.5l-0.8,1.8M521.1,328.8l0.9,2.9M520.2,337.7l-2.9,1.6M521.5,331.6l-1.0,2.7M523.6,324.0l-1.1,1.6M521.4,331.6l-0.3,1.6" fill="none" stroke="#90b020" stroke-width="0.9" stroke-linecap="round"/><path d="M524.2,326.7l-1.4,1.0M523.7,336.1l0.6,1.6M526.0,330.6l-1.8,0.3M519.5,326.0l-1.3,1.0M521.1,326.0l1.4,0.8M522.3,336.8l1.4,1.7M514.8,327.7l2.8,0.8M518.2,337.2l0.6,1.8M518.5,321.5l1.1,1.5M526.0,331.9l-0.8,3.0M521.9,325.2l-0.7,3.1" fill="none" stroke="#b0c030" stroke-width="0.9" stroke-linecap="round"/><path d="M523.1,334.3l1.0,2.0M524.9,324.0l-1.6,2.1M520.3,321.6l-2.0,0.6M514.9,331.2l-2.2,0.7M525.0,324.8l-1.9,0.4M518.1,337.7l1.0,1.8" fill="none" stroke="#d0c020" stroke-width="0.9" stroke-linecap="round"/><path d="M518.1,328.9l-1.4,1.2M518.8,332.4l2.0,2.2M518.8,324.0l2.1,2.7M518.4,324.1l2.0,0.4M526.1,330.0l1.0,1.3M522.6,336.0l-2.0,2.8M521.7,325.1l2.1,1.9M520.4,332.6l-1.6,0.4M515.8,329.8l1.8,0.1M524.0,335.3l2.7,0.2M513.4,330.8l0.2,2.5M514.4,334.8l-1.4,2.4" fill="none" stroke="#e0e060" stroke-width="0.9" stroke-linecap="round"/><path d="M511.5,320.0A1.80,1.15 187 1,0 515.1,320.4A1.80,1.15 187 1,0 511.5,320.0M512.0,322.3A1.80,1.15 187 1,0 515.6,322.7A1.80,1.15 187 1,0 512.0,322.3M512.6,324.6A1.80,1.15 187 1,0 516.2,325.0A1.80,1.15 187 1,0 512.6,324.6M513.2,327.0A1.80,1.15 187 1,0 516.7,327.4A1.80,1.15 187 1,0 513.2,327.0M513.7,329.3A1.80,1.15 187 1,0 517.3,329.7A1.80,1.15 187 1,0 513.7,329.3M514.3,331.6A1.80,1.15 187 1,0 517.8,332.0A1.80,1.15 187 1,0 514.3,331.6M514.8,334.0A1.80,1.15 187 1,0 518.4,334.4A1.80,1.15 187 1,0 514.8,334.0M515.4,336.3A1.80,1.15 187 1,0 519.0,336.7A1.80,1.15 187 1,0 515.4,336.3M515.9,338.6A1.80,1.15 187 1,0 519.5,339.0A1.80,1.15 187 1,0 515.9,338.6" fill="#d8c020" stroke="#978616" stroke-width="0.4"/><path d="M512.2,319.8A0.79,0.43 187 1,0 513.8,320.0A0.79,0.43 187 1,0 512.2,319.8M512.7,322.1A0.79,0.43 187 1,0 514.3,322.3A0.79,0.43 187 1,0 512.7,322.1M513.3,324.4A0.79,0.43 187 1,0 514.9,324.6A0.79,0.43 187 1,0 513.3,324.4M513.9,326.8A0.79,0.43 187 1,0 515.4,327.0A0.79,0.43 187 1,0 513.9,326.8M514.4,329.1A0.79,0.43 187 1,0 516.0,329.3A0.79,0.43 187 1,0 514.4,329.1M515.0,331.4A0.79,0.43 187 1,0 516.5,331.6A0.79,0.43 187 1,0 515.0,331.4M515.5,333.8A0.79,0.43 187 1,0 517.1,334.0A0.79,0.43 187 1,0 515.5,333.8M516.1,336.1A0.79,0.43 187 1,0 517.7,336.3A0.79,0.43 187 1,0 516.1,336.1M516.6,338.4A0.79,0.43 187 1,0 518.2,338.6A0.79,0.43 187 1,0 516.6,338.4" fill="#e9dc84"/><path d="M518.4,323.4A1.80,1.15 166 1,0 521.9,322.5A1.80,1.15 166 1,0 518.4,323.4M519.6,325.2A1.80,1.15 166 1,0 523.1,324.3A1.80,1.15 166 1,0 519.6,325.2M520.9,327.0A1.80,1.15 166 1,0 524.4,326.1A1.80,1.15 166 1,0 520.9,327.0M522.1,328.9A1.80,1.15 166 1,0 525.6,328.0A1.80,1.15 166 1,0 522.1,328.9M523.4,330.7A1.80,1.15 166 1,0 526.9,329.8A1.80,1.15 166 1,0 523.4,330.7M524.6,332.5A1.80,1.15 166 1,0 528.1,331.6A1.80,1.15 166 1,0 524.6,332.5" fill="#b8d030" stroke="#809121" stroke-width="0.4"/><path d="M519.1,322.8A0.79,0.43 166 1,0 520.6,322.4A0.79,0.43 166 1,0 519.1,322.8M520.3,324.6A0.79,0.43 166 1,0 521.8,324.3A0.79,0.43 166 1,0 520.3,324.6M521.6,326.5A0.79,0.43 166 1,0 523.1,326.1A0.79,0.43 166 1,0 521.6,326.5M522.8,328.3A0.79,0.43 166 1,0 524.3,327.9A0.79,0.43 166 1,0 522.8,328.3M524.1,330.1A0.79,0.43 166 1,0 525.6,329.8A0.79,0.43 166 1,0 524.1,330.1M525.3,332.0A0.79,0.43 166 1,0 526.8,331.6A0.79,0.43 166 1,0 525.3,332.0" fill="#d7e58d"/><path d="M512.0,316.0 C514.3,316.8 523.7,320.2 526.0,321.0" fill="none" stroke="#c07020" stroke-width="1.60" stroke-linecap="round" stroke-linejoin="round" opacity="1.00"/><path d="M498.3,395.6 Q498.0,399.1 498.0,392.0 T498.0,396.9" fill="none" stroke="#8060c0" stroke-width="0.70" opacity="0.80"/><path d="M502.1,415.7 Q504.9,408.7 505.5,407.7 T504.0,417.2" fill="none" stroke="#8060c0" stroke-width="0.70" opacity="0.80"/><path d="M500.6,392.7 Q508.0,392.0 502.9,392.0 T500.7,400.7" fill="none" stroke="#8060c0" stroke-width="0.70" opacity="0.80"/><path d="M503.9,398.9 Q505.3,399.9 512.9,406.4 T510.5,400.7" fill="none" stroke="#8060c0" stroke-width="0.70" opacity="0.80"/><path d="M521.4,423.6 Q513.5,424.0 519.7,424.0 T515.0,424.0" fill="none" stroke="#8060c0" stroke-width="0.70" opacity="0.80"/><path d="M518.4,398.2 Q520.8,392.8 513.1,392.0 T510.3,392.0" fill="none" stroke="#8060c0" stroke-width="0.70" opacity="0.80"/><path d="M496.0,400.0 C496.3,399.1 496.7,395.8 498.0,394.5 C499.3,393.2 502.0,392.5 504.0,392.5 C506.0,392.5 508.7,393.4 510.0,394.5 C511.3,395.6 511.7,398.2 512.0,399.0" fill="none" stroke="#8030c0" stroke-width="1.00" stroke-linecap="round" stroke-linejoin="round" opacity="1.00"/><path d="M499.0,396.0 C499.8,395.9 502.5,395.0 504.0,395.5 C505.5,396.0 507.3,398.4 508.0,399.0" fill="none" stroke="#6020b0" stroke-width="0.90" stroke-linecap="round" stroke-linejoin="round" opacity="1.00"/><path d="M495.8,410.5 L496.6,410.2 L497.7,409.9 L499.0,409.6 L500.4,409.2 L501.9,408.8 L503.2,408.5 L504.6,408.2 L506.1,407.9 L507.6,407.6 L509.1,407.4 L510.3,407.1 L511.2,407.0 L510.8,405.0 L509.9,405.2 L508.7,405.4 L507.3,405.6 L505.7,405.9 L504.2,406.2 L502.8,406.5 L501.4,406.9 L499.9,407.2 L498.5,407.6 L497.2,408.0 L496.0,408.3 L495.2,408.5Z" fill="#2010c0" stroke-linejoin="round"/><path d="M498.4,403.9 L499.1,404.0 L500.1,404.1 L501.2,404.3 L502.5,404.5 L503.7,404.7 L504.8,404.9 L505.9,405.1 L507.0,405.4 L508.2,405.7 L509.2,406.0 L510.1,406.2 L510.8,406.4 L511.2,404.6 L510.6,404.5 L509.7,404.2 L508.6,403.9 L507.5,403.6 L506.3,403.4 L505.2,403.1 L504.0,402.9 L502.8,402.7 L501.5,402.5 L500.3,402.3 L499.3,402.2 L498.6,402.1Z" fill="#2818b0" stroke-linejoin="round"/><path d="M505.7,397.0 L506.1,397.5 L506.5,398.3 L507.1,399.2 L507.7,400.2 L508.2,401.1 L508.7,402.0 L509.2,402.7 L509.7,403.5 L510.2,404.3 L510.6,405.0 L511.0,405.6 L511.2,406.0 L512.8,405.0 L512.5,404.6 L512.1,404.0 L511.7,403.3 L511.2,402.6 L510.7,401.8 L510.3,401.0 L509.8,400.2 L509.2,399.3 L508.6,398.3 L508.1,397.4 L507.6,396.6 L507.3,396.0Z" fill="#3010c8" stroke-linejoin="round"/><path d="M511.1,405.9 L511.0,406.8 L510.8,408.0 L510.7,409.5 L510.5,411.0 L510.3,412.5 L510.1,413.9 L509.9,415.2 L509.7,416.5 L509.5,417.9 L509.4,419.1 L509.2,420.1 L509.1,420.9 L510.9,421.1 L511.0,420.4 L511.1,419.4 L511.3,418.1 L511.5,416.8 L511.7,415.4 L511.9,414.1 L512.1,412.7 L512.3,411.2 L512.5,409.7 L512.6,408.2 L512.8,407.0 L512.9,406.1Z" fill="#2010a0" stroke-linejoin="round"/><path d="M511.3,406.3 L511.8,407.2 L512.4,408.4 L513.1,409.9 L513.8,411.4 L514.6,413.0 L515.3,414.4 L516.1,415.7 L516.8,417.0 L517.6,418.4 L518.3,419.6 L518.9,420.6 L519.4,421.4 L520.6,420.6 L520.2,419.9 L519.6,418.8 L518.9,417.6 L518.1,416.3 L517.4,414.9 L516.7,413.6 L516.0,412.3 L515.2,410.8 L514.4,409.2 L513.7,407.8 L513.1,406.6 L512.7,405.7Z" fill="#3020b0" stroke-linejoin="round"/><path d="M521.8,408.0 C521.8,409.3 521.8,411.0 521.1,411.9 C520.5,412.8 519.0,413.4 518.0,413.4 C517.0,413.4 515.7,412.6 515.0,411.7 C514.4,410.8 514.2,409.3 514.2,408.0 C514.1,406.7 514.1,404.9 514.8,404.0 C515.4,403.1 517.0,402.3 518.0,402.3 C519.0,402.4 520.4,403.4 521.0,404.3 C521.6,405.3 521.8,406.7 521.8,408.0Z" fill="#3090f0" opacity="0.90"/><path d="M517.3,411.3a1.5,1.5 0 1,0 3.0,0a1.5,1.5 0 1,0 -3.0,0M517.9,403.7a0.9,0.9 0 1,0 1.7,0a0.9,0.9 0 1,0 -1.7,0M515.4,403.3a1.4,1.4 0 1,0 2.7,0a1.4,1.4 0 1,0 -2.7,0M517.9,412.5a1.3,1.3 0 1,0 2.5,0a1.3,1.3 0 1,0 -2.5,0M518.0,411.9a1.4,1.4 0 1,0 2.9,0a1.4,1.4 0 1,0 -2.9,0M515.8,412.4a0.7,0.7 0 1,0 1.5,0a0.7,0.7 0 1,0 -1.5,0M519.3,405.3a1.5,1.5 0 1,0 3.0,0a1.5,1.5 0 1,0 -3.0,0" fill="none" stroke="#3090f0" stroke-width="0.7"/><path d="M519.9,406.1a1.0,1.0 0 1,0 2.0,0a1.0,1.0 0 1,0 -2.0,0M517.4,409.1a1.4,1.4 0 1,0 2.8,0a1.4,1.4 0 1,0 -2.8,0M514.4,412.1a1.5,1.5 0 1,0 2.9,0a1.5,1.5 0 1,0 -2.9,0M515.2,410.8a1.0,1.0 0 1,0 1.9,0a1.0,1.0 0 1,0 -1.9,0M516.5,410.1a1.0,1.0 0 1,0 2.0,0a1.0,1.0 0 1,0 -2.0,0M517.2,410.6a1.4,1.4 0 1,0 2.7,0a1.4,1.4 0 1,0 -2.7,0M515.0,407.2a1.4,1.4 0 1,0 2.9,0a1.4,1.4 0 1,0 -2.9,0M515.8,411.5a1.4,1.4 0 1,0 2.8,0a1.4,1.4 0 1,0 -2.8,0M514.0,411.2a1.4,1.4 0 1,0 2.9,0a1.4,1.4 0 1,0 -2.9,0M515.9,407.6a1.2,1.2 0 1,0 2.4,0a1.2,1.2 0 1,0 -2.4,0M515.5,403.1a1.2,1.2 0 1,0 2.4,0a1.2,1.2 0 1,0 -2.4,0" fill="none" stroke="#2070e0" stroke-width="0.7"/><path d="M514.7,404.3a1.0,1.0 0 1,0 2.0,0a1.0,1.0 0 1,0 -2.0,0M517.2,411.2a0.9,0.9 0 1,0 1.9,0a0.9,0.9 0 1,0 -1.9,0M514.3,405.4a1.2,1.2 0 1,0 2.5,0a1.2,1.2 0 1,0 -2.5,0M517.7,411.4a0.9,0.9 0 1,0 1.7,0a0.9,0.9 0 1,0 -1.7,0M518.0,404.0a1.3,1.3 0 1,0 2.5,0a1.3,1.3 0 1,0 -2.5,0M515.0,411.4a0.8,0.8 0 1,0 1.6,0a0.8,0.8 0 1,0 -1.6,0M515.3,408.0a0.9,0.9 0 1,0 1.8,0a0.9,0.9 0 1,0 -1.8,0" fill="none" stroke="#50b0ff" stroke-width="0.7"/><path d="M513.5,408.0l2.6,1.6M518.2,403.9l1.1,2.9M516.4,407.4l1.3,1.6M515.2,404.1l1.6,0.4M520.3,406.0l-1.9,0.4M517.4,405.7l1.1,2.2M518.0,411.2l2.4,1.3M517.0,411.5l-2.3,1.1" fill="none" stroke="#50b0ff" stroke-width="0.9" stroke-linecap="round"/><path d="M515.2,404.6l0.7,2.8M517.5,402.7l-0.2,1.9M516.5,405.8l0.3,2.2M519.2,407.7l-1.5,1.1M517.9,410.5l-1.6,0.5M518.9,406.2l1.5,0.2M516.7,408.8l-1.3,3.0M520.1,407.1l-0.6,2.2M518.3,403.4l-0.6,1.8M519.6,409.0l-0.3,3.3M515.3,408.3l-0.7,2.3" fill="none" stroke="#3090f0" stroke-width="0.9" stroke-linecap="round"/><path d="M515.7,405.5l-1.7,1.3M517.5,409.7l-1.1,1.4M514.6,405.5l2.8,0.1M513.9,406.0l1.1,1.3M520.7,407.8l1.6,0.5M517.5,410.8l-1.1,1.4M520.5,407.8l1.6,1.1M516.8,410.7l-0.5,3.2" fill="none" stroke="#2070e0" stroke-width="0.9" stroke-linecap="round"/><path d="M503.6,420.8 L504.1,419.9 L504.9,418.6 L505.7,417.1 L506.7,415.4 L507.7,413.8 L508.6,412.3 L509.4,410.9 L510.4,409.3 L511.4,407.8 L512.3,406.4 L513.0,405.2 L513.6,404.3 L512.4,403.7 L511.9,404.5 L511.2,405.7 L510.3,407.1 L509.3,408.7 L508.3,410.2 L507.4,411.7 L506.6,413.2 L505.6,414.8 L504.6,416.4 L503.7,418.0 L503.0,419.2 L502.4,420.2Z" fill="#30c0e0" stroke-linejoin="round"/><path d="M507.6,421.8 L508.0,420.9 L508.6,419.6 L509.3,418.1 L510.1,416.5 L510.9,414.8 L511.6,413.3 L512.3,411.7 L513.1,410.0 L513.8,408.2 L514.6,406.6 L515.2,405.2 L515.6,404.3 L514.4,403.7 L514.0,404.7 L513.4,406.1 L512.7,407.7 L511.9,409.4 L511.1,411.2 L510.4,412.7 L509.7,414.3 L508.9,415.9 L508.2,417.5 L507.4,419.0 L506.8,420.3 L506.4,421.2Z" fill="#40c8e8" stroke-linejoin="round"/><path d="M527.5,392.3 Q526.0,397.1 526.0,399.7 T526.0,399.8" fill="none" stroke="#e08040" stroke-width="0.70" opacity="0.80"/><path d="M542.9,398.5 Q546.0,403.0 544.5,397.0 T546.0,392.6" fill="none" stroke="#e08040" stroke-width="0.70" opacity="0.80"/><path d="M526.2,402.6 Q530.3,406.7 535.7,403.1 T530.7,398.5" fill="none" stroke="#e08040" stroke-width="0.70" opacity="0.80"/><path d="M545.6,390.2 Q541.5,388.0 536.1,388.0 T534.3,388.0" fill="none" stroke="#e08040" stroke-width="0.70" opacity="0.80"/><path d="M532.2,406.6 Q528.2,408.0 531.1,408.0 T532.0,408.0" fill="none" stroke="#e08040" stroke-width="0.70" opacity="0.80"/><path d="M547.2,386.1 C547.2,386.9 544.5,388.1 542.8,388.7 C541.2,389.4 539.4,389.7 537.3,390.0 C535.1,390.3 531.4,390.9 530.0,390.5 C528.6,390.1 528.7,388.6 528.9,387.7 C529.1,386.8 529.9,386.0 531.2,385.3 C532.5,384.6 534.7,383.6 536.7,383.4 C538.6,383.2 541.1,383.7 542.8,384.1 C544.6,384.6 547.2,385.3 547.2,386.1Z" fill="#e07020" opacity="0.50"/><path d="M539.0,384.4a1.3,1.3 0 1,0 2.7,0a1.3,1.3 0 1,0 -2.7,0M538.4,386.9a1.4,1.4 0 1,0 2.9,0a1.4,1.4 0 1,0 -2.9,0M528.1,389.5a1.5,1.5 0 1,0 3.0,0a1.5,1.5 0 1,0 -3.0,0M540.0,386.1a1.5,1.5 0 1,0 3.0,0a1.5,1.5 0 1,0 -3.0,0M536.7,389.0a0.9,0.9 0 1,0 1.7,0a0.9,0.9 0 1,0 -1.7,0M539.7,387.8a1.4,1.4 0 1,0 2.8,0a1.4,1.4 0 1,0 -2.8,0M531.4,386.1a0.8,0.8 0 1,0 1.7,0a0.8,0.8 0 1,0 -1.7,0M537.6,386.6a1.2,1.2 0 1,0 2.3,0a1.2,1.2 0 1,0 -2.3,0M530.3,389.8a0.9,0.9 0 1,0 1.9,0a0.9,0.9 0 1,0 -1.9,0M536.7,388.2a1.2,1.2 0 1,0 2.4,0a1.2,1.2 0 1,0 -2.4,0M533.1,385.2a0.9,0.9 0 1,0 1.8,0a0.9,0.9 0 1,0 -1.8,0" fill="none" stroke="#f09030" stroke-width="0.7"/><path d="M538.7,384.1a1.2,1.2 0 1,0 2.4,0a1.2,1.2 0 1,0 -2.4,0M537.3,385.9a0.9,0.9 0 1,0 1.9,0a0.9,0.9 0 1,0 -1.9,0M530.2,390.0a0.9,0.9 0 1,0 1.8,0a0.9,0.9 0 1,0 -1.8,0M540.6,384.9a1.2,1.2 0 1,0 2.4,0a1.2,1.2 0 1,0 -2.4,0M536.0,385.1a1.0,1.0 0 1,0 2.0,0a1.0,1.0 0 1,0 -2.0,0M528.4,387.6a1.5,1.5 0 1,0 2.9,0a1.5,1.5 0 1,0 -2.9,0M530.0,389.1a1.2,1.2 0 1,0 2.4,0a1.2,1.2 0 1,0 -2.4,0M539.1,386.5a1.3,1.3 0 1,0 2.6,0a1.3,1.3 0 1,0 -2.6,0" fill="none" stroke="#e07020" stroke-width="0.7"/><path d="M542.7,386.3a0.7,0.7 0 1,0 1.5,0a0.7,0.7 0 1,0 -1.5,0M545.6,386.3a1.2,1.2 0 1,0 2.4,0a1.2,1.2 0 1,0 -2.4,0M533.0,385.4a1.2,1.2 0 1,0 2.4,0a1.2,1.2 0 1,0 -2.4,0M532.7,389.3a0.8,0.8 0 1,0 1.5,0a0.8,0.8 0 1,0 -1.5,0" fill="none" stroke="#d06010" stroke-width="0.7"/><path d="M537.1,387.4l2.2,0.5M541.6,385.2l2.5,0.9M542.4,386.0l2.5,0.6M534.0,387.6l2.2,1.7M541.1,388.2l2.3,0.1M535.7,387.9l2.4,0.5M534.2,382.7l0.7,3.3" fill="none" stroke="#f09030" stroke-width="0.9" stroke-linecap="round"/><path d="M532.0,384.4l-0.4,2.2M543.9,384.6l-3.0,1.2M543.8,385.6l1.3,1.3M538.8,386.1l-0.7,1.4M542.4,386.7l-1.2,2.6M544.3,386.9l0.2,1.7M534.0,386.2l-2.5,2.1" fill="none" stroke="#d06010" stroke-width="0.9" stroke-linecap="round"/><path d="M530.1,388.3l0.3,1.6M535.7,388.4l-1.6,1.5M531.3,386.3l1.6,1.3M533.0,388.5l-1.7,0.8" fill="none" stroke="#e07020" stroke-width="0.9" stroke-linecap="round"/><path d="M529.8,389.1A1.80,1.15 103 1,0 530.6,385.6A1.80,1.15 103 1,0 529.8,389.1M532.2,388.8A1.80,1.15 103 1,0 533.1,385.3A1.80,1.15 103 1,0 532.2,388.8M534.7,388.5A1.80,1.15 103 1,0 535.5,385.0A1.80,1.15 103 1,0 534.7,388.5M537.1,388.3A1.80,1.15 103 1,0 537.9,384.7A1.80,1.15 103 1,0 537.1,388.3M539.5,388.0A1.80,1.15 103 1,0 540.3,384.5A1.80,1.15 103 1,0 539.5,388.0M541.9,387.7A1.80,1.15 103 1,0 542.8,384.2A1.80,1.15 103 1,0 541.9,387.7M544.4,387.4A1.80,1.15 103 1,0 545.2,383.9A1.80,1.15 103 1,0 544.4,387.4" fill="#e87a22" stroke="#a25517" stroke-width="0.4"/><path d="M529.7,387.8A0.79,0.43 103 1,0 530.1,386.3A0.79,0.43 103 1,0 529.7,387.8M532.2,387.5A0.79,0.43 103 1,0 532.5,386.0A0.79,0.43 103 1,0 532.2,387.5M534.6,387.3A0.79,0.43 103 1,0 535.0,385.7A0.79,0.43 103 1,0 534.6,387.3M537.0,387.0A0.79,0.43 103 1,0 537.4,385.4A0.79,0.43 103 1,0 537.0,387.0M539.4,386.7A0.79,0.43 103 1,0 539.8,385.1A0.79,0.43 103 1,0 539.4,386.7M541.9,386.4A0.79,0.43 103 1,0 542.2,384.9A0.79,0.43 103 1,0 541.9,386.4M544.3,386.1A0.79,0.43 103 1,0 544.7,384.6A0.79,0.43 103 1,0 544.3,386.1" fill="#f2b585"/><path d="M548.2,393.2 C548.9,394.3 548.7,396.2 548.0,397.7 C547.3,399.3 545.6,401.3 543.8,402.3 C542.1,403.3 539.6,403.3 537.7,403.7 C535.7,404.1 533.4,405.1 532.0,404.8 C530.6,404.5 529.6,403.2 529.1,402.1 C528.7,401.0 528.4,399.5 529.1,398.2 C529.8,397.0 531.8,395.6 533.4,394.6 C534.9,393.5 536.6,392.6 538.4,392.1 C540.1,391.6 542.1,391.3 543.7,391.5 C545.4,391.7 547.5,392.2 548.2,393.2Z" fill="#30c040" opacity="0.50"/><path d="M535.7,392.9a1.1,1.1 0 1,0 2.3,0a1.1,1.1 0 1,0 -2.3,0M542.3,392.9a0.8,0.8 0 1,0 1.6,0a0.8,0.8 0 1,0 -1.6,0M535.5,397.6a0.9,0.9 0 1,0 1.7,0a0.9,0.9 0 1,0 -1.7,0M539.5,398.3a1.4,1.4 0 1,0 2.8,0a1.4,1.4 0 1,0 -2.8,0M527.9,400.2a1.5,1.5 0 1,0 2.9,0a1.5,1.5 0 1,0 -2.9,0M536.9,403.0a1.0,1.0 0 1,0 2.0,0a1.0,1.0 0 1,0 -2.0,0M534.7,396.7a1.4,1.4 0 1,0 2.7,0a1.4,1.4 0 1,0 -2.7,0M540.7,392.7a1.2,1.2 0 1,0 2.5,0a1.2,1.2 0 1,0 -2.5,0M535.0,394.5a0.8,0.8 0 1,0 1.5,0a0.8,0.8 0 1,0 -1.5,0M542.8,400.1a0.8,0.8 0 1,0 1.7,0a0.8,0.8 0 1,0 -1.7,0M547.2,393.7a0.7,0.7 0 1,0 1.4,0a0.7,0.7 0 1,0 -1.4,0M536.2,402.2a0.9,0.9 0 1,0 1.8,0a0.9,0.9 0 1,0 -1.8,0" fill="none" stroke="#30c840" stroke-width="0.7"/><path d="M530.3,399.0a1.4,1.4 0 1,0 2.8,0a1.4,1.4 0 1,0 -2.8,0M536.2,401.0a0.9,0.9 0 1,0 1.8,0a0.9,0.9 0 1,0 -1.8,0M528.9,398.4a0.8,0.8 0 1,0 1.6,0a0.8,0.8 0 1,0 -1.6,0M545.2,394.1a1.0,1.0 0 1,0 1.9,0a1.0,1.0 0 1,0 -1.9,0M528.2,400.5a1.1,1.1 0 1,0 2.2,0a1.1,1.1 0 1,0 -2.2,0M546.2,394.7a1.4,1.4 0 1,0 2.9,0a1.4,1.4 0 1,0 -2.9,0M536.5,395.4a0.9,0.9 0 1,0 1.9,0a0.9,0.9 0 1,0 -1.9,0M540.5,392.3a1.3,1.3 0 1,0 2.5,0a1.3,1.3 0 1,0 -2.5,0M534.1,402.9a1.2,1.2 0 1,0 2.5,0a1.2,1.2 0 1,0 -2.5,0M541.0,402.4a1.0,1.0 0 1,0 2.1,0a1.0,1.0 0 1,0 -2.1,0" fill="none" stroke="#50e060" stroke-width="0.7"/><path d="M542.6,396.1a1.2,1.2 0 1,0 2.4,0a1.2,1.2 0 1,0 -2.4,0M543.4,396.5a1.0,1.0 0 1,0 1.9,0a1.0,1.0 0 1,0 -1.9,0M537.7,399.9a1.3,1.3 0 1,0 2.6,0a1.3,1.3 0 1,0 -2.6,0M536.4,401.3a1.3,1.3 0 1,0 2.7,0a1.3,1.3 0 1,0 -2.7,0M542.5,394.9a1.4,1.4 0 1,0 2.9,0a1.4,1.4 0 1,0 -2.9,0M543.1,399.5a1.2,1.2 0 1,0 2.3,0a1.2,1.2 0 1,0 -2.3,0M541.1,396.3a1.2,1.2 0 1,0 2.5,0a1.2,1.2 0 1,0 -2.5,0M535.8,396.3a1.3,1.3 0 1,0 2.6,0a1.3,1.3 0 1,0 -2.6,0M544.0,395.5a1.1,1.1 0 1,0 2.2,0a1.1,1.1 0 1,0 -2.2,0M540.1,396.7a1.2,1.2 0 1,0 2.3,0a1.2,1.2 0 1,0 -2.3,0M536.2,398.3a0.9,0.9 0 1,0 1.7,0a0.9,0.9 0 1,0 -1.7,0M535.1,397.1a1.4,1.4 0 1,0 2.8,0a1.4,1.4 0 1,0 -2.8,0" fill="none" stroke="#80f090" stroke-width="0.7"/><path d="M537.8,402.3a1.4,1.4 0 1,0 2.8,0a1.4,1.4 0 1,0 -2.8,0M528.4,399.3a1.0,1.0 0 1,0 2.0,0a1.0,1.0 0 1,0 -2.0,0M533.2,402.6a1.5,1.5 0 1,0 3.0,0a1.5,1.5 0 1,0 -3.0,0M541.5,394.5a1.4,1.4 0 1,0 2.9,0a1.4,1.4 0 1,0 -2.9,0M532.3,403.3a1.5,1.5 0 1,0 2.9,0a1.5,1.5 0 1,0 -2.9,0M533.8,403.6a1.0,1.0 0 1,0 2.0,0a1.0,1.0 0 1,0 -2.0,0M537.1,399.1a0.7,0.7 0 1,0 1.5,0a0.7,0.7 0 1,0 -1.5,0M542.9,397.3a0.8,0.8 0 1,0 1.6,0a0.8,0.8 0 1,0 -1.6,0M531.4,402.1a0.8,0.8 0 1,0 1.6,0a0.8,0.8 0 1,0 -1.6,0M533.7,402.2a0.9,0.9 0 1,0 1.8,0a0.9,0.9 0 1,0 -1.8,0" fill="none" stroke="#20a030" stroke-width="0.7"/><path d="M543.1,390.6l2.1,2.4M541.1,396.1l0.6,2.4M540.0,394.0l2.3,1.2M541.4,395.3l-2.1,0.2M540.7,393.5l1.6,3.0M531.4,396.4l0.1,1.6M546.5,395.1l-1.7,0.5M546.1,397.6l-0.4,2.2M531.7,399.8l2.1,2.5M532.1,401.3l-2.1,0.8" fill="none" stroke="#80f090" stroke-width="0.9" stroke-linecap="round"/><path d="M545.7,399.3l-0.9,1.6M535.0,395.3l1.1,2.9M535.2,398.5l-3.4,0.1M541.5,396.8l-3.3,0.3M530.2,402.2l0.7,2.0M544.4,393.0l0.8,1.9M542.0,393.2l2.2,2.7M542.3,395.1l-1.9,1.5M530.9,395.8l1.3,2.6M542.0,392.7l1.6,0.4M535.4,399.1l3.1,1.2" fill="none" stroke="#30c840" stroke-width="0.9" stroke-linecap="round"/><path d="M534.3,395.5l-0.6,1.4M546.9,392.3l2.5,2.1M538.7,403.2l-1.5,0.5M531.2,398.0l-0.2,3.3M544.2,398.8l-1.5,1.2" fill="none" stroke="#20a030" stroke-width="0.9" stroke-linecap="round"/><path d="M535.5,397.2l0.1,3.0M536.6,401.5l1.7,1.6M545.1,395.3l3.3,0.0" fill="none" stroke="#50e060" stroke-width="0.9" stroke-linecap="round"/><path d="M529.3,401.3A2.75,1.76 85 1,0 528.7,395.8A2.75,1.76 85 1,0 529.3,401.3M531.3,400.3A2.75,1.76 85 1,0 530.7,394.8A2.75,1.76 85 1,0 531.3,400.3M533.3,399.4A2.75,1.76 85 1,0 532.7,393.9A2.75,1.76 85 1,0 533.3,399.4M535.3,398.4A2.75,1.76 85 1,0 534.7,392.9A2.75,1.76 85 1,0 535.3,398.4M537.3,397.5A2.75,1.76 85 1,0 536.7,392.0A2.75,1.76 85 1,0 537.3,397.5M539.3,396.5A2.75,1.76 85 1,0 538.7,391.0A2.75,1.76 85 1,0 539.3,396.5M541.3,395.6A2.75,1.76 85 1,0 540.7,390.1A2.75,1.76 85 1,0 541.3,395.6M543.3,394.6A2.75,1.76 85 1,0 542.7,389.1A2.75,1.76 85 1,0 543.3,394.6M545.3,393.7A2.75,1.76 85 1,0 544.7,388.2A2.75,1.76 85 1,0 545.3,393.7M547.3,392.7A2.75,1.76 85 1,0 546.7,387.2A2.75,1.76 85 1,0 547.3,392.7" fill="#34c840" stroke="#248c2c" stroke-width="0.4"/><path d="M528.8,399.4A1.21,0.66 85 1,0 528.6,397.0A1.21,0.66 85 1,0 528.8,399.4M530.8,398.5A1.21,0.66 85 1,0 530.6,396.1A1.21,0.66 85 1,0 530.8,398.5M532.8,397.5A1.21,0.66 85 1,0 532.6,395.1A1.21,0.66 85 1,0 532.8,397.5M534.8,396.6A1.21,0.66 85 1,0 534.6,394.2A1.21,0.66 85 1,0 534.8,396.6M536.8,395.6A1.21,0.66 85 1,0 536.6,393.2A1.21,0.66 85 1,0 536.8,395.6M538.8,394.7A1.21,0.66 85 1,0 538.6,392.3A1.21,0.66 85 1,0 538.8,394.7M540.8,393.7A1.21,0.66 85 1,0 540.6,391.3A1.21,0.66 85 1,0 540.8,393.7M542.8,392.8A1.21,0.66 85 1,0 542.6,390.4A1.21,0.66 85 1,0 542.8,392.8M544.8,391.8A1.21,0.66 85 1,0 544.6,389.4A1.21,0.66 85 1,0 544.8,391.8M546.8,390.9A1.21,0.66 85 1,0 546.6,388.5A1.21,0.66 85 1,0 546.8,390.9" fill="#8fe095"/><path d="M531.8,408.3A2.30,1.47 65 1,0 529.8,404.1A2.30,1.47 65 1,0 531.8,408.3M533.4,406.7A2.30,1.47 65 1,0 531.4,402.5A2.30,1.47 65 1,0 533.4,406.7M535.0,405.1A2.30,1.47 65 1,0 533.0,400.9A2.30,1.47 65 1,0 535.0,405.1M536.6,403.5A2.30,1.47 65 1,0 534.6,399.3A2.30,1.47 65 1,0 536.6,403.5M538.2,401.9A2.30,1.47 65 1,0 536.2,397.7A2.30,1.47 65 1,0 538.2,401.9" fill="#2cb83a" stroke="#1e8028" stroke-width="0.4"/><path d="M530.9,406.8A1.01,0.55 65 1,0 530.1,405.0A1.01,0.55 65 1,0 530.9,406.8M532.5,405.2A1.01,0.55 65 1,0 531.7,403.4A1.01,0.55 65 1,0 532.5,405.2M534.1,403.6A1.01,0.55 65 1,0 533.3,401.8A1.01,0.55 65 1,0 534.1,403.6M535.7,402.0A1.01,0.55 65 1,0 534.9,400.2A1.01,0.55 65 1,0 535.7,402.0M537.3,400.4A1.01,0.55 65 1,0 536.5,398.6A1.01,0.55 65 1,0 537.3,400.4" fill="#8ad792"/><path d="M548.4,410.0 C548.4,412.7 548.4,416.1 547.8,418.0 C547.2,419.8 545.8,421.3 545.0,421.0 C544.2,420.8 543.4,418.3 542.7,416.5 C542.1,414.6 541.2,412.3 541.1,410.0 C541.1,407.7 541.8,404.1 542.4,402.6 C543.1,401.2 544.1,401.5 545.0,401.4 C545.9,401.3 547.2,400.5 547.8,402.0 C548.4,403.4 548.4,407.3 548.4,410.0Z" fill="#a0c020" opacity="0.50"/><path d="M546.4,405.7a1.3,1.3 0 1,0 2.6,0a1.3,1.3 0 1,0 -2.6,0M543.4,413.6a1.2,1.2 0 1,0 2.4,0a1.2,1.2 0 1,0 -2.4,0M544.0,417.9a1.0,1.0 0 1,0 2.0,0a1.0,1.0 0 1,0 -2.0,0M544.6,414.8a0.8,0.8 0 1,0 1.6,0a0.8,0.8 0 1,0 -1.6,0M546.5,411.0a1.1,1.1 0 1,0 2.3,0a1.1,1.1 0 1,0 -2.3,0M543.9,401.8a1.0,1.0 0 1,0 1.9,0a1.0,1.0 0 1,0 -1.9,0M544.9,412.8a1.3,1.3 0 1,0 2.6,0a1.3,1.3 0 1,0 -2.6,0M542.9,405.4a1.1,1.1 0 1,0 2.2,0a1.1,1.1 0 1,0 -2.2,0M544.0,403.2a1.3,1.3 0 1,0 2.7,0a1.3,1.3 0 1,0 -2.7,0M542.7,408.5a0.8,0.8 0 1,0 1.7,0a0.8,0.8 0 1,0 -1.7,0M543.7,418.5a1.3,1.3 0 1,0 2.7,0a1.3,1.3 0 1,0 -2.7,0M545.5,417.3a1.1,1.1 0 1,0 2.1,0a1.1,1.1 0 1,0 -2.1,0" fill="none" stroke="#c0d040" stroke-width="0.7"/><path d="M545.1,413.8a1.2,1.2 0 1,0 2.3,0a1.2,1.2 0 1,0 -2.3,0M546.7,416.8a1.1,1.1 0 1,0 2.2,0a1.1,1.1 0 1,0 -2.2,0M546.5,410.0a1.4,1.4 0 1,0 2.7,0a1.4,1.4 0 1,0 -2.7,0M545.5,416.4a1.0,1.0 0 1,0 2.1,0a1.0,1.0 0 1,0 -2.1,0" fill="none" stroke="#80b020" stroke-width="0.7"/><path d="M545.2,415.1a1.0,1.0 0 1,0 2.1,0a1.0,1.0 0 1,0 -2.1,0M543.4,420.4a1.2,1.2 0 1,0 2.5,0a1.2,1.2 0 1,0 -2.5,0M540.5,409.7a1.4,1.4 0 1,0 2.8,0a1.4,1.4 0 1,0 -2.8,0M544.0,405.1a1.2,1.2 0 1,0 2.3,0a1.2,1.2 0 1,0 -2.3,0M546.7,402.7a1.1,1.1 0 1,0 2.3,0a1.1,1.1 0 1,0 -2.3,0M546.0,409.5a1.4,1.4 0 1,0 2.9,0a1.4,1.4 0 1,0 -2.9,0M545.1,402.7a0.8,0.8 0 1,0 1.6,0a0.8,0.8 0 1,0 -1.6,0M544.3,415.1a0.9,0.9 0 1,0 1.8,0a0.9,0.9 0 1,0 -1.8,0" fill="none" stroke="#a0c020" stroke-width="0.7"/><path d="M542.3,413.0l2.7,0.7M543.4,408.6l2.1,1.7M541.9,404.9l3.2,0.5M545.2,405.3l-1.6,0.3M547.6,416.1l-2.1,1.0M546.7,402.2l0.8,2.4M545.3,401.5l-1.5,1.1M545.4,418.4l0.1,3.1M544.7,402.3l0.5,2.8" fill="none" stroke="#c0d040" stroke-width="0.9" stroke-linecap="round"/><path d="M545.3,413.8l-1.5,1.5M545.4,404.8l-1.5,0.5M545.9,417.0l1.6,1.5M543.2,413.4l-0.3,3.0M543.5,410.9l1.9,1.8M548.6,409.6l-0.9,2.4M543.5,402.0l0.2,1.8M543.4,413.4l1.9,1.0" fill="none" stroke="#80b020" stroke-width="0.9" stroke-linecap="round"/><path d="M543.6,412.9l1.5,2.0M545.2,409.5l0.8,2.3M542.5,405.2l2.0,1.7M545.0,405.1l3.1,1.3M545.6,402.5l-2.1,2.0" fill="none" stroke="#a0c020" stroke-width="0.9" stroke-linecap="round"/><path d="M541.3,401.7A1.90,1.22 194 1,0 545.0,402.6A1.90,1.22 194 1,0 541.3,401.7M541.5,403.9A1.90,1.22 194 1,0 545.2,404.8A1.90,1.22 194 1,0 541.5,403.9M541.8,406.2A1.90,1.22 194 1,0 545.5,407.1A1.90,1.22 194 1,0 541.8,406.2M542.0,408.4A1.90,1.22 194 1,0 545.7,409.3A1.90,1.22 194 1,0 542.0,408.4M542.3,410.7A1.90,1.22 194 1,0 546.0,411.6A1.90,1.22 194 1,0 542.3,410.7M542.5,412.9A1.90,1.22 194 1,0 546.2,413.8A1.90,1.22 194 1,0 542.5,412.9M542.8,415.2A1.90,1.22 194 1,0 546.5,416.1A1.90,1.22 194 1,0 542.8,415.2M543.0,417.4A1.90,1.22 194 1,0 546.7,418.3A1.90,1.22 194 1,0 543.0,417.4" fill="#a4c424" stroke="#728919" stroke-width="0.4"/><path d="M542.0,401.6A0.84,0.46 194 1,0 543.6,402.0A0.84,0.46 194 1,0 542.0,401.6M542.3,403.9A0.84,0.46 194 1,0 543.9,404.3A0.84,0.46 194 1,0 542.3,403.9M542.5,406.1A0.84,0.46 194 1,0 544.1,406.5A0.84,0.46 194 1,0 542.5,406.1M542.8,408.4A0.84,0.46 194 1,0 544.4,408.8A0.84,0.46 194 1,0 542.8,408.4M543.0,410.6A0.84,0.46 194 1,0 544.6,411.0A0.84,0.46 194 1,0 543.0,410.6M543.3,412.9A0.84,0.46 194 1,0 544.9,413.3A0.84,0.46 194 1,0 543.3,412.9M543.5,415.1A0.84,0.46 194 1,0 545.1,415.5A0.84,0.46 194 1,0 543.5,415.1M543.8,417.4A0.84,0.46 194 1,0 545.4,417.8A0.84,0.46 194 1,0 543.8,417.4" fill="#ccde86"/><path d="M547.0,395.5A2.10,1.34 198 1,0 551.0,396.8A2.10,1.34 198 1,0 547.0,395.5M547.1,397.8A2.10,1.34 198 1,0 551.1,399.0A2.10,1.34 198 1,0 547.1,397.8M547.2,400.0A2.10,1.34 198 1,0 551.2,401.3A2.10,1.34 198 1,0 547.2,400.0M547.3,402.3A2.10,1.34 198 1,0 551.3,403.6A2.10,1.34 198 1,0 547.3,402.3M547.4,404.6A2.10,1.34 198 1,0 551.4,405.9A2.10,1.34 198 1,0 547.4,404.6M547.5,406.9A2.10,1.34 198 1,0 551.5,408.1A2.10,1.34 198 1,0 547.5,406.9M547.6,409.1A2.10,1.34 198 1,0 551.6,410.4A2.10,1.34 198 1,0 547.6,409.1M547.7,411.4A2.10,1.34 198 1,0 551.7,412.7A2.10,1.34 198 1,0 547.7,411.4M547.8,413.7A2.10,1.34 198 1,0 551.8,415.0A2.10,1.34 198 1,0 547.8,413.7M547.9,416.0A2.10,1.34 198 1,0 551.9,417.2A2.10,1.34 198 1,0 547.9,416.0M548.0,418.2A2.10,1.34 198 1,0 552.0,419.5A2.10,1.34 198 1,0 548.0,418.2" fill="#ec8a22" stroke="#a56017" stroke-width="0.4"/><path d="M547.9,395.6A0.92,0.50 198 1,0 549.6,396.1A0.92,0.50 198 1,0 547.9,395.6M548.0,397.8A0.92,0.50 198 1,0 549.7,398.4A0.92,0.50 198 1,0 548.0,397.8M548.0,400.1A0.92,0.50 198 1,0 549.8,400.7A0.92,0.50 198 1,0 548.0,400.1M548.1,402.4A0.92,0.50 198 1,0 549.9,402.9A0.92,0.50 198 1,0 548.1,402.4M548.2,404.6A0.92,0.50 198 1,0 550.0,405.2A0.92,0.50 198 1,0 548.2,404.6M548.3,406.9A0.92,0.50 198 1,0 550.1,407.5A0.92,0.50 198 1,0 548.3,406.9M548.4,409.2A0.92,0.50 198 1,0 550.2,409.8A0.92,0.50 198 1,0 548.4,409.2M548.5,411.5A0.92,0.50 198 1,0 550.3,412.0A0.92,0.50 198 1,0 548.5,411.5M548.6,413.7A0.92,0.50 198 1,0 550.4,414.3A0.92,0.50 198 1,0 548.6,413.7M548.7,416.0A0.92,0.50 198 1,0 550.4,416.6A0.92,0.50 198 1,0 548.7,416.0M548.8,418.3A0.92,0.50 198 1,0 550.5,418.8A0.92,0.50 198 1,0 548.8,418.3" fill="#f4be85"/><path d="M560.7,406.2 C560.6,408.9 560.0,412.4 559.4,414.9 C558.7,417.4 557.7,420.7 556.8,421.2 C555.9,421.7 554.8,419.4 554.1,418.0 C553.4,416.6 553.0,415.0 552.5,413.0 C552.0,410.9 551.0,408.2 551.1,405.7 C551.2,403.2 552.2,400.1 553.0,398.0 C553.7,395.9 554.4,394.2 555.3,393.1 C556.2,392.1 557.6,390.6 558.3,391.5 C559.0,392.5 559.3,396.3 559.7,398.7 C560.1,401.2 560.7,403.5 560.7,406.2Z" fill="#f0c020" opacity="0.50"/><path d="M555.6,394.4a0.9,0.9 0 1,0 1.7,0a0.9,0.9 0 1,0 -1.7,0M555.5,418.4a1.0,1.0 0 1,0 1.9,0a1.0,1.0 0 1,0 -1.9,0M556.3,414.3a1.1,1.1 0 1,0 2.2,0a1.1,1.1 0 1,0 -2.2,0M558.2,408.8a1.2,1.2 0 1,0 2.3,0a1.2,1.2 0 1,0 -2.3,0M556.0,394.4a1.3,1.3 0 1,0 2.6,0a1.3,1.3 0 1,0 -2.6,0M553.9,411.3a0.9,0.9 0 1,0 1.8,0a0.9,0.9 0 1,0 -1.8,0M554.3,395.9a1.2,1.2 0 1,0 2.4,0a1.2,1.2 0 1,0 -2.4,0M554.1,394.2a1.0,1.0 0 1,0 2.1,0a1.0,1.0 0 1,0 -2.1,0M553.4,413.2a1.1,1.1 0 1,0 2.2,0a1.1,1.1 0 1,0 -2.2,0" fill="none" stroke="#f0c020" stroke-width="0.7"/><path d="M552.5,411.6a0.7,0.7 0 1,0 1.5,0a0.7,0.7 0 1,0 -1.5,0M556.7,402.5a1.5,1.5 0 1,0 2.9,0a1.5,1.5 0 1,0 -2.9,0M551.5,409.9a0.7,0.7 0 1,0 1.5,0a0.7,0.7 0 1,0 -1.5,0M558.8,408.7a1.0,1.0 0 1,0 2.0,0a1.0,1.0 0 1,0 -2.0,0M553.3,409.9a1.2,1.2 0 1,0 2.3,0a1.2,1.2 0 1,0 -2.3,0M556.3,416.6a1.4,1.4 0 1,0 2.7,0a1.4,1.4 0 1,0 -2.7,0M557.0,409.9a0.9,0.9 0 1,0 1.8,0a0.9,0.9 0 1,0 -1.8,0M559.0,401.1a0.8,0.8 0 1,0 1.6,0a0.8,0.8 0 1,0 -1.6,0M555.4,409.6a1.1,1.1 0 1,0 2.2,0a1.1,1.1 0 1,0 -2.2,0M556.6,396.2a1.0,1.0 0 1,0 2.0,0a1.0,1.0 0 1,0 -2.0,0" fill="none" stroke="#e0a020" stroke-width="0.7"/><path d="M557.5,397.7a1.3,1.3 0 1,0 2.6,0a1.3,1.3 0 1,0 -2.6,0M554.7,407.9a1.2,1.2 0 1,0 2.4,0a1.2,1.2 0 1,0 -2.4,0M552.4,398.6a1.0,1.0 0 1,0 2.1,0a1.0,1.0 0 1,0 -2.1,0M553.1,400.3a1.1,1.1 0 1,0 2.1,0a1.1,1.1 0 1,0 -2.1,0" fill="none" stroke="#f8d040" stroke-width="0.7"/><path d="M559.5,405.4a1.0,1.0 0 1,0 2.1,0a1.0,1.0 0 1,0 -2.1,0M559.2,401.5a0.8,0.8 0 1,0 1.7,0a0.8,0.8 0 1,0 -1.7,0M554.4,417.0a0.8,0.8 0 1,0 1.5,0a0.8,0.8 0 1,0 -1.5,0M556.1,408.8a1.3,1.3 0 1,0 2.6,0a1.3,1.3 0 1,0 -2.6,0M553.8,416.0a0.9,0.9 0 1,0 1.9,0a0.9,0.9 0 1,0 -1.9,0M555.9,405.3a1.1,1.1 0 1,0 2.3,0a1.1,1.1 0 1,0 -2.3,0M559.0,404.4a1.4,1.4 0 1,0 2.8,0a1.4,1.4 0 1,0 -2.8,0M557.1,393.0a0.7,0.7 0 1,0 1.5,0a0.7,0.7 0 1,0 -1.5,0M557.3,402.7a1.0,1.0 0 1,0 2.0,0a1.0,1.0 0 1,0 -2.0,0" fill="none" stroke="#ffe060" stroke-width="0.7"/><path d="M553.3,405.9l1.2,2.9M558.8,405.6l-0.9,1.9M553.9,398.3l-2.2,2.3M556.6,398.0l-1.0,1.3M550.1,405.3l2.6,1.5M558.0,402.8l2.0,1.0M555.7,407.4l0.9,3.3M555.4,399.5l-0.4,2.2M555.6,408.9l3.1,0.7" fill="none" stroke="#f0c020" stroke-width="0.9" stroke-linecap="round"/><path d="M558.6,411.9l-1.0,1.4M556.8,396.8l2.3,1.6M552.4,411.9l1.2,2.0M556.0,404.1l2.1,0.2M556.7,409.8l2.2,0.7M558.2,408.3l-3.3,0.2M557.1,397.8l-1.4,2.8M557.0,396.0l-1.4,2.8M559.0,407.6l0.8,1.5M560.4,394.0l-3.2,0.8" fill="none" stroke="#e0a020" stroke-width="0.9" stroke-linecap="round"/><path d="M557.5,408.3l0.4,2.3M558.7,414.4l0.4,2.6M555.5,414.0l-1.7,1.3M556.5,403.4l-0.1,3.5M553.1,400.6l-1.1,1.9M560.7,403.1l-1.2,2.5M558.5,398.4l0.8,1.4M554.9,399.3l-1.8,0.1M554.5,394.3l0.2,2.4M555.4,414.3l-1.2,1.5" fill="none" stroke="#ffe060" stroke-width="0.9" stroke-linecap="round"/><path d="M556.4,398.8l-1.8,0.4M557.5,412.2l0.8,3.2M552.1,411.2l2.7,0.8M558.1,399.8l0.9,1.3M552.7,409.3l2.6,1.0M558.6,396.2l-1.7,0.0" fill="none" stroke="#f8d040" stroke-width="0.9" stroke-linecap="round"/><path d="M552.6,392.5A2.60,1.66 194 1,0 557.6,393.7A2.60,1.66 194 1,0 552.6,392.5M552.8,394.7A2.60,1.66 194 1,0 557.9,396.0A2.60,1.66 194 1,0 552.8,394.7M553.1,396.9A2.60,1.66 194 1,0 558.1,398.2A2.60,1.66 194 1,0 553.1,396.9M553.3,399.2A2.60,1.66 194 1,0 558.3,400.4A2.60,1.66 194 1,0 553.3,399.2M553.5,401.4A2.60,1.66 194 1,0 558.6,402.7A2.60,1.66 194 1,0 553.5,401.4M553.7,403.6A2.60,1.66 194 1,0 558.8,404.9A2.60,1.66 194 1,0 553.7,403.6M554.0,405.9A2.60,1.66 194 1,0 559.0,407.1A2.60,1.66 194 1,0 554.0,405.9M554.2,408.1A2.60,1.66 194 1,0 559.3,409.4A2.60,1.66 194 1,0 554.2,408.1M554.4,410.3A2.60,1.66 194 1,0 559.5,411.6A2.60,1.66 194 1,0 554.4,410.3M554.7,412.6A2.60,1.66 194 1,0 559.7,413.8A2.60,1.66 194 1,0 554.7,412.6M554.9,414.8A2.60,1.66 194 1,0 559.9,416.1A2.60,1.66 194 1,0 554.9,414.8M555.1,417.0A2.60,1.66 194 1,0 560.2,418.3A2.60,1.66 194 1,0 555.1,417.0M555.4,419.3A2.60,1.66 194 1,0 560.4,420.5A2.60,1.66 194 1,0 555.4,419.3" fill="#f4c424" stroke="#aa8919" stroke-width="0.4"/><path d="M553.7,392.5A1.14,0.62 194 1,0 555.9,393.1A1.14,0.62 194 1,0 553.7,392.5M553.9,394.8A1.14,0.62 194 1,0 556.2,395.3A1.14,0.62 194 1,0 553.9,394.8M554.2,397.0A1.14,0.62 194 1,0 556.4,397.6A1.14,0.62 194 1,0 554.2,397.0M554.4,399.2A1.14,0.62 194 1,0 556.6,399.8A1.14,0.62 194 1,0 554.4,399.2M554.6,401.5A1.14,0.62 194 1,0 556.8,402.0A1.14,0.62 194 1,0 554.6,401.5M554.9,403.7A1.14,0.62 194 1,0 557.1,404.2A1.14,0.62 194 1,0 554.9,403.7M555.1,405.9A1.14,0.62 194 1,0 557.3,406.5A1.14,0.62 194 1,0 555.1,405.9M555.3,408.2A1.14,0.62 194 1,0 557.5,408.7A1.14,0.62 194 1,0 555.3,408.2M555.6,410.4A1.14,0.62 194 1,0 557.8,410.9A1.14,0.62 194 1,0 555.6,410.4M555.8,412.6A1.14,0.62 194 1,0 558.0,413.2A1.14,0.62 194 1,0 555.8,412.6M556.0,414.8A1.14,0.62 194 1,0 558.2,415.4A1.14,0.62 194 1,0 556.0,414.8M556.2,417.1A1.14,0.62 194 1,0 558.5,417.6A1.14,0.62 194 1,0 556.2,417.1M556.5,419.3A1.14,0.62 194 1,0 558.7,419.9A1.14,0.62 194 1,0 556.5,419.3" fill="#f8de86"/><path d="M542.0,420.3A2.50,1.60 177 1,0 547.0,420.1A2.50,1.60 177 1,0 542.0,420.3M543.0,422.7A2.50,1.60 177 1,0 548.0,422.4A2.50,1.60 177 1,0 543.0,422.7M544.0,425.1A2.50,1.60 177 1,0 549.0,424.8A2.50,1.60 177 1,0 544.0,425.1M545.0,427.4A2.50,1.60 177 1,0 550.0,427.2A2.50,1.60 177 1,0 545.0,427.4" fill="#44d424" stroke="#2f9419" stroke-width="0.4"/><path d="M543.1,419.9A1.10,0.60 177 1,0 545.3,419.8A1.10,0.60 177 1,0 543.1,419.9M544.1,422.3A1.10,0.60 177 1,0 546.3,422.2A1.10,0.60 177 1,0 544.1,422.3M545.1,424.7A1.10,0.60 177 1,0 547.3,424.6A1.10,0.60 177 1,0 545.1,424.7M546.1,427.1A1.10,0.60 177 1,0 548.3,427.0A1.10,0.60 177 1,0 546.1,427.1" fill="#98e786"/></g>
<text x="54.3" y="278.5" font-size="8.8" fill="#3c3c3c" text-anchor="middle" font-weight="normal">HO</text><text x="72.7" y="278.5" font-size="8.8" fill="#3c3c3c" text-anchor="middle" font-weight="normal">P</text><text x="73.1" y="265.0" font-size="8.8" fill="#3c3c3c" text-anchor="middle" font-weight="normal">O</text><text x="88.1" y="278.5" font-size="8.8" fill="#3c3c3c" text-anchor="middle" font-weight="normal">O</text><text x="76.7" y="291.6" font-size="8.8" fill="#3c3c3c" text-anchor="middle" font-weight="normal">OH</text><line x1="61.4" y1="275.4" x2="68.6" y2="275.4" stroke="#3c3c3c" stroke-width="1.05" stroke-linecap="butt"/><line x1="77.0" y1="275.4" x2="84.0" y2="275.4" stroke="#3c3c3c" stroke-width="1.05" stroke-linecap="butt"/><line x1="92.6" y1="275.4" x2="103.3" y2="275.4" stroke="#3c3c3c" stroke-width="1.05" stroke-linecap="butt"/><line x1="103.3" y1="275.4" x2="103.3" y2="288.3" stroke="#3c3c3c" stroke-width="1.05" stroke-linecap="butt"/><line x1="71.7" y1="265.3" x2="71.7" y2="271.6" stroke="#3c3c3c" stroke-width="1.05" stroke-linecap="butt"/><line x1="74.3" y1="265.3" x2="74.3" y2="271.6" stroke="#3c3c3c" stroke-width="1.05" stroke-linecap="butt"/><line x1="73.2" y1="279.3" x2="73.2" y2="284.8" stroke="#3c3c3c" stroke-width="1.05" stroke-linecap="butt"/><text x="119.7" y="288.1" font-size="8.8" fill="#3c3c3c" text-anchor="middle" font-weight="normal">O</text><line x1="103.3" y1="288.3" x2="115.8" y2="285.4" stroke="#3c3c3c" stroke-width="1.05" stroke-linecap="butt"/><line x1="123.6" y1="285.4" x2="136.5" y2="287.8" stroke="#3c3c3c" stroke-width="1.05" stroke-linecap="butt"/><path d="M103.3,288.3 L110.4,296.8 L108.9,294.7 Z" fill="#3c3c3c" stroke="#3c3c3c" stroke-width="1.6"/><line x1="109.6" y1="295.6" x2="129.6" y2="295.6" stroke="#1e1e1e" stroke-width="2.80" stroke-linecap="butt"/><line x1="136.5" y1="287.8" x2="129.6" y2="295.6" stroke="#2a2a2a" stroke-width="1.80" stroke-linecap="butt"/><line x1="109.8" y1="296.5" x2="109.8" y2="304.5" stroke="#3c3c3c" stroke-width="1.05" stroke-linecap="butt"/><line x1="129.4" y1="296.5" x2="129.4" y2="304.5" stroke="#3c3c3c" stroke-width="1.05" stroke-linecap="butt"/><text x="112.9" y="311.7" font-size="8.8" fill="#3c3c3c" text-anchor="middle" font-weight="normal">OH</text><text x="133.0" y="311.7" font-size="8.8" fill="#3c3c3c" text-anchor="middle" font-weight="normal">OH</text><line x1="136.5" y1="287.8" x2="136.5" y2="276.3" stroke="#3c3c3c" stroke-width="1.05" stroke-linecap="butt"/><text x="136.6" y="275.7" font-size="8.8" fill="#3c3c3c" text-anchor="middle" font-weight="normal">N</text><line x1="139.8" y1="270.3" x2="147.2" y2="265.4" stroke="#3c3c3c" stroke-width="1.05" stroke-linecap="butt"/><line x1="147.2" y1="265.4" x2="143.7" y2="253.0" stroke="#3c3c3c" stroke-width="1.05" stroke-linecap="butt"/><line x1="144.7" y1="262.6" x2="142.0" y2="254.4" stroke="#3c3c3c" stroke-width="1.05" stroke-linecap="butt"/><line x1="143.7" y1="253.0" x2="132.0" y2="253.0" stroke="#3c3c3c" stroke-width="1.05" stroke-linecap="butt"/><text x="128.5" y="256.1" font-size="8.8" fill="#3c3c3c" text-anchor="middle" font-weight="normal">N</text><line x1="126.6" y1="256.0" x2="124.0" y2="263.7" stroke="#3c3c3c" stroke-width="1.05" stroke-linecap="butt"/><line x1="128.8" y1="257.4" x2="126.6" y2="263.2" stroke="#3c3c3c" stroke-width="1.05" stroke-linecap="butt"/><line x1="124.0" y1="263.7" x2="133.5" y2="271.0" stroke="#3c3c3c" stroke-width="1.05" stroke-linecap="butt"/><line x1="143.7" y1="253.0" x2="153.5" y2="242.3" stroke="#3c3c3c" stroke-width="1.05" stroke-linecap="butt"/><line x1="153.5" y1="242.3" x2="151.0" y2="234.2" stroke="#3c3c3c" stroke-width="1.05" stroke-linecap="butt"/><line x1="151.0" y1="242.9" x2="148.6" y2="235.0" stroke="#3c3c3c" stroke-width="1.05" stroke-linecap="butt"/><text x="149.0" y="233.4" font-size="8.8" fill="#3c3c3c" text-anchor="middle" font-weight="normal">O</text><line x1="153.5" y1="242.3" x2="164.2" y2="245.2" stroke="#3c3c3c" stroke-width="1.05" stroke-linecap="butt"/><text x="165.0" y="249.0" font-size="8.8" fill="#3c3c3c" text-anchor="start" font-weight="normal">NH</text><text x="178.8" y="250.6" font-size="6.2" fill="#3c3c3c" text-anchor="start" font-weight="normal">2</text><line x1="147.2" y1="265.4" x2="158.8" y2="268.0" stroke="#3c3c3c" stroke-width="1.05" stroke-linecap="butt"/><text x="159.6" y="271.7" font-size="8.8" fill="#3c3c3c" text-anchor="start" font-weight="normal">NH</text><text x="173.4" y="273.3" font-size="6.2" fill="#3c3c3c" text-anchor="start" font-weight="normal">2</text>
<line x1="813.2" y1="215.7" x2="826.6" y2="222.8" stroke="#3c3c3c" stroke-width="1.05" stroke-linecap="butt"/><line x1="826.6" y1="222.8" x2="826.6" y2="237.6" stroke="#3c3c3c" stroke-width="1.05" stroke-linecap="butt"/><line x1="826.6" y1="237.6" x2="813.2" y2="245.6" stroke="#3c3c3c" stroke-width="1.05" stroke-linecap="butt"/><line x1="813.2" y1="245.6" x2="799.9" y2="237.6" stroke="#3c3c3c" stroke-width="1.05" stroke-linecap="butt"/><line x1="799.9" y1="237.6" x2="799.9" y2="222.8" stroke="#3c3c3c" stroke-width="1.05" stroke-linecap="butt"/><line x1="799.9" y1="222.8" x2="813.2" y2="215.7" stroke="#3c3c3c" stroke-width="1.05" stroke-linecap="butt"/><line x1="813.2" y1="215.7" x2="813.2" y2="201.2" stroke="#3c3c3c" stroke-width="1.05" stroke-linecap="butt"/><line x1="813.2" y1="201.2" x2="826.6" y2="193.6" stroke="#3c3c3c" stroke-width="1.05" stroke-linecap="butt"/><line x1="826.6" y1="193.6" x2="839.8" y2="201.2" stroke="#3c3c3c" stroke-width="1.05" stroke-linecap="butt"/><line x1="839.8" y1="201.2" x2="839.8" y2="215.7" stroke="#3c3c3c" stroke-width="1.05" stroke-linecap="butt"/><line x1="839.8" y1="215.7" x2="826.6" y2="222.8" stroke="#3c3c3c" stroke-width="1.05" stroke-linecap="butt"/><line x1="839.8" y1="201.2" x2="854.8" y2="194.3" stroke="#3c3c3c" stroke-width="1.05" stroke-linecap="butt"/><line x1="854.8" y1="194.3" x2="864.0" y2="208.5" stroke="#3c3c3c" stroke-width="1.05" stroke-linecap="butt"/><line x1="864.0" y1="208.5" x2="854.8" y2="219.2" stroke="#3c3c3c" stroke-width="1.05" stroke-linecap="butt"/><line x1="854.8" y1="219.2" x2="839.8" y2="215.7" stroke="#3c3c3c" stroke-width="1.05" stroke-linecap="butt"/><line x1="799.9" y1="222.8" x2="786.6" y2="215.7" stroke="#3c3c3c" stroke-width="1.05" stroke-linecap="butt"/><line x1="774.0" y1="237.6" x2="786.6" y2="245.6" stroke="#3c3c3c" stroke-width="1.05" stroke-linecap="butt"/><line x1="786.6" y1="245.6" x2="799.9" y2="237.6" stroke="#3c3c3c" stroke-width="1.05" stroke-linecap="butt"/><line x1="786.6" y1="245.6" x2="792.2" y2="256.4" stroke="#3c3c3c" stroke-width="1.05" stroke-linecap="butt"/><line x1="786.6" y1="215.7" x2="777.0" y2="221.1" stroke="#3c3c3c" stroke-width="1.05" stroke-linecap="butt"/><line x1="774.0" y1="226.6" x2="774.0" y2="237.6" stroke="#3c3c3c" stroke-width="1.05" stroke-linecap="butt"/><line x1="792.2" y1="256.4" x2="804.6" y2="256.4" stroke="#3c3c3c" stroke-width="1.05" stroke-linecap="butt"/><line x1="809.5" y1="253.0" x2="813.2" y2="245.6" stroke="#3c3c3c" stroke-width="1.05" stroke-linecap="butt"/><line x1="814.3" y1="218.5" x2="823.7" y2="223.5" stroke="#4a4a4a" stroke-width="1.00" stroke-linecap="butt"/><line x1="789.2" y1="246.3" x2="793.1" y2="253.9" stroke="#4a4a4a" stroke-width="1.00" stroke-linecap="butt"/><line x1="810.2" y1="246.1" x2="800.9" y2="240.5" stroke="#4a4a4a" stroke-width="1.00" stroke-linecap="butt"/><text x="774.0" y="225.9" font-size="8.8" fill="#3c3c3c" text-anchor="middle" font-weight="normal">O</text><text x="807.6" y="259.7" font-size="8.8" fill="#3c3c3c" text-anchor="middle" font-weight="normal">O</text><line x1="772.6" y1="237.0" x2="763.4" y2="240.1" stroke="#4a4a4a" stroke-width="1.00" stroke-linecap="butt"/><line x1="773.4" y1="239.2" x2="764.2" y2="242.3" stroke="#4a4a4a" stroke-width="1.00" stroke-linecap="butt"/><text x="760.6" y="245.7" font-size="8.8" fill="#3c3c3c" text-anchor="middle" font-weight="normal">O</text><line x1="827.2" y1="239.2" x2="835.0" y2="242.1" stroke="#4a4a4a" stroke-width="1.00" stroke-linecap="butt"/><line x1="828.0" y1="237.0" x2="835.8" y2="239.9" stroke="#4a4a4a" stroke-width="1.00" stroke-linecap="butt"/><text x="838.6" y="245.7" font-size="8.8" fill="#3c3c3c" text-anchor="middle" font-weight="normal">O</text><line x1="855.9" y1="194.8" x2="859.1" y2="188.3" stroke="#4a4a4a" stroke-width="1.00" stroke-linecap="butt"/><line x1="853.7" y1="193.8" x2="856.9" y2="187.3" stroke="#4a4a4a" stroke-width="1.00" stroke-linecap="butt"/><text x="859.9" y="187.7" font-size="8.8" fill="#3c3c3c" text-anchor="middle" font-weight="normal">O</text><path d="M799.9,222.8 L801.3,208.4 L798.5,208.4 Z" fill="#222"/><path d="M839.8,201.2 L841.2,187.6 L838.4,187.6 Z" fill="#222"/><line x1="840.3" y1="216.8" x2="839.3" y2="216.8" stroke="#3c3c3c" stroke-width="0.80" stroke-linecap="butt"/><line x1="840.6" y1="219.1" x2="839.0" y2="219.1" stroke="#3c3c3c" stroke-width="0.80" stroke-linecap="butt"/><line x1="841.0" y1="221.4" x2="838.6" y2="221.4" stroke="#3c3c3c" stroke-width="0.80" stroke-linecap="butt"/><line x1="841.3" y1="223.7" x2="838.3" y2="223.7" stroke="#3c3c3c" stroke-width="0.80" stroke-linecap="butt"/><text x="840.2" y="231.9" font-size="8.2" fill="#3c3c3c" text-anchor="middle" font-weight="normal">H</text><line x1="811.8" y1="201.1" x2="812.1" y2="200.2" stroke="#3c3c3c" stroke-width="0.80" stroke-linecap="butt"/><line x1="809.1" y1="200.4" x2="809.8" y2="198.8" stroke="#3c3c3c" stroke-width="0.80" stroke-linecap="butt"/><line x1="806.5" y1="199.7" x2="807.4" y2="197.4" stroke="#3c3c3c" stroke-width="0.80" stroke-linecap="butt"/><line x1="803.8" y1="199.0" x2="805.1" y2="196.0" stroke="#3c3c3c" stroke-width="0.80" stroke-linecap="butt"/><text x="800.0" y="198.4" font-size="8.8" fill="#3c3c3c" text-anchor="middle" font-weight="normal">O</text><line x1="800.0" y1="191.5" x2="800.0" y2="182.0" stroke="#3c3c3c" stroke-width="1.05" stroke-linecap="butt"/><line x1="800.0" y1="182.0" x2="787.4" y2="174.8" stroke="#3c3c3c" stroke-width="1.05" stroke-linecap="butt"/><line x1="800.6" y1="183.1" x2="810.6" y2="177.7" stroke="#4a4a4a" stroke-width="1.00" stroke-linecap="butt"/><line x1="799.4" y1="180.9" x2="809.4" y2="175.5" stroke="#4a4a4a" stroke-width="1.00" stroke-linecap="butt"/><text x="813.3" y="177.9" font-size="8.8" fill="#3c3c3c" text-anchor="middle" font-weight="normal">O</text><line x1="786.1" y1="214.1" x2="787.1" y2="214.1" stroke="#3c3c3c" stroke-width="0.80" stroke-linecap="butt"/><line x1="785.7" y1="211.0" x2="787.5" y2="211.0" stroke="#3c3c3c" stroke-width="0.80" stroke-linecap="butt"/><line x1="785.4" y1="207.9" x2="787.8" y2="207.9" stroke="#3c3c3c" stroke-width="0.80" stroke-linecap="butt"/><line x1="785.0" y1="204.8" x2="788.2" y2="204.8" stroke="#3c3c3c" stroke-width="0.80" stroke-linecap="butt"/><line x1="786.6" y1="203.2" x2="777.3" y2="197.6" stroke="#3c3c3c" stroke-width="1.05" stroke-linecap="butt"/><text x="774.0" y="198.4" font-size="8.8" fill="#3c3c3c" text-anchor="middle" font-weight="normal">O</text><line x1="774.0" y1="191.5" x2="774.0" y2="181.6" stroke="#3c3c3c" stroke-width="1.05" stroke-linecap="butt"/>
<line x1="783.4" y1="419.3" x2="792.7" y2="414.1" stroke="#3c3c3c" stroke-width="1.05" stroke-linecap="butt"/><line x1="792.7" y1="414.1" x2="802.0" y2="419.3" stroke="#3c3c3c" stroke-width="1.05" stroke-linecap="butt"/><line x1="802.0" y1="419.3" x2="802.0" y2="432.1" stroke="#3c3c3c" stroke-width="1.05" stroke-linecap="butt"/><line x1="802.0" y1="432.1" x2="792.7" y2="437.3" stroke="#3c3c3c" stroke-width="1.05" stroke-linecap="butt"/><line x1="792.7" y1="437.3" x2="783.4" y2="432.1" stroke="#3c3c3c" stroke-width="1.05" stroke-linecap="butt"/><line x1="783.4" y1="432.1" x2="783.4" y2="419.3" stroke="#3c3c3c" stroke-width="1.05" stroke-linecap="butt"/><line x1="785.8" y1="420.3" x2="792.3" y2="416.6" stroke="#4a4a4a" stroke-width="1.00" stroke-linecap="butt"/><line x1="800.0" y1="421.2" x2="800.0" y2="430.2" stroke="#4a4a4a" stroke-width="1.00" stroke-linecap="butt"/><line x1="792.3" y1="434.8" x2="785.8" y2="431.1" stroke="#4a4a4a" stroke-width="1.00" stroke-linecap="butt"/><line x1="802.0" y1="419.3" x2="808.8" y2="415.5" stroke="#3c3c3c" stroke-width="1.05" stroke-linecap="butt"/><line x1="813.6" y1="415.5" x2="820.5" y2="419.3" stroke="#3c3c3c" stroke-width="1.05" stroke-linecap="butt"/><line x1="820.5" y1="419.3" x2="820.5" y2="432.1" stroke="#3c3c3c" stroke-width="1.05" stroke-linecap="butt"/><line x1="820.5" y1="432.1" x2="813.6" y2="436.0" stroke="#3c3c3c" stroke-width="1.05" stroke-linecap="butt"/><line x1="808.8" y1="436.0" x2="802.0" y2="432.1" stroke="#3c3c3c" stroke-width="1.05" stroke-linecap="butt"/><line x1="813.0" y1="417.4" x2="819.2" y2="420.9" stroke="#4a4a4a" stroke-width="1.00" stroke-linecap="butt"/><line x1="819.2" y1="430.6" x2="813.0" y2="434.1" stroke="#4a4a4a" stroke-width="1.00" stroke-linecap="butt"/><text x="811.2" y="416.9" font-size="8.0" fill="#3c3c3c" text-anchor="middle" font-weight="normal">N</text><text x="811.2" y="440.1" font-size="8.0" fill="#3c3c3c" text-anchor="middle" font-weight="normal">N</text><line x1="783.4" y1="419.3" x2="776.0" y2="417.2" stroke="#3c3c3c" stroke-width="1.05" stroke-linecap="butt"/><line x1="783.4" y1="432.1" x2="775.8" y2="434.6" stroke="#3c3c3c" stroke-width="1.05" stroke-linecap="butt"/><line x1="770.6" y1="418.8" x2="766.6" y2="425.7" stroke="#3c3c3c" stroke-width="1.05" stroke-linecap="butt"/><line x1="772.3" y1="420.4" x2="768.6" y2="426.0" stroke="#3c3c3c" stroke-width="1.05" stroke-linecap="butt"/><line x1="766.6" y1="425.7" x2="770.4" y2="432.8" stroke="#3c3c3c" stroke-width="1.05" stroke-linecap="butt"/><text x="773.0" y="419.2" font-size="8.0" fill="#3c3c3c" text-anchor="middle" font-weight="normal">N</text><text x="772.6" y="437.8" font-size="8.0" fill="#3c3c3c" text-anchor="middle" font-weight="normal">N</text><text x="772.6" y="443.2" font-size="8.0" fill="#3c3c3c" text-anchor="middle" font-weight="normal">H</text><line x1="829.8" y1="404.8" x2="839.0" y2="399.4" stroke="#3c3c3c" stroke-width="1.05" stroke-linecap="butt"/><line x1="839.0" y1="399.4" x2="848.3" y2="404.8" stroke="#3c3c3c" stroke-width="1.05" stroke-linecap="butt"/><line x1="848.3" y1="404.8" x2="848.3" y2="415.6" stroke="#3c3c3c" stroke-width="1.05" stroke-linecap="butt"/><line x1="848.3" y1="415.6" x2="839.0" y2="421.0" stroke="#3c3c3c" stroke-width="1.05" stroke-linecap="butt"/><line x1="839.0" y1="421.0" x2="829.8" y2="415.6" stroke="#3c3c3c" stroke-width="1.05" stroke-linecap="butt"/><line x1="829.8" y1="415.6" x2="829.8" y2="404.8" stroke="#3c3c3c" stroke-width="1.05" stroke-linecap="butt"/><line x1="832.2" y1="405.7" x2="838.6" y2="401.9" stroke="#4a4a4a" stroke-width="1.00" stroke-linecap="butt"/><line x1="846.3" y1="406.4" x2="846.3" y2="414.0" stroke="#4a4a4a" stroke-width="1.00" stroke-linecap="butt"/><line x1="838.6" y1="418.5" x2="832.2" y2="414.7" stroke="#4a4a4a" stroke-width="1.00" stroke-linecap="butt"/><line x1="820.5" y1="419.3" x2="829.8" y2="415.6" stroke="#3c3c3c" stroke-width="1.05" stroke-linecap="butt"/><line x1="829.8" y1="437.9" x2="839.0" y2="432.6" stroke="#3c3c3c" stroke-width="1.05" stroke-linecap="butt"/><line x1="839.0" y1="432.6" x2="848.3" y2="437.9" stroke="#3c3c3c" stroke-width="1.05" stroke-linecap="butt"/><line x1="848.3" y1="437.9" x2="848.3" y2="448.3" stroke="#3c3c3c" stroke-width="1.05" stroke-linecap="butt"/><line x1="848.3" y1="448.3" x2="839.0" y2="453.5" stroke="#3c3c3c" stroke-width="1.05" stroke-linecap="butt"/><line x1="839.0" y1="453.5" x2="829.8" y2="448.3" stroke="#3c3c3c" stroke-width="1.05" stroke-linecap="butt"/><line x1="829.8" y1="448.3" x2="829.8" y2="437.9" stroke="#3c3c3c" stroke-width="1.05" stroke-linecap="butt"/><line x1="832.2" y1="438.8" x2="838.6" y2="435.1" stroke="#4a4a4a" stroke-width="1.00" stroke-linecap="butt"/><line x1="846.3" y1="439.5" x2="846.3" y2="446.7" stroke="#4a4a4a" stroke-width="1.00" stroke-linecap="butt"/><line x1="838.6" y1="451.0" x2="832.2" y2="447.3" stroke="#4a4a4a" stroke-width="1.00" stroke-linecap="butt"/><line x1="820.5" y1="432.1" x2="829.8" y2="437.9" stroke="#3c3c3c" stroke-width="1.05" stroke-linecap="butt"/><line x1="848.3" y1="448.3" x2="857.7" y2="453.0" stroke="#3c3c3c" stroke-width="1.05" stroke-linecap="butt"/><line x1="857.7" y1="453.0" x2="863.6" y2="450.0" stroke="#3c3c3c" stroke-width="1.05" stroke-linecap="butt"/><line x1="866.6" y1="444.0" x2="866.6" y2="436.4" stroke="#3c3c3c" stroke-width="1.05" stroke-linecap="butt"/><line x1="866.6" y1="436.4" x2="876.2" y2="431.0" stroke="#3c3c3c" stroke-width="1.05" stroke-linecap="butt"/><line x1="876.2" y1="431.0" x2="885.7" y2="436.4" stroke="#3c3c3c" stroke-width="1.05" stroke-linecap="butt"/><line x1="885.7" y1="436.4" x2="885.7" y2="447.6" stroke="#3c3c3c" stroke-width="1.05" stroke-linecap="butt"/><line x1="885.7" y1="447.6" x2="876.2" y2="453.0" stroke="#3c3c3c" stroke-width="1.05" stroke-linecap="butt"/><line x1="876.2" y1="453.0" x2="869.8" y2="449.4" stroke="#3c3c3c" stroke-width="1.05" stroke-linecap="butt"/><text x="866.6" y="450.6" font-size="8.0" fill="#3c3c3c" text-anchor="middle" font-weight="normal">N</text><line x1="885.7" y1="436.4" x2="891.6" y2="433.2" stroke="#3c3c3c" stroke-width="1.05" stroke-linecap="butt"/><text x="894.5" y="434.4" font-size="8.0" fill="#3c3c3c" text-anchor="middle" font-weight="normal">N</text><line x1="894.8" y1="428.2" x2="896.0" y2="420.7" stroke="#3c3c3c" stroke-width="1.05" stroke-linecap="butt"/><line x1="896.9" y1="419.9" x2="891.7" y2="414.6" stroke="#4a4a4a" stroke-width="1.00" stroke-linecap="butt"/><line x1="895.1" y1="421.5" x2="889.9" y2="416.2" stroke="#4a4a4a" stroke-width="1.00" stroke-linecap="butt"/><text x="888.1" y="416.4" font-size="8.8" fill="#3c3c3c" text-anchor="middle" font-weight="normal">O</text><line x1="896.0" y1="420.7" x2="903.6" y2="418.8" stroke="#3c3c3c" stroke-width="1.05" stroke-linecap="butt"/><text x="906.6" y="421.1" font-size="8.0" fill="#3c3c3c" text-anchor="middle" font-weight="normal">N</text><text x="911.2" y="421.1" font-size="8.0" fill="#3c3c3c" text-anchor="middle" font-weight="normal">H</text><line x1="912.6" y1="428.5" x2="923.4" y2="430.5" stroke="#3c3c3c" stroke-width="1.05" stroke-linecap="butt"/><line x1="923.4" y1="430.5" x2="926.4" y2="440.3" stroke="#3c3c3c" stroke-width="1.05" stroke-linecap="butt"/><line x1="926.4" y1="440.3" x2="918.0" y2="448.1" stroke="#3c3c3c" stroke-width="1.05" stroke-linecap="butt"/><line x1="918.0" y1="448.1" x2="907.7" y2="446.2" stroke="#3c3c3c" stroke-width="1.05" stroke-linecap="butt"/><line x1="907.7" y1="446.2" x2="905.8" y2="435.4" stroke="#3c3c3c" stroke-width="1.05" stroke-linecap="butt"/><line x1="905.8" y1="435.4" x2="912.6" y2="428.5" stroke="#3c3c3c" stroke-width="1.05" stroke-linecap="butt"/><line x1="913.9" y1="430.8" x2="921.4" y2="432.2" stroke="#4a4a4a" stroke-width="1.00" stroke-linecap="butt"/><line x1="923.8" y1="440.0" x2="917.9" y2="445.5" stroke="#4a4a4a" stroke-width="1.00" stroke-linecap="butt"/><line x1="909.4" y1="444.2" x2="908.1" y2="436.7" stroke="#4a4a4a" stroke-width="1.00" stroke-linecap="butt"/><line x1="908.4" y1="421.6" x2="912.6" y2="428.5" stroke="#3c3c3c" stroke-width="1.05" stroke-linecap="butt"/><line x1="897.6" y1="433.2" x2="905.8" y2="435.4" stroke="#3c3c3c" stroke-width="1.05" stroke-linecap="butt"/>
<text x="33.9" y="71.0" font-size="36.43" font-weight="bold" fill="#ec0000" textLength="28.1" lengthAdjust="spacingAndGlyphs">O</text><text x="62.9" y="71.0" font-size="36.43" font-weight="bold" fill="#ec0000" textLength="19.9" lengthAdjust="spacingAndGlyphs">S</text><text x="82.9" y="71.0" font-size="36.43" font-weight="bold" fill="#ec0000" textLength="37.0" lengthAdjust="spacingAndGlyphs">M</text><text x="121.5" y="71.0" font-size="36.43" font-weight="bold" fill="#ec0000" textLength="26.5" lengthAdjust="spacingAndGlyphs">O</text><text x="147.3" y="71.0" font-size="36.43" font-weight="bold" fill="#ec0000" textLength="22.0" lengthAdjust="spacingAndGlyphs">T</text><text x="169.3" y="71.0" font-size="36.43" font-weight="bold" fill="#ec0000" textLength="10.5" lengthAdjust="spacingAndGlyphs">I</text><text x="181.4" y="71.0" font-size="36.43" font-weight="bold" fill="#ec0000" textLength="22.2" lengthAdjust="spacingAndGlyphs">C</text><text x="213.1" y="71.0" font-size="36.43" font-weight="bold" fill="#ec0000" textLength="19.3" lengthAdjust="spacingAndGlyphs">S</text><text x="231.5" y="71.0" font-size="36.43" font-weight="bold" fill="#ec0000" textLength="21.8" lengthAdjust="spacingAndGlyphs">T</text><text x="254.3" y="71.0" font-size="36.43" font-weight="bold" fill="#ec0000" textLength="24.3" lengthAdjust="spacingAndGlyphs">R</text><text x="278.8" y="71.0" font-size="36.43" font-weight="bold" fill="#ec0000" textLength="17.6" lengthAdjust="spacingAndGlyphs">E</text><text x="298.7" y="71.0" font-size="36.43" font-weight="bold" fill="#ec0000" textLength="19.3" lengthAdjust="spacingAndGlyphs">S</text><text x="318.9" y="71.0" font-size="36.43" font-weight="bold" fill="#ec0000" textLength="18.8" lengthAdjust="spacingAndGlyphs">S</text>
<text x="452.8" y="40.6" font-size="19.57" font-weight="bold" fill="#111" textLength="34.7" lengthAdjust="spacingAndGlyphs">TSH</text>
<text x="556.8" y="170.4" font-size="20.43" font-weight="bold" fill="#111" textLength="42.3" lengthAdjust="spacingAndGlyphs">TSHr</text>
<text x="784.3" y="34.2" font-size="19.43" font-weight="bold" fill="#111" textLength="103.3" lengthAdjust="spacingAndGlyphs">INHIBITION</text>
<text x="783.6" y="68.8" font-size="19.86" font-weight="bold" fill="#111" textLength="109.4" lengthAdjust="spacingAndGlyphs">ACTIVATION</text>
<text x="338.9" y="240.0" font-size="19.71" font-weight="bold" fill="#111" textLength="55.0" lengthAdjust="spacingAndGlyphs">AMPK</text>
<text x="564.3" y="316.1" font-size="19.57" font-weight="bold" fill="#111" textLength="39.3" lengthAdjust="spacingAndGlyphs">PI3K</text>
<text x="567.7" y="417.3" font-size="18.57" font-weight="bold" fill="#111" textLength="30.4" lengthAdjust="spacingAndGlyphs">Akt</text>
<text x="337.9" y="387.9" font-size="15.00" font-weight="bold" fill="#230808" textLength="64.8" lengthAdjust="spacingAndGlyphs">REDUCED</text>
<text x="331.5" y="407.6" font-size="14.86" font-weight="bold" fill="#230808" textLength="78.2" lengthAdjust="spacingAndGlyphs">HEMOLYSIS</text>
<text x="99.8" y="335.7" font-size="14.57" font-weight="bold" fill="#111" textLength="42.9" lengthAdjust="spacingAndGlyphs">AICAR</text>
<text x="757.0" y="280.6" font-size="14.57" font-weight="bold" fill="#111" textLength="96.9" lengthAdjust="spacingAndGlyphs">WORMANNIN</text>
<text x="797.7" y="480.0" font-size="14.86" font-weight="bold" fill="#111" textLength="126.4" lengthAdjust="spacingAndGlyphs">Akt 1/2 INHIBITOR</text></svg></body></html>
